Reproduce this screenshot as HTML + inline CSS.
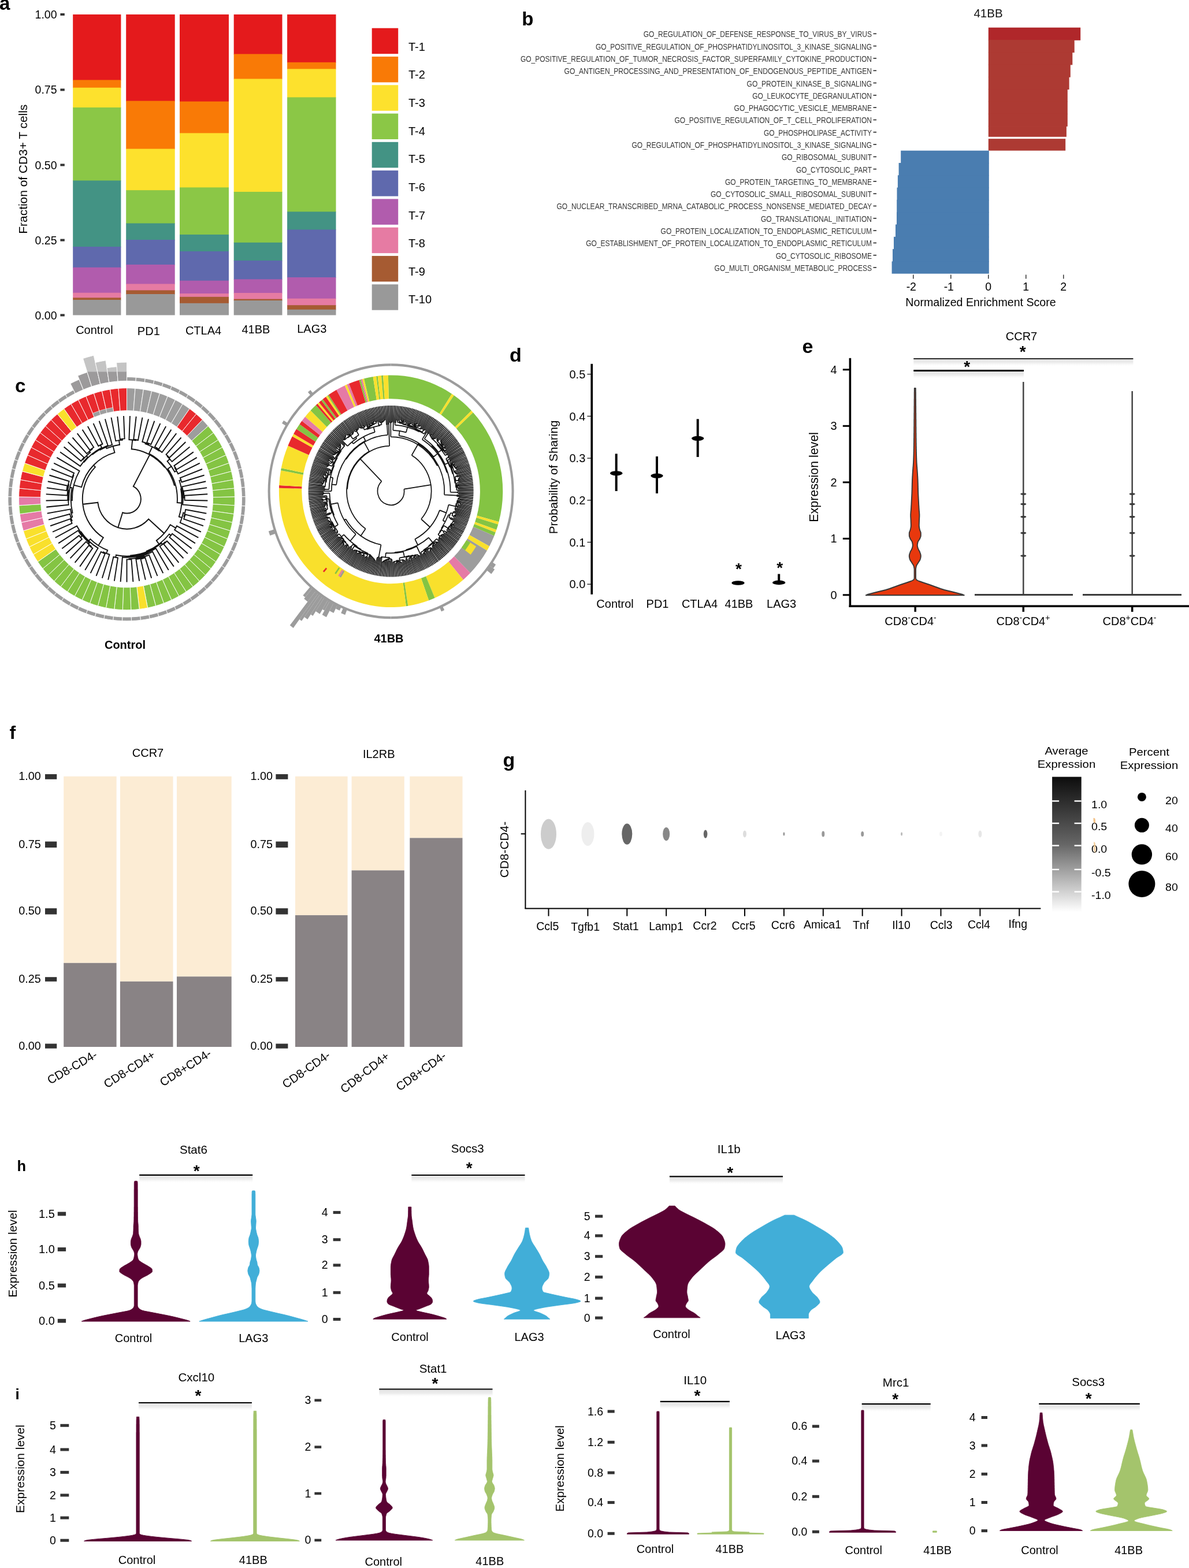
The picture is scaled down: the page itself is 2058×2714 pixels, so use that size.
<!DOCTYPE html>
<html><head><meta charset="utf-8"><style>html,body{margin:0;padding:0;background:#fff;}svg{display:block;}</style></head>
<body><svg width="2058" height="2714" viewBox="0 0 2058 2714" font-family="'Liberation Sans', Arial, Helvetica, sans-serif">
<defs><linearGradient id="shd" x1="0" y1="0" x2="0" y2="1"><stop offset="0" stop-color="#e2e2e2"/><stop offset="0.5" stop-color="#eeeeee"/><stop offset="1" stop-color="#ffffff" stop-opacity="0"/></linearGradient></defs>
<rect width="2058" height="2714" fill="#fff"/>
<text x="-1.0" y="17.0" font-size="33" font-weight="bold">a</text>
<rect x="126.20" y="25.00" width="83.20" height="114.20" fill="#E41A1C"/>
<rect x="126.20" y="138.40" width="83.20" height="14.10" fill="#F97A06"/>
<rect x="126.20" y="151.70" width="83.20" height="35.10" fill="#FDE12D"/>
<rect x="126.20" y="186.00" width="83.20" height="127.30" fill="#8BC746"/>
<rect x="126.20" y="312.50" width="83.20" height="115.30" fill="#439384"/>
<rect x="126.20" y="427.00" width="83.20" height="36.60" fill="#5F69AD"/>
<rect x="126.20" y="462.80" width="83.20" height="44.70" fill="#B15CAD"/>
<rect x="126.20" y="506.70" width="83.20" height="9.40" fill="#E67BA3"/>
<rect x="126.20" y="515.30" width="83.20" height="4.50" fill="#A65B32"/>
<rect x="126.20" y="519.00" width="83.20" height="26.50" fill="#999999"/>
<rect x="218.20" y="25.00" width="84.50" height="150.40" fill="#E41A1C"/>
<rect x="218.20" y="174.60" width="84.50" height="83.80" fill="#F97A06"/>
<rect x="218.20" y="257.60" width="84.50" height="72.40" fill="#FDE12D"/>
<rect x="218.20" y="329.20" width="84.50" height="58.10" fill="#8BC746"/>
<rect x="218.20" y="386.50" width="84.50" height="29.30" fill="#439384"/>
<rect x="218.20" y="415.00" width="84.50" height="43.80" fill="#5F69AD"/>
<rect x="218.20" y="458.00" width="84.50" height="34.20" fill="#B15CAD"/>
<rect x="218.20" y="491.40" width="84.50" height="11.80" fill="#E67BA3"/>
<rect x="218.20" y="502.40" width="84.50" height="7.40" fill="#A65B32"/>
<rect x="218.20" y="509.00" width="84.50" height="36.50" fill="#999999"/>
<rect x="311.00" y="25.00" width="85.00" height="151.40" fill="#E41A1C"/>
<rect x="311.00" y="175.60" width="85.00" height="55.60" fill="#F97A06"/>
<rect x="311.00" y="230.40" width="85.00" height="94.80" fill="#FDE12D"/>
<rect x="311.00" y="324.40" width="85.00" height="82.40" fill="#8BC746"/>
<rect x="311.00" y="406.00" width="85.00" height="29.80" fill="#439384"/>
<rect x="311.00" y="435.00" width="85.00" height="51.50" fill="#5F69AD"/>
<rect x="311.00" y="485.70" width="85.00" height="23.10" fill="#B15CAD"/>
<rect x="311.00" y="508.00" width="85.00" height="6.60" fill="#E67BA3"/>
<rect x="311.00" y="513.80" width="85.00" height="11.80" fill="#A65B32"/>
<rect x="311.00" y="524.80" width="85.00" height="20.70" fill="#999999"/>
<rect x="404.70" y="25.00" width="83.80" height="69.30" fill="#E41A1C"/>
<rect x="404.70" y="93.50" width="83.80" height="43.80" fill="#F97A06"/>
<rect x="404.70" y="136.50" width="83.80" height="196.30" fill="#FDE12D"/>
<rect x="404.70" y="332.00" width="83.80" height="88.60" fill="#8BC746"/>
<rect x="404.70" y="419.80" width="83.80" height="32.00" fill="#439384"/>
<rect x="404.70" y="451.00" width="83.80" height="33.10" fill="#5F69AD"/>
<rect x="404.70" y="483.30" width="83.80" height="24.50" fill="#B15CAD"/>
<rect x="404.70" y="507.00" width="83.80" height="11.40" fill="#E67BA3"/>
<rect x="404.70" y="517.60" width="83.80" height="3.20" fill="#A65B32"/>
<rect x="404.70" y="520.00" width="83.80" height="25.50" fill="#999999"/>
<rect x="497.10" y="25.00" width="84.40" height="83.60" fill="#E41A1C"/>
<rect x="497.10" y="107.80" width="84.40" height="12.30" fill="#F97A06"/>
<rect x="497.10" y="119.30" width="84.40" height="49.90" fill="#FDE12D"/>
<rect x="497.10" y="168.40" width="84.40" height="198.80" fill="#8BC746"/>
<rect x="497.10" y="366.40" width="84.40" height="31.80" fill="#439384"/>
<rect x="497.10" y="397.40" width="84.40" height="83.40" fill="#5F69AD"/>
<rect x="497.10" y="480.00" width="84.40" height="37.50" fill="#B15CAD"/>
<rect x="497.10" y="516.70" width="84.40" height="12.30" fill="#E67BA3"/>
<rect x="497.10" y="528.20" width="84.40" height="8.40" fill="#A65B32"/>
<rect x="497.10" y="535.80" width="84.40" height="9.70" fill="#999999"/>
<rect x="104.40" y="23.00" width="7.40" height="4.00" fill="#333"/>
<text x="98.5" y="32.0" font-size="19.5" text-anchor="end">1.00</text>
<rect x="104.40" y="153.40" width="7.40" height="4.00" fill="#333"/>
<text x="98.5" y="162.4" font-size="19.5" text-anchor="end">0.75</text>
<rect x="104.40" y="283.50" width="7.40" height="4.00" fill="#333"/>
<text x="98.5" y="292.5" font-size="19.5" text-anchor="end">0.50</text>
<rect x="104.40" y="413.60" width="7.40" height="4.00" fill="#333"/>
<text x="98.5" y="422.6" font-size="19.5" text-anchor="end">0.25</text>
<rect x="104.40" y="543.50" width="7.40" height="4.00" fill="#333"/>
<text x="98.5" y="552.5" font-size="19.5" text-anchor="end">0.00</text>
<text transform="translate(47,292.7) rotate(-90)" font-size="20.9" text-anchor="middle">Fraction of CD3+ T cells</text>
<text x="163.4" y="577.5" font-size="20" text-anchor="middle">Control</text>
<text x="257.3" y="579.6" font-size="20" text-anchor="middle">PD1</text>
<text x="352.0" y="578.7" font-size="20" text-anchor="middle">CTLA4</text>
<text x="442.9" y="577.2" font-size="20" text-anchor="middle">41BB</text>
<text x="539.8" y="576.0" font-size="20" text-anchor="middle">LAG3</text>
<rect x="643.70" y="48.70" width="45.50" height="44.50" fill="#E41A1C"/>
<text x="707.0" y="87.8" font-size="20">T-1</text>
<rect x="643.70" y="97.98" width="45.50" height="44.50" fill="#F97A06"/>
<text x="707.0" y="136.4" font-size="20">T-2</text>
<rect x="643.70" y="147.26" width="45.50" height="44.50" fill="#FDE12D"/>
<text x="707.0" y="185.0" font-size="20">T-3</text>
<rect x="643.70" y="196.54" width="45.50" height="44.50" fill="#8BC746"/>
<text x="707.0" y="233.7" font-size="20">T-4</text>
<rect x="643.70" y="245.82" width="45.50" height="44.50" fill="#439384"/>
<text x="707.0" y="282.3" font-size="20">T-5</text>
<rect x="643.70" y="295.10" width="45.50" height="44.50" fill="#5F69AD"/>
<text x="707.0" y="330.9" font-size="20">T-6</text>
<rect x="643.70" y="344.38" width="45.50" height="44.50" fill="#B15CAD"/>
<text x="707.0" y="379.5" font-size="20">T-7</text>
<rect x="643.70" y="393.66" width="45.50" height="44.50" fill="#E67BA3"/>
<text x="707.0" y="428.1" font-size="20">T-8</text>
<rect x="643.70" y="442.94" width="45.50" height="44.50" fill="#A65B32"/>
<text x="707.0" y="476.8" font-size="20">T-9</text>
<rect x="643.70" y="492.22" width="45.50" height="44.50" fill="#999999"/>
<text x="707.0" y="525.4" font-size="20">T-10</text>
<text x="903.2" y="44.2" font-size="33" font-weight="bold">b</text>
<text x="1710.5" y="29.8" font-size="20.5" text-anchor="middle" fill="#111">41BB</text>
<rect x="1710.80" y="47.70" width="159.40" height="22.10" fill="#B0272A"/>
<rect x="1710.80" y="69.00" width="148.90" height="22.10" fill="#AD3A33"/>
<rect x="1710.80" y="90.30" width="145.50" height="22.10" fill="#AD3A33"/>
<rect x="1710.80" y="111.60" width="142.00" height="22.10" fill="#AD3A33"/>
<rect x="1710.80" y="132.90" width="139.80" height="22.10" fill="#AD3A33"/>
<rect x="1710.80" y="154.20" width="137.00" height="22.10" fill="#AD3A33"/>
<rect x="1710.80" y="175.50" width="137.00" height="22.10" fill="#AD3A33"/>
<rect x="1710.80" y="196.80" width="137.00" height="22.10" fill="#AD3A33"/>
<rect x="1710.80" y="218.10" width="135.10" height="18.70" fill="#AD3A33"/>
<rect x="1710.80" y="240.20" width="133.40" height="20.50" fill="#AD3A33"/>
<rect x="1559.20" y="260.70" width="152.60" height="22.10" fill="#4A7DB0"/>
<rect x="1555.60" y="282.00" width="156.20" height="22.10" fill="#4A7DB0"/>
<rect x="1553.90" y="303.30" width="157.90" height="22.10" fill="#4A7DB0"/>
<rect x="1552.50" y="324.60" width="159.30" height="22.10" fill="#4A7DB0"/>
<rect x="1552.20" y="345.90" width="159.60" height="22.10" fill="#4A7DB0"/>
<rect x="1552.00" y="367.20" width="159.80" height="22.10" fill="#4A7DB0"/>
<rect x="1550.00" y="388.50" width="161.80" height="22.10" fill="#4A7DB0"/>
<rect x="1547.00" y="409.80" width="164.80" height="22.10" fill="#4A7DB0"/>
<rect x="1545.00" y="431.10" width="166.80" height="22.10" fill="#4A7DB0"/>
<rect x="1543.60" y="452.40" width="168.20" height="21.30" fill="#4A7DB0"/>
<text x="1113.7" y="64.2" font-size="15.5" fill="#383838" textLength="395.3" lengthAdjust="spacingAndGlyphs">GO_REGULATION_OF_DEFENSE_RESPONSE_TO_VIRUS_BY_VIRUS</text>
<line x1="1511.50" y1="58.35" x2="1517.00" y2="58.35" stroke="#333" stroke-width="1.7"/>
<text x="1030.9" y="85.6" font-size="15.5" fill="#383838" textLength="478.1" lengthAdjust="spacingAndGlyphs">GO_POSITIVE_REGULATION_OF_PHOSPHATIDYLINOSITOL_3_KINASE_SIGNALING</text>
<line x1="1511.50" y1="79.65" x2="1517.00" y2="79.65" stroke="#333" stroke-width="1.7"/>
<text x="900.9" y="106.9" font-size="15.5" fill="#383838" textLength="608.1" lengthAdjust="spacingAndGlyphs">GO_POSITIVE_REGULATION_OF_TUMOR_NECROSIS_FACTOR_SUPERFAMILY_CYTOKINE_PRODUCTION</text>
<line x1="1511.50" y1="100.95" x2="1517.00" y2="100.95" stroke="#333" stroke-width="1.7"/>
<text x="976.6" y="128.2" font-size="15.5" fill="#383838" textLength="532.4" lengthAdjust="spacingAndGlyphs">GO_ANTIGEN_PROCESSING_AND_PRESENTATION_OF_ENDOGENOUS_PEPTIDE_ANTIGEN</text>
<line x1="1511.50" y1="122.25" x2="1517.00" y2="122.25" stroke="#333" stroke-width="1.7"/>
<text x="1292.6" y="149.5" font-size="15.5" fill="#383838" textLength="216.4" lengthAdjust="spacingAndGlyphs">GO_PROTEIN_KINASE_B_SIGNALING</text>
<line x1="1511.50" y1="143.55" x2="1517.00" y2="143.55" stroke="#333" stroke-width="1.7"/>
<text x="1302.2" y="170.8" font-size="15.5" fill="#383838" textLength="206.8" lengthAdjust="spacingAndGlyphs">GO_LEUKOCYTE_DEGRANULATION</text>
<line x1="1511.50" y1="164.85" x2="1517.00" y2="164.85" stroke="#333" stroke-width="1.7"/>
<text x="1270.6" y="192.1" font-size="15.5" fill="#383838" textLength="238.4" lengthAdjust="spacingAndGlyphs">GO_PHAGOCYTIC_VESICLE_MEMBRANE</text>
<line x1="1511.50" y1="186.15" x2="1517.00" y2="186.15" stroke="#333" stroke-width="1.7"/>
<text x="1167.4" y="213.3" font-size="15.5" fill="#383838" textLength="341.6" lengthAdjust="spacingAndGlyphs">GO_POSITIVE_REGULATION_OF_T_CELL_PROLIFERATION</text>
<line x1="1511.50" y1="207.45" x2="1517.00" y2="207.45" stroke="#333" stroke-width="1.7"/>
<text x="1321.9" y="234.7" font-size="15.5" fill="#383838" textLength="187.1" lengthAdjust="spacingAndGlyphs">GO_PHOSPHOLIPASE_ACTIVITY</text>
<line x1="1511.50" y1="228.75" x2="1517.00" y2="228.75" stroke="#333" stroke-width="1.7"/>
<text x="1093.5" y="256.0" font-size="15.5" fill="#383838" textLength="415.5" lengthAdjust="spacingAndGlyphs">GO_REGULATION_OF_PHOSPHATIDYLINOSITOL_3_KINASE_SIGNALING</text>
<line x1="1511.50" y1="250.05" x2="1517.00" y2="250.05" stroke="#333" stroke-width="1.7"/>
<text x="1352.9" y="277.2" font-size="15.5" fill="#383838" textLength="156.1" lengthAdjust="spacingAndGlyphs">GO_RIBOSOMAL_SUBUNIT</text>
<line x1="1511.50" y1="271.35" x2="1517.00" y2="271.35" stroke="#333" stroke-width="1.7"/>
<text x="1377.9" y="298.6" font-size="15.5" fill="#383838" textLength="131.1" lengthAdjust="spacingAndGlyphs">GO_CYTOSOLIC_PART</text>
<line x1="1511.50" y1="292.65" x2="1517.00" y2="292.65" stroke="#333" stroke-width="1.7"/>
<text x="1255.0" y="319.8" font-size="15.5" fill="#383838" textLength="254.0" lengthAdjust="spacingAndGlyphs">GO_PROTEIN_TARGETING_TO_MEMBRANE</text>
<line x1="1511.50" y1="313.95" x2="1517.00" y2="313.95" stroke="#333" stroke-width="1.7"/>
<text x="1230.0" y="341.1" font-size="15.5" fill="#383838" textLength="279.0" lengthAdjust="spacingAndGlyphs">GO_CYTOSOLIC_SMALL_RIBOSOMAL_SUBUNIT</text>
<line x1="1511.50" y1="335.25" x2="1517.00" y2="335.25" stroke="#333" stroke-width="1.7"/>
<text x="963.5" y="362.4" font-size="15.5" fill="#383838" textLength="545.5" lengthAdjust="spacingAndGlyphs">GO_NUCLEAR_TRANSCRIBED_MRNA_CATABOLIC_PROCESS_NONSENSE_MEDIATED_DECAY</text>
<line x1="1511.50" y1="356.55" x2="1517.00" y2="356.55" stroke="#333" stroke-width="1.7"/>
<text x="1317.0" y="383.8" font-size="15.5" fill="#383838" textLength="192.0" lengthAdjust="spacingAndGlyphs">GO_TRANSLATIONAL_INITIATION</text>
<line x1="1511.50" y1="377.85" x2="1517.00" y2="377.85" stroke="#333" stroke-width="1.7"/>
<text x="1143.6" y="405.0" font-size="15.5" fill="#383838" textLength="365.4" lengthAdjust="spacingAndGlyphs">GO_PROTEIN_LOCALIZATION_TO_ENDOPLASMIC_RETICULUM</text>
<line x1="1511.50" y1="399.15" x2="1517.00" y2="399.15" stroke="#333" stroke-width="1.7"/>
<text x="1014.2" y="426.3" font-size="15.5" fill="#383838" textLength="494.8" lengthAdjust="spacingAndGlyphs">GO_ESTABLISHMENT_OF_PROTEIN_LOCALIZATION_TO_ENDOPLASMIC_RETICULUM</text>
<line x1="1511.50" y1="420.45" x2="1517.00" y2="420.45" stroke="#333" stroke-width="1.7"/>
<text x="1342.7" y="447.6" font-size="15.5" fill="#383838" textLength="166.3" lengthAdjust="spacingAndGlyphs">GO_CYTOSOLIC_RIBOSOME</text>
<line x1="1511.50" y1="441.75" x2="1517.00" y2="441.75" stroke="#333" stroke-width="1.7"/>
<text x="1236.6" y="468.9" font-size="15.5" fill="#383838" textLength="272.4" lengthAdjust="spacingAndGlyphs">GO_MULTI_ORGANISM_METABOLIC_PROCESS</text>
<line x1="1511.50" y1="463.05" x2="1517.00" y2="463.05" stroke="#333" stroke-width="1.7"/>
<line x1="1580.80" y1="475.40" x2="1580.80" y2="482.60" stroke="#333" stroke-width="1.5"/>
<text x="1577.3" y="502.6" font-size="19.5" text-anchor="middle">-2</text>
<line x1="1645.80" y1="475.40" x2="1645.80" y2="482.60" stroke="#333" stroke-width="1.5"/>
<text x="1642.3" y="502.6" font-size="19.5" text-anchor="middle">-1</text>
<line x1="1710.80" y1="475.40" x2="1710.80" y2="482.60" stroke="#333" stroke-width="1.5"/>
<text x="1710.8" y="502.6" font-size="19.5" text-anchor="middle">0</text>
<line x1="1775.80" y1="475.40" x2="1775.80" y2="482.60" stroke="#333" stroke-width="1.5"/>
<text x="1775.8" y="502.6" font-size="19.5" text-anchor="middle">1</text>
<line x1="1840.80" y1="475.40" x2="1840.80" y2="482.60" stroke="#333" stroke-width="1.5"/>
<text x="1840.8" y="502.6" font-size="19.5" text-anchor="middle">2</text>
<text x="1697.5" y="529.5" font-size="19.6" text-anchor="middle">Normalized Enrichment Score</text>
<text x="26.0" y="678.5" font-size="33" font-weight="bold">c</text>
<g transform="translate(219.5,863.7) scale(1,1.027)">
<defs><clipPath id="hclip"><rect x="-300" y="-214.5" width="600" height="600"/></clipPath></defs>
<path d="M0.00,-187.00 A187,187 0 0 1 14.49,-186.44 L11.55,-148.55 A149,149 0 0 0 0.00,-149.00Z" fill="#9D9D9D" stroke="#fff" stroke-width="0.9"/>
<path d="M0.00,-205.60 A205.6,205.6 0 0 1 15.93,-204.98 L15.42,-198.40 A199,199 0 0 0 0.00,-199.00Z" fill="#9C9C9C" stroke="#fff" stroke-width="0.9"/>
<path d="M14.49,-186.44 A187,187 0 0 1 28.90,-184.75 L23.02,-147.21 A149,149 0 0 0 11.55,-148.55Z" fill="#9D9D9D" stroke="#fff" stroke-width="0.9"/>
<path d="M15.93,-204.98 A205.6,205.6 0 0 1 31.77,-203.13 L30.75,-196.61 A199,199 0 0 0 15.42,-198.40Z" fill="#9C9C9C" stroke="#fff" stroke-width="0.9"/>
<path d="M28.90,-184.75 A187,187 0 0 1 43.13,-181.96 L34.36,-144.98 A149,149 0 0 0 23.02,-147.21Z" fill="#9D9D9D" stroke="#fff" stroke-width="0.9"/>
<path d="M31.77,-203.13 A205.6,205.6 0 0 1 47.41,-200.06 L45.89,-193.64 A199,199 0 0 0 30.75,-196.61Z" fill="#9C9C9C" stroke="#fff" stroke-width="0.9"/>
<path d="M43.13,-181.96 A187,187 0 0 1 57.10,-178.07 L45.49,-141.88 A149,149 0 0 0 34.36,-144.98Z" fill="#9D9D9D" stroke="#fff" stroke-width="0.9"/>
<path d="M47.41,-200.06 A205.6,205.6 0 0 1 62.78,-195.78 L60.76,-189.50 A199,199 0 0 0 45.89,-193.64Z" fill="#9C9C9C" stroke="#fff" stroke-width="0.9"/>
<path d="M57.10,-178.07 A187,187 0 0 1 70.72,-173.11 L56.35,-137.93 A149,149 0 0 0 45.49,-141.88Z" fill="#9D9D9D" stroke="#fff" stroke-width="0.9"/>
<path d="M62.78,-195.78 A205.6,205.6 0 0 1 77.76,-190.33 L75.26,-184.22 A199,199 0 0 0 60.76,-189.50Z" fill="#9C9C9C" stroke="#fff" stroke-width="0.9"/>
<path d="M70.72,-173.11 A187,187 0 0 1 83.93,-167.11 L66.87,-133.15 A149,149 0 0 0 56.35,-137.93Z" fill="#9D9D9D" stroke="#fff" stroke-width="0.9"/>
<path d="M77.76,-190.33 A205.6,205.6 0 0 1 92.27,-183.73 L89.31,-177.83 A199,199 0 0 0 75.26,-184.22Z" fill="#9C9C9C" stroke="#fff" stroke-width="0.9"/>
<path d="M83.93,-167.11 A187,187 0 0 1 96.62,-160.10 L76.99,-127.57 A149,149 0 0 0 66.87,-133.15Z" fill="#9D9D9D" stroke="#fff" stroke-width="0.9"/>
<path d="M92.27,-183.73 A205.6,205.6 0 0 1 106.23,-176.03 L102.82,-170.38 A199,199 0 0 0 89.31,-177.83Z" fill="#9C9C9C" stroke="#fff" stroke-width="0.9"/>
<path d="M96.62,-160.10 A187,187 0 0 1 108.74,-152.13 L86.64,-121.22 A149,149 0 0 0 76.99,-127.57Z" fill="#9D9D9D" stroke="#fff" stroke-width="0.9"/>
<path d="M106.23,-176.03 A205.6,205.6 0 0 1 119.55,-167.27 L115.72,-161.90 A199,199 0 0 0 102.82,-170.38Z" fill="#9C9C9C" stroke="#fff" stroke-width="0.9"/>
<path d="M108.74,-152.13 A187,187 0 0 1 120.20,-143.25 L95.78,-114.14 A149,149 0 0 0 86.64,-121.22Z" fill="#E8292D" stroke="#fff" stroke-width="0.9"/>
<path d="M119.55,-167.27 A205.6,205.6 0 0 1 132.16,-157.50 L127.91,-152.44 A199,199 0 0 0 115.72,-161.90Z" fill="#9C9C9C" stroke="#fff" stroke-width="0.9"/>
<path d="M120.20,-143.25 A187,187 0 0 1 130.94,-133.50 L104.33,-106.38 A149,149 0 0 0 95.78,-114.14Z" fill="#E8292D" stroke="#fff" stroke-width="0.9"/>
<path d="M132.16,-157.50 A205.6,205.6 0 0 1 143.96,-146.78 L139.34,-142.07 A199,199 0 0 0 127.91,-152.44Z" fill="#9C9C9C" stroke="#fff" stroke-width="0.9"/>
<path d="M130.94,-133.50 A187,187 0 0 1 140.89,-122.96 L112.26,-97.97 A149,149 0 0 0 104.33,-106.38Z" fill="#9D9D9D" stroke="#fff" stroke-width="0.9"/>
<path d="M143.96,-146.78 A205.6,205.6 0 0 1 154.91,-135.19 L149.93,-130.85 A199,199 0 0 0 139.34,-142.07Z" fill="#9C9C9C" stroke="#fff" stroke-width="0.9"/>
<path d="M140.89,-122.96 A187,187 0 0 1 150.00,-111.67 L119.52,-88.98 A149,149 0 0 0 112.26,-97.97Z" fill="#84C443" stroke="#fff" stroke-width="0.9"/>
<path d="M154.91,-135.19 A205.6,205.6 0 0 1 164.92,-122.78 L159.62,-118.83 A199,199 0 0 0 149.93,-130.85Z" fill="#9C9C9C" stroke="#fff" stroke-width="0.9"/>
<path d="M150.00,-111.67 A187,187 0 0 1 158.20,-99.71 L126.05,-79.45 A149,149 0 0 0 119.52,-88.98Z" fill="#84C443" stroke="#fff" stroke-width="0.9"/>
<path d="M164.92,-122.78 A205.6,205.6 0 0 1 173.93,-109.63 L168.35,-106.11 A199,199 0 0 0 159.62,-118.83Z" fill="#9C9C9C" stroke="#fff" stroke-width="0.9"/>
<path d="M158.20,-99.71 A187,187 0 0 1 165.45,-87.15 L131.83,-69.44 A149,149 0 0 0 126.05,-79.45Z" fill="#84C443" stroke="#fff" stroke-width="0.9"/>
<path d="M173.93,-109.63 A205.6,205.6 0 0 1 181.91,-95.82 L176.07,-92.74 A199,199 0 0 0 168.35,-106.11Z" fill="#9C9C9C" stroke="#fff" stroke-width="0.9"/>
<path d="M165.45,-87.15 A187,187 0 0 1 171.71,-74.07 L136.81,-59.02 A149,149 0 0 0 131.83,-69.44Z" fill="#84C443" stroke="#fff" stroke-width="0.9"/>
<path d="M181.91,-95.82 A205.6,205.6 0 0 1 188.79,-81.43 L182.73,-78.82 A199,199 0 0 0 176.07,-92.74Z" fill="#9C9C9C" stroke="#fff" stroke-width="0.9"/>
<path d="M171.71,-74.07 A187,187 0 0 1 176.93,-60.54 L140.98,-48.24 A149,149 0 0 0 136.81,-59.02Z" fill="#84C443" stroke="#fff" stroke-width="0.9"/>
<path d="M188.79,-81.43 A205.6,205.6 0 0 1 194.53,-66.56 L188.28,-64.42 A199,199 0 0 0 182.73,-78.82Z" fill="#9C9C9C" stroke="#fff" stroke-width="0.9"/>
<path d="M176.93,-60.54 A187,187 0 0 1 181.09,-46.65 L144.29,-37.17 A149,149 0 0 0 140.98,-48.24Z" fill="#84C443" stroke="#fff" stroke-width="0.9"/>
<path d="M194.53,-66.56 A205.6,205.6 0 0 1 199.10,-51.29 L192.71,-49.64 A199,199 0 0 0 188.28,-64.42Z" fill="#9C9C9C" stroke="#fff" stroke-width="0.9"/>
<path d="M181.09,-46.65 A187,187 0 0 1 184.16,-32.47 L146.74,-25.87 A149,149 0 0 0 144.29,-37.17Z" fill="#84C443" stroke="#fff" stroke-width="0.9"/>
<path d="M199.10,-51.29 A205.6,205.6 0 0 1 202.48,-35.70 L195.98,-34.56 A199,199 0 0 0 192.71,-49.64Z" fill="#9C9C9C" stroke="#fff" stroke-width="0.9"/>
<path d="M184.16,-32.47 A187,187 0 0 1 186.12,-18.10 L148.30,-14.42 A149,149 0 0 0 146.74,-25.87Z" fill="#84C443" stroke="#fff" stroke-width="0.9"/>
<path d="M202.48,-35.70 A205.6,205.6 0 0 1 204.63,-19.90 L198.07,-19.27 A199,199 0 0 0 195.98,-34.56Z" fill="#9C9C9C" stroke="#fff" stroke-width="0.9"/>
<path d="M186.12,-18.10 A187,187 0 0 1 186.96,-3.63 L148.97,-2.89 A149,149 0 0 0 148.30,-14.42Z" fill="#84C443" stroke="#fff" stroke-width="0.9"/>
<path d="M204.63,-19.90 A205.6,205.6 0 0 1 205.56,-3.99 L198.96,-3.86 A199,199 0 0 0 198.07,-19.27Z" fill="#9C9C9C" stroke="#fff" stroke-width="0.9"/>
<path d="M186.96,-3.63 A187,187 0 0 1 186.68,10.87 L148.75,8.66 A149,149 0 0 0 148.97,-2.89Z" fill="#84C443" stroke="#fff" stroke-width="0.9"/>
<path d="M205.56,-3.99 A205.6,205.6 0 0 1 205.25,11.95 L198.66,11.57 A199,199 0 0 0 198.96,-3.86Z" fill="#9C9C9C" stroke="#fff" stroke-width="0.9"/>
<path d="M186.68,10.87 A187,187 0 0 1 185.28,25.31 L147.63,20.16 A149,149 0 0 0 148.75,8.66Z" fill="#84C443" stroke="#fff" stroke-width="0.9"/>
<path d="M205.25,11.95 A205.6,205.6 0 0 1 203.71,27.82 L197.17,26.93 A199,199 0 0 0 198.66,11.57Z" fill="#9C9C9C" stroke="#fff" stroke-width="0.9"/>
<path d="M185.28,25.31 A187,187 0 0 1 182.76,39.59 L145.62,31.54 A149,149 0 0 0 147.63,20.16Z" fill="#84C443" stroke="#fff" stroke-width="0.9"/>
<path d="M203.71,27.82 A205.6,205.6 0 0 1 200.94,43.53 L194.49,42.13 A199,199 0 0 0 197.17,26.93Z" fill="#9C9C9C" stroke="#fff" stroke-width="0.9"/>
<path d="M182.76,39.59 A187,187 0 0 1 179.14,53.63 L142.74,42.73 A149,149 0 0 0 145.62,31.54Z" fill="#84C443" stroke="#fff" stroke-width="0.9"/>
<path d="M200.94,43.53 A205.6,205.6 0 0 1 196.96,58.97 L190.64,57.07 A199,199 0 0 0 194.49,42.13Z" fill="#9C9C9C" stroke="#fff" stroke-width="0.9"/>
<path d="M179.14,53.63 A187,187 0 0 1 174.45,67.35 L139.00,53.67 A149,149 0 0 0 142.74,42.73Z" fill="#84C443" stroke="#fff" stroke-width="0.9"/>
<path d="M196.96,58.97 A205.6,205.6 0 0 1 191.80,74.05 L185.64,71.68 A199,199 0 0 0 190.64,57.07Z" fill="#9C9C9C" stroke="#fff" stroke-width="0.9"/>
<path d="M174.45,67.35 A187,187 0 0 1 168.71,80.67 L134.42,64.28 A149,149 0 0 0 139.00,53.67Z" fill="#84C443" stroke="#fff" stroke-width="0.9"/>
<path d="M191.80,74.05 A205.6,205.6 0 0 1 185.49,88.69 L179.53,85.85 A199,199 0 0 0 185.64,71.68Z" fill="#9C9C9C" stroke="#fff" stroke-width="0.9"/>
<path d="M168.71,80.67 A187,187 0 0 1 161.95,93.50 L129.04,74.50 A149,149 0 0 0 134.42,64.28Z" fill="#84C443" stroke="#fff" stroke-width="0.9"/>
<path d="M185.49,88.69 A205.6,205.6 0 0 1 178.05,102.80 L172.34,99.50 A199,199 0 0 0 179.53,85.85Z" fill="#9C9C9C" stroke="#fff" stroke-width="0.9"/>
<path d="M161.95,93.50 A187,187 0 0 1 154.21,105.77 L122.88,84.28 A149,149 0 0 0 129.04,74.50Z" fill="#84C443" stroke="#fff" stroke-width="0.9"/>
<path d="M178.05,102.80 A205.6,205.6 0 0 1 169.55,116.29 L164.11,112.56 A199,199 0 0 0 172.34,99.50Z" fill="#9C9C9C" stroke="#fff" stroke-width="0.9"/>
<path d="M154.21,105.77 A187,187 0 0 1 145.55,117.40 L115.98,93.54 A149,149 0 0 0 122.88,84.28Z" fill="#84C443" stroke="#fff" stroke-width="0.9"/>
<path d="M169.55,116.29 A205.6,205.6 0 0 1 160.03,129.08 L154.89,124.93 A199,199 0 0 0 164.11,112.56Z" fill="#9C9C9C" stroke="#fff" stroke-width="0.9"/>
<path d="M145.55,117.40 A187,187 0 0 1 136.02,128.33 L108.38,102.25 A149,149 0 0 0 115.98,93.54Z" fill="#84C443" stroke="#fff" stroke-width="0.9"/>
<path d="M160.03,129.08 A205.6,205.6 0 0 1 149.55,141.09 L144.75,136.56 A199,199 0 0 0 154.89,124.93Z" fill="#9C9C9C" stroke="#fff" stroke-width="0.9"/>
<path d="M136.02,128.33 A187,187 0 0 1 125.67,138.48 L100.13,110.34 A149,149 0 0 0 108.38,102.25Z" fill="#84C443" stroke="#fff" stroke-width="0.9"/>
<path d="M149.55,141.09 A205.6,205.6 0 0 1 138.16,152.26 L133.73,147.37 A199,199 0 0 0 144.75,136.56Z" fill="#9C9C9C" stroke="#fff" stroke-width="0.9"/>
<path d="M125.67,138.48 A187,187 0 0 1 114.56,147.80 L91.28,117.77 A149,149 0 0 0 100.13,110.34Z" fill="#84C443" stroke="#fff" stroke-width="0.9"/>
<path d="M138.16,152.26 A205.6,205.6 0 0 1 125.95,162.50 L121.91,157.29 A199,199 0 0 0 133.73,147.37Z" fill="#9C9C9C" stroke="#fff" stroke-width="0.9"/>
<path d="M114.56,147.80 A187,187 0 0 1 102.76,156.24 L81.88,124.49 A149,149 0 0 0 91.28,117.77Z" fill="#84C443" stroke="#fff" stroke-width="0.9"/>
<path d="M125.95,162.50 A205.6,205.6 0 0 1 112.98,171.78 L109.35,166.26 A199,199 0 0 0 121.91,157.29Z" fill="#9C9C9C" stroke="#fff" stroke-width="0.9"/>
<path d="M102.76,156.24 A187,187 0 0 1 90.34,163.73 L71.98,130.46 A149,149 0 0 0 81.88,124.49Z" fill="#84C443" stroke="#fff" stroke-width="0.9"/>
<path d="M112.98,171.78 A205.6,205.6 0 0 1 99.33,180.01 L96.14,174.24 A199,199 0 0 0 109.35,166.26Z" fill="#9C9C9C" stroke="#fff" stroke-width="0.9"/>
<path d="M90.34,163.73 A187,187 0 0 1 77.38,170.24 L61.66,135.64 A149,149 0 0 0 71.98,130.46Z" fill="#84C443" stroke="#fff" stroke-width="0.9"/>
<path d="M99.33,180.01 A205.6,205.6 0 0 1 85.08,187.17 L82.35,181.16 A199,199 0 0 0 96.14,174.24Z" fill="#9C9C9C" stroke="#fff" stroke-width="0.9"/>
<path d="M77.38,170.24 A187,187 0 0 1 63.96,175.72 L50.96,140.01 A149,149 0 0 0 61.66,135.64Z" fill="#84C443" stroke="#fff" stroke-width="0.9"/>
<path d="M85.08,187.17 A205.6,205.6 0 0 1 70.32,193.20 L68.06,187.00 A199,199 0 0 0 82.35,181.16Z" fill="#9C9C9C" stroke="#fff" stroke-width="0.9"/>
<path d="M63.96,175.72 A187,187 0 0 1 50.15,180.15 L39.96,143.54 A149,149 0 0 0 50.96,140.01Z" fill="#84C443" stroke="#fff" stroke-width="0.9"/>
<path d="M70.32,193.20 A205.6,205.6 0 0 1 55.14,198.07 L53.37,191.71 A199,199 0 0 0 68.06,187.00Z" fill="#9C9C9C" stroke="#fff" stroke-width="0.9"/>
<path d="M50.15,180.15 A187,187 0 0 1 36.04,183.49 L28.71,146.21 A149,149 0 0 0 39.96,143.54Z" fill="#84C443" stroke="#fff" stroke-width="0.9"/>
<path d="M55.14,198.07 A205.6,205.6 0 0 1 39.62,201.75 L38.35,195.27 A199,199 0 0 0 53.37,191.71Z" fill="#9C9C9C" stroke="#fff" stroke-width="0.9"/>
<path d="M36.04,183.49 A187,187 0 0 1 21.71,185.74 L17.30,147.99 A149,149 0 0 0 28.71,146.21Z" fill="#F9E02C" stroke="#fff" stroke-width="0.9"/>
<path d="M39.62,201.75 A205.6,205.6 0 0 1 23.87,204.21 L23.10,197.65 A199,199 0 0 0 38.35,195.27Z" fill="#9C9C9C" stroke="#fff" stroke-width="0.9"/>
<path d="M21.71,185.74 A187,187 0 0 1 7.25,186.86 L5.78,148.89 A149,149 0 0 0 17.30,147.99Z" fill="#84C443" stroke="#fff" stroke-width="0.9"/>
<path d="M23.87,204.21 A205.6,205.6 0 0 1 7.97,205.45 L7.72,198.85 A199,199 0 0 0 23.10,197.65Z" fill="#9C9C9C" stroke="#fff" stroke-width="0.9"/>
<path d="M7.25,186.86 A187,187 0 0 1 -7.25,186.86 L-5.78,148.89 A149,149 0 0 0 5.78,148.89Z" fill="#84C443" stroke="#fff" stroke-width="0.9"/>
<path d="M7.97,205.45 A205.6,205.6 0 0 1 -7.97,205.45 L-7.72,198.85 A199,199 0 0 0 7.72,198.85Z" fill="#9C9C9C" stroke="#fff" stroke-width="0.9"/>
<path d="M-7.25,186.86 A187,187 0 0 1 -21.71,185.74 L-17.30,147.99 A149,149 0 0 0 -5.78,148.89Z" fill="#84C443" stroke="#fff" stroke-width="0.9"/>
<path d="M-7.97,205.45 A205.6,205.6 0 0 1 -23.87,204.21 L-23.10,197.65 A199,199 0 0 0 -7.72,198.85Z" fill="#9C9C9C" stroke="#fff" stroke-width="0.9"/>
<path d="M-21.71,185.74 A187,187 0 0 1 -36.04,183.49 L-28.71,146.21 A149,149 0 0 0 -17.30,147.99Z" fill="#84C443" stroke="#fff" stroke-width="0.9"/>
<path d="M-23.87,204.21 A205.6,205.6 0 0 1 -39.62,201.75 L-38.35,195.27 A199,199 0 0 0 -23.10,197.65Z" fill="#9C9C9C" stroke="#fff" stroke-width="0.9"/>
<path d="M-36.04,183.49 A187,187 0 0 1 -50.15,180.15 L-39.96,143.54 A149,149 0 0 0 -28.71,146.21Z" fill="#84C443" stroke="#fff" stroke-width="0.9"/>
<path d="M-39.62,201.75 A205.6,205.6 0 0 1 -55.14,198.07 L-53.37,191.71 A199,199 0 0 0 -38.35,195.27Z" fill="#9C9C9C" stroke="#fff" stroke-width="0.9"/>
<path d="M-50.15,180.15 A187,187 0 0 1 -63.96,175.72 L-50.96,140.01 A149,149 0 0 0 -39.96,143.54Z" fill="#84C443" stroke="#fff" stroke-width="0.9"/>
<path d="M-55.14,198.07 A205.6,205.6 0 0 1 -70.32,193.20 L-68.06,187.00 A199,199 0 0 0 -53.37,191.71Z" fill="#9C9C9C" stroke="#fff" stroke-width="0.9"/>
<path d="M-63.96,175.72 A187,187 0 0 1 -77.38,170.24 L-61.66,135.64 A149,149 0 0 0 -50.96,140.01Z" fill="#84C443" stroke="#fff" stroke-width="0.9"/>
<path d="M-70.32,193.20 A205.6,205.6 0 0 1 -85.08,187.17 L-82.35,181.16 A199,199 0 0 0 -68.06,187.00Z" fill="#9C9C9C" stroke="#fff" stroke-width="0.9"/>
<path d="M-77.38,170.24 A187,187 0 0 1 -90.34,163.73 L-71.98,130.46 A149,149 0 0 0 -61.66,135.64Z" fill="#84C443" stroke="#fff" stroke-width="0.9"/>
<path d="M-85.08,187.17 A205.6,205.6 0 0 1 -99.33,180.01 L-96.14,174.24 A199,199 0 0 0 -82.35,181.16Z" fill="#9C9C9C" stroke="#fff" stroke-width="0.9"/>
<path d="M-90.34,163.73 A187,187 0 0 1 -102.76,156.24 L-81.88,124.49 A149,149 0 0 0 -71.98,130.46Z" fill="#84C443" stroke="#fff" stroke-width="0.9"/>
<path d="M-99.33,180.01 A205.6,205.6 0 0 1 -112.98,171.78 L-109.35,166.26 A199,199 0 0 0 -96.14,174.24Z" fill="#9C9C9C" stroke="#fff" stroke-width="0.9"/>
<path d="M-102.76,156.24 A187,187 0 0 1 -114.56,147.80 L-91.28,117.77 A149,149 0 0 0 -81.88,124.49Z" fill="#84C443" stroke="#fff" stroke-width="0.9"/>
<path d="M-112.98,171.78 A205.6,205.6 0 0 1 -125.95,162.50 L-121.91,157.29 A199,199 0 0 0 -109.35,166.26Z" fill="#9C9C9C" stroke="#fff" stroke-width="0.9"/>
<path d="M-114.56,147.80 A187,187 0 0 1 -125.67,138.48 L-100.13,110.34 A149,149 0 0 0 -91.28,117.77Z" fill="#84C443" stroke="#fff" stroke-width="0.9"/>
<path d="M-125.95,162.50 A205.6,205.6 0 0 1 -138.16,152.26 L-133.73,147.37 A199,199 0 0 0 -121.91,157.29Z" fill="#9C9C9C" stroke="#fff" stroke-width="0.9"/>
<path d="M-125.67,138.48 A187,187 0 0 1 -136.02,128.33 L-108.38,102.25 A149,149 0 0 0 -100.13,110.34Z" fill="#84C443" stroke="#fff" stroke-width="0.9"/>
<path d="M-138.16,152.26 A205.6,205.6 0 0 1 -149.55,141.09 L-144.75,136.56 A199,199 0 0 0 -133.73,147.37Z" fill="#9C9C9C" stroke="#fff" stroke-width="0.9"/>
<path d="M-136.02,128.33 A187,187 0 0 1 -145.55,117.40 L-115.98,93.54 A149,149 0 0 0 -108.38,102.25Z" fill="#84C443" stroke="#fff" stroke-width="0.9"/>
<path d="M-149.55,141.09 A205.6,205.6 0 0 1 -160.03,129.08 L-154.89,124.93 A199,199 0 0 0 -144.75,136.56Z" fill="#9C9C9C" stroke="#fff" stroke-width="0.9"/>
<path d="M-145.55,117.40 A187,187 0 0 1 -154.21,105.77 L-122.88,84.28 A149,149 0 0 0 -115.98,93.54Z" fill="#84C443" stroke="#fff" stroke-width="0.9"/>
<path d="M-160.03,129.08 A205.6,205.6 0 0 1 -169.55,116.29 L-164.11,112.56 A199,199 0 0 0 -154.89,124.93Z" fill="#9C9C9C" stroke="#fff" stroke-width="0.9"/>
<path d="M-154.21,105.77 A187,187 0 0 1 -161.95,93.50 L-129.04,74.50 A149,149 0 0 0 -122.88,84.28Z" fill="#F9E02C" stroke="#fff" stroke-width="0.9"/>
<path d="M-169.55,116.29 A205.6,205.6 0 0 1 -178.05,102.80 L-172.34,99.50 A199,199 0 0 0 -164.11,112.56Z" fill="#9C9C9C" stroke="#fff" stroke-width="0.9"/>
<path d="M-161.95,93.50 A187,187 0 0 1 -168.71,80.67 L-134.42,64.28 A149,149 0 0 0 -129.04,74.50Z" fill="#F9E02C" stroke="#fff" stroke-width="0.9"/>
<path d="M-178.05,102.80 A205.6,205.6 0 0 1 -185.49,88.69 L-179.53,85.85 A199,199 0 0 0 -172.34,99.50Z" fill="#9C9C9C" stroke="#fff" stroke-width="0.9"/>
<path d="M-168.71,80.67 A187,187 0 0 1 -174.45,67.35 L-139.00,53.67 A149,149 0 0 0 -134.42,64.28Z" fill="#F9E02C" stroke="#fff" stroke-width="0.9"/>
<path d="M-185.49,88.69 A205.6,205.6 0 0 1 -191.80,74.05 L-185.64,71.68 A199,199 0 0 0 -179.53,85.85Z" fill="#9C9C9C" stroke="#fff" stroke-width="0.9"/>
<path d="M-174.45,67.35 A187,187 0 0 1 -179.14,53.63 L-142.74,42.73 A149,149 0 0 0 -139.00,53.67Z" fill="#F9E02C" stroke="#fff" stroke-width="0.9"/>
<path d="M-191.80,74.05 A205.6,205.6 0 0 1 -196.96,58.97 L-190.64,57.07 A199,199 0 0 0 -185.64,71.68Z" fill="#9C9C9C" stroke="#fff" stroke-width="0.9"/>
<path d="M-179.14,53.63 A187,187 0 0 1 -182.76,39.59 L-145.62,31.54 A149,149 0 0 0 -142.74,42.73Z" fill="#E57AA6" stroke="#fff" stroke-width="0.9"/>
<path d="M-196.96,58.97 A205.6,205.6 0 0 1 -200.94,43.53 L-194.49,42.13 A199,199 0 0 0 -190.64,57.07Z" fill="#9C9C9C" stroke="#fff" stroke-width="0.9"/>
<path d="M-182.76,39.59 A187,187 0 0 1 -185.28,25.31 L-147.63,20.16 A149,149 0 0 0 -145.62,31.54Z" fill="#E57AA6" stroke="#fff" stroke-width="0.9"/>
<path d="M-200.94,43.53 A205.6,205.6 0 0 1 -203.71,27.82 L-197.17,26.93 A199,199 0 0 0 -194.49,42.13Z" fill="#9C9C9C" stroke="#fff" stroke-width="0.9"/>
<path d="M-185.28,25.31 A187,187 0 0 1 -186.68,10.87 L-148.75,8.66 A149,149 0 0 0 -147.63,20.16Z" fill="#84C443" stroke="#fff" stroke-width="0.9"/>
<path d="M-203.71,27.82 A205.6,205.6 0 0 1 -205.25,11.95 L-198.66,11.57 A199,199 0 0 0 -197.17,26.93Z" fill="#9C9C9C" stroke="#fff" stroke-width="0.9"/>
<path d="M-186.68,10.87 A187,187 0 0 1 -186.96,-3.63 L-148.97,-2.89 A149,149 0 0 0 -148.75,8.66Z" fill="#E57AA6" stroke="#fff" stroke-width="0.9"/>
<path d="M-205.25,11.95 A205.6,205.6 0 0 1 -205.56,-3.99 L-198.96,-3.86 A199,199 0 0 0 -198.66,11.57Z" fill="#9C9C9C" stroke="#fff" stroke-width="0.9"/>
<path d="M-186.96,-3.63 A187,187 0 0 1 -186.12,-18.10 L-148.30,-14.42 A149,149 0 0 0 -148.97,-2.89Z" fill="#E8292D" stroke="#fff" stroke-width="0.9"/>
<path d="M-205.56,-3.99 A205.6,205.6 0 0 1 -204.63,-19.90 L-198.07,-19.27 A199,199 0 0 0 -198.96,-3.86Z" fill="#9C9C9C" stroke="#fff" stroke-width="0.9"/>
<path d="M-186.12,-18.10 A187,187 0 0 1 -184.16,-32.47 L-146.74,-25.87 A149,149 0 0 0 -148.30,-14.42Z" fill="#E8292D" stroke="#fff" stroke-width="0.9"/>
<path d="M-204.63,-19.90 A205.6,205.6 0 0 1 -202.48,-35.70 L-195.98,-34.56 A199,199 0 0 0 -198.07,-19.27Z" fill="#9C9C9C" stroke="#fff" stroke-width="0.9"/>
<path d="M-184.16,-32.47 A187,187 0 0 1 -181.09,-46.65 L-144.29,-37.17 A149,149 0 0 0 -146.74,-25.87Z" fill="#E8292D" stroke="#fff" stroke-width="0.9"/>
<path d="M-202.48,-35.70 A205.6,205.6 0 0 1 -199.10,-51.29 L-192.71,-49.64 A199,199 0 0 0 -195.98,-34.56Z" fill="#9C9C9C" stroke="#fff" stroke-width="0.9"/>
<path d="M-181.09,-46.65 A187,187 0 0 1 -176.93,-60.54 L-140.98,-48.24 A149,149 0 0 0 -144.29,-37.17Z" fill="#F9E02C" stroke="#fff" stroke-width="0.9"/>
<path d="M-199.10,-51.29 A205.6,205.6 0 0 1 -194.53,-66.56 L-188.28,-64.42 A199,199 0 0 0 -192.71,-49.64Z" fill="#9C9C9C" stroke="#fff" stroke-width="0.9"/>
<path d="M-176.93,-60.54 A187,187 0 0 1 -171.71,-74.07 L-136.81,-59.02 A149,149 0 0 0 -140.98,-48.24Z" fill="#E8292D" stroke="#fff" stroke-width="0.9"/>
<path d="M-194.53,-66.56 A205.6,205.6 0 0 1 -188.79,-81.43 L-182.73,-78.82 A199,199 0 0 0 -188.28,-64.42Z" fill="#9C9C9C" stroke="#fff" stroke-width="0.9"/>
<path d="M-171.71,-74.07 A187,187 0 0 1 -165.45,-87.15 L-131.83,-69.44 A149,149 0 0 0 -136.81,-59.02Z" fill="#E8292D" stroke="#fff" stroke-width="0.9"/>
<path d="M-188.79,-81.43 A205.6,205.6 0 0 1 -181.91,-95.82 L-176.07,-92.74 A199,199 0 0 0 -182.73,-78.82Z" fill="#9C9C9C" stroke="#fff" stroke-width="0.9"/>
<path d="M-165.45,-87.15 A187,187 0 0 1 -158.20,-99.71 L-126.05,-79.45 A149,149 0 0 0 -131.83,-69.44Z" fill="#E8292D" stroke="#fff" stroke-width="0.9"/>
<path d="M-181.91,-95.82 A205.6,205.6 0 0 1 -173.93,-109.63 L-168.35,-106.11 A199,199 0 0 0 -176.07,-92.74Z" fill="#9C9C9C" stroke="#fff" stroke-width="0.9"/>
<path d="M-158.20,-99.71 A187,187 0 0 1 -150.00,-111.67 L-119.52,-88.98 A149,149 0 0 0 -126.05,-79.45Z" fill="#E8292D" stroke="#fff" stroke-width="0.9"/>
<path d="M-173.93,-109.63 A205.6,205.6 0 0 1 -164.92,-122.78 L-159.62,-118.83 A199,199 0 0 0 -168.35,-106.11Z" fill="#9C9C9C" stroke="#fff" stroke-width="0.9"/>
<path d="M-150.00,-111.67 A187,187 0 0 1 -140.89,-122.96 L-112.26,-97.97 A149,149 0 0 0 -119.52,-88.98Z" fill="#E8292D" stroke="#fff" stroke-width="0.9"/>
<path d="M-164.92,-122.78 A205.6,205.6 0 0 1 -154.91,-135.19 L-149.93,-130.85 A199,199 0 0 0 -159.62,-118.83Z" fill="#9C9C9C" stroke="#fff" stroke-width="0.9"/>
<path d="M-140.89,-122.96 A187,187 0 0 1 -130.94,-133.50 L-104.33,-106.38 A149,149 0 0 0 -112.26,-97.97Z" fill="#E8292D" stroke="#fff" stroke-width="0.9"/>
<path d="M-154.91,-135.19 A205.6,205.6 0 0 1 -143.96,-146.78 L-139.34,-142.07 A199,199 0 0 0 -149.93,-130.85Z" fill="#9C9C9C" stroke="#fff" stroke-width="0.9"/>
<path d="M-130.94,-133.50 A187,187 0 0 1 -120.20,-143.25 L-95.78,-114.14 A149,149 0 0 0 -104.33,-106.38Z" fill="#E8292D" stroke="#fff" stroke-width="0.9"/>
<path d="M-143.96,-146.78 A205.6,205.6 0 0 1 -132.16,-157.50 L-127.91,-152.44 A199,199 0 0 0 -139.34,-142.07Z" fill="#9C9C9C" stroke="#fff" stroke-width="0.9"/>
<path d="M-120.20,-143.25 A187,187 0 0 1 -108.74,-152.13 L-86.64,-121.22 A149,149 0 0 0 -95.78,-114.14Z" fill="#F9E02C" stroke="#fff" stroke-width="0.9"/>
<path d="M-132.16,-157.50 A205.6,205.6 0 0 1 -119.55,-167.27 L-115.72,-161.90 A199,199 0 0 0 -127.91,-152.44Z" fill="#9C9C9C" stroke="#fff" stroke-width="0.9"/>
<path d="M-108.74,-152.13 A187,187 0 0 1 -96.62,-160.10 L-76.99,-127.57 A149,149 0 0 0 -86.64,-121.22Z" fill="#E8292D" stroke="#fff" stroke-width="0.9"/>
<path d="M-119.55,-167.27 A205.6,205.6 0 0 1 -106.23,-176.03 L-102.82,-170.38 A199,199 0 0 0 -115.72,-161.90Z" fill="#9C9C9C" stroke="#fff" stroke-width="0.9"/>
<path d="M-96.62,-160.10 A187,187 0 0 1 -83.93,-167.11 L-66.87,-133.15 A149,149 0 0 0 -76.99,-127.57Z" fill="#E8292D" stroke="#fff" stroke-width="0.9"/>
<path d="M-106.23,-176.03 A205.6,205.6 0 0 1 -92.27,-183.73 L-89.31,-177.83 A199,199 0 0 0 -102.82,-170.38Z" fill="#9C9C9C" stroke="#fff" stroke-width="0.9"/>
<path d="M-83.93,-167.11 A187,187 0 0 1 -70.72,-173.11 L-56.35,-137.93 A149,149 0 0 0 -66.87,-133.15Z" fill="#E8292D" stroke="#fff" stroke-width="0.9"/>
<path d="M-97.70,-194.54 A217.7,217.7 0 0 1 -82.33,-201.53 L-75.26,-184.22 A199,199 0 0 0 -89.31,-177.83Z" fill="#C4C4C4" stroke="#fff" stroke-width="0.9"/>
<path d="M-97.70,-194.54 A217.7,217.7 0 0 1 -82.33,-201.53 L-75.26,-184.22 A199,199 0 0 0 -89.31,-177.83Z" fill="#9C9A9B" stroke="#fff" stroke-width="0.9" clip-path="url(#hclip)"/>
<path d="M-70.72,-173.11 A187,187 0 0 1 -57.10,-178.07 L-45.49,-141.88 A149,149 0 0 0 -56.35,-137.93Z" fill="#E8292D" stroke="#fff" stroke-width="0.9"/>
<path d="M-84.87,-207.73 A224.4,224.4 0 0 1 -68.52,-213.68 L-60.76,-189.50 A199,199 0 0 0 -75.26,-184.22Z" fill="#C4C4C4" stroke="#fff" stroke-width="0.9"/>
<path d="M-84.87,-207.73 A224.4,224.4 0 0 1 -68.52,-213.68 L-60.76,-189.50 A199,199 0 0 0 -75.26,-184.22Z" fill="#9C9A9B" stroke="#fff" stroke-width="0.9" clip-path="url(#hclip)"/>
<path d="M-57.10,-178.07 A187,187 0 0 1 -43.13,-181.96 L-34.36,-144.98 A149,149 0 0 0 -45.49,-141.88Z" fill="#E8292D" stroke="#fff" stroke-width="0.9"/>
<path d="M-75.93,-236.82 A248.7,248.7 0 0 1 -57.35,-242.00 L-45.89,-193.64 A199,199 0 0 0 -60.76,-189.50Z" fill="#C4C4C4" stroke="#fff" stroke-width="0.9"/>
<path d="M-75.93,-236.82 A248.7,248.7 0 0 1 -57.35,-242.00 L-45.89,-193.64 A199,199 0 0 0 -60.76,-189.50Z" fill="#9C9A9B" stroke="#fff" stroke-width="0.9" clip-path="url(#hclip)"/>
<path d="M-43.13,-181.96 A187,187 0 0 1 -28.90,-184.75 L-23.02,-147.21 A149,149 0 0 0 -34.36,-144.98Z" fill="#E8292D" stroke="#fff" stroke-width="0.9"/>
<path d="M-54.52,-230.03 A236.4,236.4 0 0 1 -36.53,-233.56 L-30.75,-196.61 A199,199 0 0 0 -45.89,-193.64Z" fill="#C4C4C4" stroke="#fff" stroke-width="0.9"/>
<path d="M-54.52,-230.03 A236.4,236.4 0 0 1 -36.53,-233.56 L-30.75,-196.61 A199,199 0 0 0 -45.89,-193.64Z" fill="#9C9A9B" stroke="#fff" stroke-width="0.9" clip-path="url(#hclip)"/>
<path d="M-28.90,-184.75 A187,187 0 0 1 -14.49,-186.44 L-11.55,-148.55 A149,149 0 0 0 -23.02,-147.21Z" fill="#E8292D" stroke="#fff" stroke-width="0.9"/>
<path d="M-34.57,-221.01 A223.7,223.7 0 0 1 -17.34,-223.03 L-15.42,-198.40 A199,199 0 0 0 -30.75,-196.61Z" fill="#C4C4C4" stroke="#fff" stroke-width="0.9"/>
<path d="M-34.57,-221.01 A223.7,223.7 0 0 1 -17.34,-223.03 L-15.42,-198.40 A199,199 0 0 0 -30.75,-196.61Z" fill="#9C9A9B" stroke="#fff" stroke-width="0.9" clip-path="url(#hclip)"/>
<path d="M-14.49,-186.44 A187,187 0 0 1 -0.00,-187.00 L-0.00,-149.00 A149,149 0 0 0 -11.55,-148.55Z" fill="#E8292D" stroke="#fff" stroke-width="0.9"/>
<path d="M-17.86,-229.81 A230.5,230.5 0 0 1 -0.00,-230.50 L-0.00,-199.00 A199,199 0 0 0 -15.42,-198.40Z" fill="#C4C4C4" stroke="#fff" stroke-width="0.9"/>
<path d="M-17.86,-229.81 A230.5,230.5 0 0 1 -0.00,-230.50 L-0.00,-199.00 A199,199 0 0 0 -15.42,-198.40Z" fill="#9C9A9B" stroke="#fff" stroke-width="0.9" clip-path="url(#hclip)"/>
<path d="M-59.00,-144.41 A156,156 0 0 1 -47.63,-148.55 L-45.49,-141.88 A149,149 0 0 0 -56.35,-137.93Z" fill="#9E9E9E" stroke="#fff" stroke-width="0.6"/>
<path d="M-47.63,-148.55 A156,156 0 0 1 -35.98,-151.79 L-34.36,-144.98 A149,149 0 0 0 -45.49,-141.88Z" fill="#9E9E9E" stroke="#fff" stroke-width="0.6"/>
<path d="M-35.98,-151.79 A156,156 0 0 1 -24.10,-154.13 L-23.02,-147.21 A149,149 0 0 0 -34.36,-144.98Z" fill="#9E9E9E" stroke="#fff" stroke-width="0.6"/>
<path d="M16.1,-138.1L11.7,-100.4M26.8,-136.4L19.5,-99.1M11.7,-100.4A101.0,101.0 0 0 1 19.5,-99.1M5.4,-138.9L3.9,-100.0M15.6,-99.8L15.5,-98.8M3.9,-100.0A100.0,100.0 0 0 1 15.5,-98.8M47.5,-130.6L34.6,-94.9M57.5,-126.5L41.8,-92.0M34.6,-94.9A101.0,101.0 0 0 1 41.8,-92.0M37.3,-133.9L26.8,-96.4M38.2,-93.5L37.8,-92.6M26.8,-96.4A100.0,100.0 0 0 1 37.8,-92.6M67.2,-121.7L48.5,-88.0M76.4,-116.1L55.2,-83.9M48.5,-88.0A100.5,100.5 0 0 1 55.2,-83.9M51.9,-86.0L51.4,-85.2M85.2,-109.9L60.9,-78.6M51.4,-85.2A99.5,99.5 0 0 1 60.9,-78.6M32.4,-94.6L31.9,-93.2M56.3,-82.0L55.7,-81.2M31.9,-93.2A98.5,98.5 0 0 1 55.7,-81.2M93.4,-102.9L68.1,-75.0M101.1,-95.4L73.7,-69.5M68.1,-75.0A101.3,101.3 0 0 1 73.7,-69.5M70.9,-72.3L70.2,-71.6M108.2,-87.3L78.1,-63.0M70.2,-71.6A100.3,100.3 0 0 1 78.1,-63.0M114.6,-78.6L81.9,-56.1M120.4,-69.5L86.0,-49.6M81.9,-56.1A99.3,99.3 0 0 1 86.0,-49.6M84.0,-52.9L83.1,-52.4M125.4,-60.0L88.7,-42.4M83.1,-52.4A98.3,98.3 0 0 1 88.7,-42.4M74.3,-67.4L70.1,-63.6M86.0,-47.5L82.9,-45.8M70.1,-63.6A94.7,94.7 0 0 1 82.9,-45.8M129.7,-50.1L92.4,-35.7M133.2,-39.9L94.9,-28.4M92.4,-35.7A99.1,99.1 0 0 1 94.9,-28.4M138.8,-8.1L99.9,-5.8M139.0,2.7L100.1,1.9M99.9,-5.8A100.1,100.1 0 0 1 100.1,1.9M137.7,-18.8L98.2,-13.4M100.1,-1.9L99.1,-1.9M98.2,-13.4A99.1,99.1 0 0 1 99.1,-1.9M135.8,-29.4L95.9,-20.8M98.8,-7.7L97.8,-7.6M95.9,-20.8A98.1,98.1 0 0 1 97.8,-7.6M97.1,-14.2L96.1,-14.1M138.3,13.5L96.7,9.4M96.1,-14.1A97.1,97.1 0 0 1 96.7,9.4M93.8,-32.1L90.9,-31.1M97.1,-2.4L96.1,-2.3M90.9,-31.1A96.1,96.1 0 0 1 96.1,-2.3M134.6,34.7L101.0,26.0M131.5,45.0L98.7,33.8M101.0,26.0A104.3,104.3 0 0 1 98.7,33.8M136.9,24.1L101.7,17.9M99.9,29.9L99.0,29.6M101.7,17.9A103.3,103.3 0 0 1 99.0,29.6M100.5,23.8L97.8,23.2M127.6,55.1L92.3,39.8M97.8,23.2A100.5,100.5 0 0 1 92.3,39.8M94.6,-16.9L93.6,-16.7M95.4,31.6L90.3,29.9M93.6,-16.7A95.1,95.1 0 0 1 90.3,29.9M77.1,-55.1L71.1,-50.8M94.9,6.8L87.2,6.2M71.1,-50.8A87.4,87.4 0 0 1 87.2,6.2M44.2,-88.0L38.4,-76.4M84.2,-23.7L82.3,-23.2M38.4,-76.4A85.5,85.5 0 0 1 82.3,-23.2M9.7,-99.6L8.2,-84.1M65.9,-54.4L65.1,-53.8M8.2,-84.1A84.5,84.5 0 0 1 65.1,-53.8M123.0,64.8L86.5,45.5M117.6,74.1L82.7,52.1M86.5,45.5A97.7,97.7 0 0 1 82.7,52.1M111.5,83.0L78.6,58.5M104.7,91.4L73.8,64.4M78.6,58.5A98.0,98.0 0 0 1 73.8,64.4M97.3,99.2L69.5,70.9M89.3,106.5L63.8,76.0M69.5,70.9A99.2,99.2 0 0 1 63.8,76.0M66.7,73.5L66.0,72.8M80.8,113.1L57.1,79.9M66.0,72.8A98.2,98.2 0 0 1 57.1,79.9M42.4,132.4L31.7,98.9M32.1,135.3L24.0,101.1M31.7,98.9A103.9,103.9 0 0 1 24.0,101.1M27.9,100.1L27.6,99.1M21.5,137.3L15.9,101.7M27.6,99.1A102.9,102.9 0 0 1 15.9,101.7M52.6,128.7L38.5,94.3M21.8,100.6L21.6,99.6M38.5,94.3A101.9,101.9 0 0 1 21.6,99.6M10.8,138.6L7.9,101.6M0.0,139.0L0.0,101.9M7.9,101.6A101.9,101.9 0 0 1 0.0,101.9M30.2,97.3L29.9,96.4M4.0,101.8L3.9,100.8M29.9,96.4A100.9,100.9 0 0 1 3.9,100.8M62.4,124.2L44.6,88.8M17.0,99.5L16.8,97.9M44.6,88.8A99.3,99.3 0 0 1 16.8,97.9M31.0,94.4L30.7,93.4M-10.8,138.6L-7.6,98.1M30.7,93.4A98.3,98.3 0 0 1 -7.6,98.1M71.8,119.0L50.3,83.3M11.8,97.6L11.7,96.6M50.3,83.3A97.3,97.3 0 0 1 11.7,96.6M-21.5,137.3L-15.5,99.1M-32.1,135.3L-23.1,97.6M-15.5,99.1A100.3,100.3 0 0 1 -23.1,97.6M31.7,92.0L31.4,91.1M-19.3,98.4L-18.6,94.5M31.4,91.1A96.3,96.3 0 0 1 -18.6,94.5M61.7,76.5L59.9,74.2M6.6,96.1L6.6,95.1M59.9,74.2A95.3,95.3 0 0 1 6.6,95.1M76.3,61.5L73.4,59.2M34.8,88.8L34.4,87.8M73.4,59.2A94.3,94.3 0 0 1 34.4,87.8M84.6,48.9L75.2,43.4M55.8,76.1L51.3,70.0M75.2,43.4A86.8,86.8 0 0 1 51.3,70.0M-52.6,128.7L-37.7,92.2M-62.4,124.2L-44.7,89.0M-37.7,92.2A99.6,99.6 0 0 1 -44.7,89.0M-42.4,132.4L-30.0,93.5M-41.2,90.7L-40.6,89.4M-30.0,93.5A98.2,98.2 0 0 1 -40.6,89.4M-80.8,113.1L-59.2,82.9M-89.3,106.5L-65.5,78.1M-59.2,82.9A101.9,101.9 0 0 1 -65.5,78.1M-62.4,80.5L-61.8,79.7M-97.3,99.2L-70.6,72.0M-61.8,79.7A100.9,100.9 0 0 1 -70.6,72.0M-104.7,91.4L-77.6,67.7M-111.5,83.0L-82.6,61.5M-77.6,67.7A103.0,103.0 0 0 1 -82.6,61.5M-80.2,64.7L-77.6,62.6M-117.6,74.1L-84.3,53.1M-77.6,62.6A99.6,99.6 0 0 1 -84.3,53.1M-66.3,76.0L-64.9,74.3M-81.1,57.9L-80.2,57.4M-64.9,74.3A98.6,98.6 0 0 1 -80.2,57.4M-73.0,66.3L-72.3,65.6M-123.0,64.8L-86.4,45.5M-72.3,65.6A97.6,97.6 0 0 1 -86.4,45.5M-71.8,119.0L-49.9,82.7M-80.0,56.0L-79.2,55.4M-49.9,82.7A96.6,96.6 0 0 1 -79.2,55.4M-35.4,91.6L-33.3,86.4M-66.0,70.6L-63.2,67.6M-33.3,86.4A92.6,92.6 0 0 1 -63.2,67.6M-127.6,55.1L-94.9,41.0M-131.5,45.0L-97.8,33.5M-94.9,41.0A103.4,103.4 0 0 1 -97.8,33.5M-96.5,37.2L-94.9,36.6M-134.6,34.7L-98.5,25.4M-94.9,36.6A101.7,101.7 0 0 1 -98.5,25.4M-96.8,31.0L-94.3,30.3M-136.9,24.1L-97.6,17.2M-94.3,30.3A99.1,99.1 0 0 1 -97.6,17.2M-137.7,-18.8L-104.3,-14.2M-135.8,-29.4L-102.9,-22.3M-104.3,-14.2A105.3,105.3 0 0 1 -102.9,-22.3M-103.7,-18.3L-102.7,-18.1M-133.2,-39.9L-99.9,-29.9M-102.7,-18.1A104.3,104.3 0 0 1 -99.9,-29.9M-138.8,-8.1L-103.1,-6.0M-101.5,-24.1L-100.5,-23.8M-103.1,-6.0A103.3,103.3 0 0 1 -100.5,-23.8M-139.0,2.7L-102.3,2.0M-102.2,-15.0L-101.2,-14.8M-102.3,2.0A102.3,102.3 0 0 1 -101.2,-14.8M-138.3,13.5L-100.8,9.8M-102.1,-6.4L-101.1,-6.4M-100.8,9.8A101.3,101.3 0 0 1 -101.1,-6.4M-129.7,-50.1L-94.5,-36.5M-125.4,-60.0L-91.4,-43.7M-94.5,-36.5A101.3,101.3 0 0 1 -91.4,-43.7M-101.3,1.7L-100.3,1.7M-93.0,-40.1L-92.1,-39.7M-100.3,1.7A100.3,100.3 0 0 1 -92.1,-39.7M-96.2,23.8L-94.0,23.2M-98.4,-19.4L-94.9,-18.8M-94.0,23.2A96.8,96.8 0 0 1 -94.9,-18.8M-96.8,2.3L-94.6,2.2M-120.4,-69.5L-82.0,-47.3M-94.6,2.2A94.6,94.6 0 0 1 -82.0,-47.3M-108.2,-87.3L-79.3,-63.9M-101.1,-95.4L-74.1,-69.9M-79.3,-63.9A101.8,101.8 0 0 1 -74.1,-69.9M-85.2,-109.9L-63.9,-82.4M-76.4,-116.1L-57.3,-87.1M-63.9,-82.4A104.3,104.3 0 0 1 -57.3,-87.1M-93.4,-102.9L-69.4,-76.5M-60.6,-84.8L-60.0,-84.0M-69.4,-76.5A103.3,103.3 0 0 1 -60.0,-84.0M-76.7,-67.0L-76.0,-66.3M-64.8,-80.4L-63.3,-78.5M-76.0,-66.3A100.8,100.8 0 0 1 -63.3,-78.5M-114.6,-78.6L-80.6,-55.3M-69.9,-72.7L-67.8,-70.4M-80.6,-55.3A97.7,97.7 0 0 1 -67.8,-70.4M-67.2,-121.7L-49.2,-89.2M-57.5,-126.5L-42.1,-92.7M-49.2,-89.2A101.9,101.9 0 0 1 -42.1,-92.7M-74.6,-63.2L-73.8,-62.5M-45.7,-91.0L-43.4,-86.4M-73.8,-62.5A96.7,96.7 0 0 1 -43.4,-86.4M-59.8,-76.0L-59.2,-75.2M-47.5,-130.6L-32.7,-90.0M-59.2,-75.2A95.7,95.7 0 0 1 -32.7,-90.0M-46.6,-83.6L-46.1,-82.8M-37.3,-133.9L-25.4,-91.3M-46.1,-82.8A94.7,94.7 0 0 1 -25.4,-91.3M-16.1,-138.1L-11.8,-101.0M-5.4,-138.9L-3.9,-101.6M-11.8,-101.0A101.7,101.7 0 0 1 -3.9,-101.6M-26.8,-136.4L-19.2,-97.9M-7.9,-101.4L-7.7,-99.4M-19.2,-97.9A99.7,99.7 0 0 1 -7.7,-99.4M-36.0,-87.6L-35.0,-85.3M-13.5,-98.8L-12.5,-91.4M-35.0,-85.3A92.2,92.2 0 0 1 -12.5,-91.4M-91.7,-23.4L-78.5,-20.0M-23.9,-89.0L-21.0,-78.2M-78.5,-20.0A81.0,81.0 0 0 1 -21.0,-78.2M-49.2,78.4L-40.7,65.0M-57.7,-56.9L-54.6,-53.9M-40.7,65.0A76.7,76.7 0 0 1 -54.6,-53.9M64.6,57.9L37.7,33.8M-76.2,8.9L-50.2,5.8M37.7,33.8A50.6,50.6 0 0 1 -50.2,5.8M39.7,-74.6L11.3,-21.2M-15.3,48.2L-7.3,22.9M11.3,-21.2A24.0,24.0 0 0 1 -7.3,22.9" fill="none" stroke="#111" stroke-width="1.9" stroke-linecap="square"/>
</g>
<g transform="translate(676.6,850.25) scale(1,1.037)">
<path d="M-4.73,-193.64 A193.7,193.7 0 0 1 105.50,-162.45 L84.04,-129.41 A154.3,154.3 0 0 0 -3.77,-154.25Z" fill="#84C443"/>
<path d="M105.50,-162.45 A193.7,193.7 0 0 1 109.15,-160.02 L86.95,-127.47 A154.3,154.3 0 0 0 84.04,-129.41Z" fill="#F9E02C"/>
<path d="M109.15,-160.02 A193.7,193.7 0 0 1 139.34,-134.56 L110.99,-107.19 A154.3,154.3 0 0 0 86.95,-127.47Z" fill="#84C443"/>
<path d="M139.34,-134.56 A193.7,193.7 0 0 1 142.35,-131.36 L113.40,-104.64 A154.3,154.3 0 0 0 110.99,-107.19Z" fill="#F9E02C"/>
<path d="M142.35,-131.36 A193.7,193.7 0 0 1 186.83,51.11 L148.83,40.72 A154.3,154.3 0 0 0 113.40,-104.64Z" fill="#84C443"/>
<path d="M186.83,51.11 A193.7,193.7 0 0 1 185.63,55.34 L147.87,44.08 A154.3,154.3 0 0 0 148.83,40.72Z" fill="#F9E02C"/>
<path d="M185.63,55.34 A193.7,193.7 0 0 1 182.70,64.34 L145.54,51.25 A154.3,154.3 0 0 0 147.87,44.08Z" fill="#84C443"/>
<path d="M182.70,64.34 A193.7,193.7 0 0 1 181.08,68.78 L144.24,54.79 A154.3,154.3 0 0 0 145.54,51.25Z" fill="#F9E02C"/>
<path d="M181.08,68.78 A193.7,193.7 0 0 1 178.83,74.44 L142.45,59.30 A154.3,154.3 0 0 0 144.24,54.79Z" fill="#84C443"/>
<path d="M178.83,74.44 A193.7,193.7 0 0 1 170.55,91.83 L135.86,73.15 A154.3,154.3 0 0 0 142.45,59.30Z" fill="#9D9D9D"/>
<path d="M170.55,91.83 A193.7,193.7 0 0 1 166.38,99.18 L132.54,79.01 A154.3,154.3 0 0 0 135.86,73.15Z" fill="#F9E02C"/>
<path d="M166.38,99.18 A193.7,193.7 0 0 1 137.44,136.49 L109.49,108.73 A154.3,154.3 0 0 0 132.54,79.01Z" fill="#9D9D9D"/>
<path d="M137.44,136.49 A193.7,193.7 0 0 1 125.28,147.73 L99.80,117.68 A154.3,154.3 0 0 0 109.49,108.73Z" fill="#E57AA6"/>
<path d="M125.28,147.73 A193.7,193.7 0 0 1 76.00,178.17 L60.54,141.93 A154.3,154.3 0 0 0 99.80,117.68Z" fill="#F9E02C"/>
<path d="M76.00,178.17 A193.7,193.7 0 0 1 65.61,182.25 L52.27,145.18 A154.3,154.3 0 0 0 60.54,141.93Z" fill="#84C443"/>
<path d="M65.61,182.25 A193.7,193.7 0 0 1 29.63,191.42 L23.61,152.48 A154.3,154.3 0 0 0 52.27,145.18Z" fill="#F9E02C"/>
<path d="M29.63,191.42 A193.7,193.7 0 0 1 26.29,191.91 L20.94,152.87 A154.3,154.3 0 0 0 23.61,152.48Z" fill="#84C443"/>
<path d="M26.29,191.91 A193.7,193.7 0 0 1 -193.62,-5.41 L-154.24,-4.31 A154.3,154.3 0 0 0 20.94,152.87Z" fill="#F9E02C"/>
<path d="M-193.62,-5.41 A193.7,193.7 0 0 1 -193.45,-9.80 L-154.10,-7.81 A154.3,154.3 0 0 0 -154.24,-4.31Z" fill="#E8292D"/>
<path d="M-193.45,-9.80 A193.7,193.7 0 0 1 -190.58,-34.63 L-151.81,-27.59 A154.3,154.3 0 0 0 -154.10,-7.81Z" fill="#F9E02C"/>
<path d="M-190.58,-34.63 A193.7,193.7 0 0 1 -189.81,-38.62 L-151.20,-30.76 A154.3,154.3 0 0 0 -151.81,-27.59Z" fill="#84C443"/>
<path d="M-189.81,-38.62 A193.7,193.7 0 0 1 -178.17,-76.00 L-141.93,-60.54 A154.3,154.3 0 0 0 -151.20,-30.76Z" fill="#F9E02C"/>
<path d="M-178.17,-76.00 A193.7,193.7 0 0 1 -170.71,-91.53 L-135.99,-72.91 A154.3,154.3 0 0 0 -141.93,-60.54Z" fill="#E8292D"/>
<path d="M-170.71,-91.53 A193.7,193.7 0 0 1 -168.42,-95.68 L-134.16,-76.22 A154.3,154.3 0 0 0 -135.99,-72.91Z" fill="#F9E02C"/>
<path d="M-168.42,-95.68 A193.7,193.7 0 0 1 -163.55,-103.79 L-130.28,-82.68 A154.3,154.3 0 0 0 -134.16,-76.22Z" fill="#E8292D"/>
<path d="M-163.55,-103.79 A193.7,193.7 0 0 1 -158.09,-111.93 L-125.93,-89.16 A154.3,154.3 0 0 0 -130.28,-82.68Z" fill="#84C443"/>
<path d="M-158.09,-111.93 A193.7,193.7 0 0 1 -154.08,-117.38 L-122.74,-93.50 A154.3,154.3 0 0 0 -125.93,-89.16Z" fill="#E8292D"/>
<path d="M-154.08,-117.38 A193.7,193.7 0 0 1 -148.38,-124.51 L-118.20,-99.18 A154.3,154.3 0 0 0 -122.74,-93.50Z" fill="#E57AA6"/>
<path d="M-148.38,-124.51 A193.7,193.7 0 0 1 -139.10,-134.80 L-110.81,-107.38 A154.3,154.3 0 0 0 -118.20,-99.18Z" fill="#F9E02C"/>
<path d="M-139.10,-134.80 A193.7,193.7 0 0 1 -129.86,-143.72 L-103.45,-114.49 A154.3,154.3 0 0 0 -110.81,-107.38Z" fill="#84C443"/>
<path d="M-129.86,-143.72 A193.7,193.7 0 0 1 -127.08,-146.19 L-101.23,-116.45 A154.3,154.3 0 0 0 -103.45,-114.49Z" fill="#E8292D"/>
<path d="M-127.08,-146.19 A193.7,193.7 0 0 1 -124.51,-148.38 L-99.18,-118.20 A154.3,154.3 0 0 0 -101.23,-116.45Z" fill="#F9E02C"/>
<path d="M-124.51,-148.38 A193.7,193.7 0 0 1 -120.58,-151.59 L-96.05,-120.76 A154.3,154.3 0 0 0 -99.18,-118.20Z" fill="#E8292D"/>
<path d="M-120.58,-151.59 A193.7,193.7 0 0 1 -117.92,-153.67 L-93.93,-122.41 A154.3,154.3 0 0 0 -96.05,-120.76Z" fill="#84C443"/>
<path d="M-117.92,-153.67 A193.7,193.7 0 0 1 -112.48,-157.69 L-89.60,-125.62 A154.3,154.3 0 0 0 -93.93,-122.41Z" fill="#E8292D"/>
<path d="M-112.48,-157.69 A193.7,193.7 0 0 1 -109.71,-159.63 L-87.40,-127.16 A154.3,154.3 0 0 0 -89.60,-125.62Z" fill="#F9E02C"/>
<path d="M-109.71,-159.63 A193.7,193.7 0 0 1 -107.75,-160.96 L-85.84,-128.22 A154.3,154.3 0 0 0 -87.40,-127.16Z" fill="#84C443"/>
<path d="M-107.75,-160.96 A193.7,193.7 0 0 1 -94.20,-169.25 L-75.04,-134.82 A154.3,154.3 0 0 0 -85.84,-128.22Z" fill="#E8292D"/>
<path d="M-94.20,-169.25 A193.7,193.7 0 0 1 -79.71,-176.54 L-63.50,-140.63 A154.3,154.3 0 0 0 -75.04,-134.82Z" fill="#E57AA6"/>
<path d="M-79.71,-176.54 A193.7,193.7 0 0 1 -76.31,-178.04 L-60.79,-141.82 A154.3,154.3 0 0 0 -63.50,-140.63Z" fill="#F9E02C"/>
<path d="M-76.31,-178.04 A193.7,193.7 0 0 1 -72.56,-179.60 L-57.80,-143.06 A154.3,154.3 0 0 0 -60.79,-141.82Z" fill="#E57AA6"/>
<path d="M-72.56,-179.60 A193.7,193.7 0 0 1 -55.01,-185.72 L-43.82,-147.95 A154.3,154.3 0 0 0 -57.80,-143.06Z" fill="#E8292D"/>
<path d="M-55.01,-185.72 A193.7,193.7 0 0 1 -52.09,-186.56 L-41.49,-148.62 A154.3,154.3 0 0 0 -43.82,-147.95Z" fill="#84C443"/>
<path d="M-52.09,-186.56 A193.7,193.7 0 0 1 -49.48,-187.27 L-39.42,-149.18 A154.3,154.3 0 0 0 -41.49,-148.62Z" fill="#E57AA6"/>
<path d="M-49.48,-187.27 A193.7,193.7 0 0 1 -46.53,-188.03 L-37.07,-149.78 A154.3,154.3 0 0 0 -39.42,-149.18Z" fill="#F9E02C"/>
<path d="M-46.53,-188.03 A193.7,193.7 0 0 1 -30.97,-191.21 L-24.67,-152.32 A154.3,154.3 0 0 0 -37.07,-149.78Z" fill="#84C443"/>
<path d="M-30.97,-191.21 A193.7,193.7 0 0 1 -25.28,-192.04 L-20.14,-152.98 A154.3,154.3 0 0 0 -24.67,-152.32Z" fill="#F9E02C"/>
<path d="M-25.28,-192.04 A193.7,193.7 0 0 1 -22.93,-192.34 L-18.27,-153.21 A154.3,154.3 0 0 0 -20.14,-152.98Z" fill="#84C443"/>
<path d="M-22.93,-192.34 A193.7,193.7 0 0 1 -16.55,-192.99 L-13.18,-153.74 A154.3,154.3 0 0 0 -18.27,-153.21Z" fill="#F9E02C"/>
<path d="M-16.55,-192.99 A193.7,193.7 0 0 1 -13.51,-193.23 L-10.76,-153.92 A154.3,154.3 0 0 0 -13.18,-153.74Z" fill="#84C443"/>
<path d="M-13.51,-193.23 A193.7,193.7 0 0 1 -4.73,-193.64 L-3.77,-154.25 A154.3,154.3 0 0 0 -10.76,-153.92Z" fill="#F9E02C"/>
<path d="M147.56,92.21 A174,174 0 0 1 138.04,105.92 L122.41,93.93 A154.3,154.3 0 0 0 130.85,81.77Z" fill="#F9E02C"/>
<path d="M137.38,85.85 A162,162 0 0 1 128.52,98.62 L122.41,93.93 A154.3,154.3 0 0 0 130.85,81.77Z" fill="#84C443"/>
<path d="M-95.16,138.45 A168,168 0 0 1 -97.32,136.94 L-90.37,127.16 A156,156 0 0 0 -88.36,128.56Z" fill="#84C443"/>
<path d="M-89.03,142.47 A168,168 0 0 1 -91.25,141.06 L-84.74,130.98 A156,156 0 0 0 -82.67,132.30Z" fill="#E57AA6"/>
<path d="M-86.53,144.00 A168,168 0 0 1 -88.78,142.63 L-82.44,132.44 A156,156 0 0 0 -80.35,133.72Z" fill="#999"/>
<path d="M-115.60,135.35 A178,178 0 0 1 -117.71,133.52 L-112.42,127.52 A170,170 0 0 0 -110.41,129.27Z" fill="#E8292D"/>
<path d="M0.00,-213.00 A213,213 0 0 1 0.00,213.00 L0.00,209.00 A209,209 0 0 0 0.00,-209.00Z" fill="#9C9C9C"/>
<path d="M0.00,213.00 A213,213 0 0 1 -0.00,-213.00 L-0.00,-209.00 A209,209 0 0 0 0.00,209.00Z" fill="#9C9C9C"/>
<path d="M-79.20,206.32 A221,221 0 0 1 -86.35,203.43 L-82.05,193.31 A210,210 0 0 0 -75.26,196.05Z" fill="#9C9C9C"/>
<path d="M-88.67,199.15 A218,218 0 0 1 -95.56,195.94 L-92.06,188.75 A210,210 0 0 0 -85.41,191.84Z" fill="#9C9C9C"/>
<path d="M-99.07,203.13 A226,226 0 0 1 -106.10,199.55 L-98.59,185.42 A210,210 0 0 0 -92.06,188.75Z" fill="#9C9C9C"/>
<path d="M-111.73,210.14 A238,238 0 0 1 -119.00,206.11 L-105.00,181.87 A210,210 0 0 0 -98.59,185.42Z" fill="#9C9C9C"/>
<path d="M-115.00,199.19 A230,230 0 0 1 -118.46,197.15 L-108.16,180.01 A210,210 0 0 0 -105.00,181.87Z" fill="#9C9C9C"/>
<path d="M-123.09,204.86 A239,239 0 0 1 -130.17,200.44 L-114.37,176.12 A210,210 0 0 0 -108.16,180.01Z" fill="#9C9C9C"/>
<path d="M-135.07,207.99 A248,248 0 0 1 -138.68,205.60 L-117.43,174.10 A210,210 0 0 0 -114.37,176.12Z" fill="#9C9C9C"/>
<path d="M-144.27,213.89 A258,258 0 0 1 -149.82,210.04 L-121.95,170.96 A210,210 0 0 0 -117.43,174.10Z" fill="#9C9C9C"/>
<path d="M-154.47,216.55 A266,266 0 0 1 -158.22,213.83 L-124.91,168.81 A210,210 0 0 0 -121.95,170.96Z" fill="#9C9C9C"/>
<path d="M-168.93,228.30 A284,284 0 0 1 -174.85,223.80 L-129.29,165.48 A210,210 0 0 0 -124.91,168.81Z" fill="#9C9C9C"/>
<path d="M-144.06,184.39 A234,234 0 0 1 -150.41,179.25 L-134.99,160.87 A210,210 0 0 0 -129.29,165.48Z" fill="#9C9C9C"/>
<path d="M-148.48,176.96 A231,231 0 0 1 -152.16,173.81 L-138.32,158.01 A210,210 0 0 0 -134.99,160.87Z" fill="#9C9C9C"/>
<path d="M181.56,122.46 A219,219 0 0 1 177.17,128.72 L169.89,123.43 A210,210 0 0 0 174.10,117.43Z" fill="#9C9C9C"/>
<path d="M179.60,130.49 A222,222 0 0 1 173.74,138.20 L164.35,130.73 A210,210 0 0 0 169.89,123.43Z" fill="#9C9C9C"/>
<path d="M92.55,198.48 A219,219 0 0 1 87.33,200.84 L83.74,192.58 A210,210 0 0 0 88.75,190.32Z" fill="#9C9C9C"/>
<path d="M-143.68,-165.28 A219,219 0 0 1 -139.30,-168.99 L-133.58,-162.04 A210,210 0 0 0 -137.77,-158.49Z" fill="#9C9C9C"/>
<path d="M-188.58,-113.31 A220,220 0 0 1 -185.55,-118.21 L-177.11,-112.83 A210,210 0 0 0 -180.01,-108.16Z" fill="#9C9C9C"/>
<path d="M-209.27,74.11 A222,222 0 0 1 -211.73,66.76 L-200.28,63.15 A210,210 0 0 0 -197.95,70.10Z" fill="#9C9C9C"/>
<path d="M0.2,-143.0L0.2,-115.6M2.7,-143.0L2.2,-115.6M0.2,-115.6A115.6,115.6 0 0 1 2.2,-115.6M-2.2,-143.0L-1.8,-114.6M1.2,-115.6L1.2,-114.6M-1.8,-114.6A114.6,114.6 0 0 1 1.2,-114.6M7.7,-142.8L6.2,-114.5M10.2,-142.6L8.2,-114.4M6.2,-114.5A114.7,114.7 0 0 1 8.2,-114.4M12.7,-142.4L10.5,-117.9M15.2,-142.2L12.6,-117.7M10.5,-117.9A118.3,118.3 0 0 1 12.6,-117.7M20.1,-141.6L16.9,-118.6M22.6,-141.2L18.9,-118.3M16.9,-118.6A119.8,119.8 0 0 1 18.9,-118.3M25.1,-140.8L21.0,-117.9M27.5,-140.3L23.1,-117.5M21.0,-117.9A119.8,119.8 0 0 1 23.1,-117.5M17.9,-118.4L17.8,-117.5M22.0,-117.7L21.9,-116.8M17.8,-117.5A118.8,118.8 0 0 1 21.9,-116.8M19.8,-117.1L19.6,-116.1M30.0,-139.8L24.7,-115.2M19.6,-116.1A117.8,117.8 0 0 1 24.7,-115.2M17.7,-141.9L14.4,-115.8M22.2,-115.7L22.0,-114.6M14.4,-115.8A116.7,116.7 0 0 1 22.0,-114.6M11.5,-117.8L11.3,-115.1M18.2,-115.3L18.0,-114.3M11.3,-115.1A115.7,115.7 0 0 1 18.0,-114.3M14.7,-114.8L14.5,-113.8M32.4,-139.3L26.0,-111.7M14.5,-113.8A114.7,114.7 0 0 1 26.0,-111.7M39.7,-137.4L32.6,-113.1M42.0,-136.7L34.6,-112.5M32.6,-113.1A117.7,117.7 0 0 1 34.6,-112.5M37.3,-138.1L30.4,-112.7M33.6,-112.8L33.3,-111.8M30.4,-112.7A116.7,116.7 0 0 1 33.3,-111.8M34.8,-138.7L28.2,-112.2M31.9,-112.3L31.6,-111.3M28.2,-112.2A115.7,115.7 0 0 1 31.6,-111.3M51.5,-133.4L43.6,-112.9M53.8,-132.5L45.5,-112.1M43.6,-112.9A121.0,121.0 0 0 1 45.5,-112.1M49.1,-134.3L41.2,-112.7M44.5,-112.5L44.2,-111.5M41.2,-112.7A120.0,120.0 0 0 1 44.2,-111.5M46.8,-135.1L38.9,-112.4M42.7,-112.1L42.3,-111.2M38.9,-112.4A119.0,119.0 0 0 1 42.3,-111.2M58.4,-130.5L49.0,-109.5M60.7,-129.5L50.9,-108.6M49.0,-109.5A120.0,120.0 0 0 1 50.9,-108.6M56.1,-131.5L46.7,-109.4M49.9,-109.1L49.5,-108.2M46.7,-109.4A119.0,119.0 0 0 1 49.5,-108.2M40.6,-111.8L40.3,-110.9M48.1,-108.8L47.7,-107.9M40.3,-110.9A118.0,118.0 0 0 1 47.7,-107.9M44.4,-135.9L36.3,-111.2M44.0,-109.5L43.7,-108.5M36.3,-111.2A117.0,117.0 0 0 1 43.7,-108.5M62.9,-128.4L51.3,-104.8M65.1,-127.3L53.2,-103.9M51.3,-104.8A116.7,116.7 0 0 1 53.2,-103.9M40.0,-109.9L39.6,-108.7M52.3,-104.3L51.8,-103.5M39.6,-108.7A115.7,115.7 0 0 1 51.8,-103.5M29.9,-111.8L29.6,-110.8M45.8,-106.3L45.4,-105.3M29.6,-110.8A114.7,114.7 0 0 1 45.4,-105.3M20.3,-112.9L20.1,-111.9M37.6,-108.4L37.3,-107.4M20.1,-111.9A113.7,113.7 0 0 1 37.3,-107.4M69.5,-124.9L57.3,-102.9M71.7,-123.7L59.1,-101.9M57.3,-102.9A117.8,117.8 0 0 1 59.1,-101.9M67.4,-126.1L55.0,-103.0M58.2,-102.4L57.7,-101.6M55.0,-103.0A116.8,116.8 0 0 1 57.7,-101.6M28.8,-110.0L28.5,-109.0M56.4,-102.3L54.4,-98.7M28.5,-109.0A112.7,112.7 0 0 1 54.4,-98.7M41.8,-104.7L41.4,-103.7M73.9,-122.4L57.7,-95.6M41.4,-103.7A111.7,111.7 0 0 1 57.7,-95.6M7.2,-114.4L7.0,-110.5M49.7,-100.0L49.3,-99.1M7.0,-110.5A110.7,110.7 0 0 1 49.3,-99.1M5.2,-142.9L3.7,-101.7M28.7,-106.9L26.4,-98.3M3.7,-101.7A101.8,101.8 0 0 1 26.4,-98.3M78.1,-119.8L63.2,-97.0M80.2,-118.4L64.9,-95.9M63.2,-97.0A115.8,115.8 0 0 1 64.9,-95.9M84.3,-115.5L68.9,-94.5M86.3,-114.1L70.6,-93.3M68.9,-94.5A117.0,117.0 0 0 1 70.6,-93.3M82.2,-117.0L66.7,-94.9M69.7,-93.9L69.1,-93.1M66.7,-94.9A116.0,116.0 0 0 1 69.1,-93.1M67.9,-94.0L67.3,-93.2M88.2,-112.5L70.9,-90.5M67.3,-93.2A115.0,115.0 0 0 1 70.9,-90.5M92.1,-109.4L74.7,-88.7M94.0,-107.8L76.2,-87.4M74.7,-88.7A116.0,116.0 0 0 1 76.2,-87.4M90.2,-111.0L72.5,-89.2M75.5,-88.1L74.8,-87.3M72.5,-89.2A115.0,115.0 0 0 1 74.8,-87.3M69.2,-91.8L68.5,-91.0M73.7,-88.3L73.0,-87.5M68.5,-91.0A114.0,114.0 0 0 1 73.0,-87.5M95.9,-106.1L79.1,-87.5M97.7,-104.4L80.6,-86.1M79.1,-87.5A118.0,118.0 0 0 1 80.6,-86.1M79.9,-86.8L79.2,-86.1M99.5,-102.7L81.4,-84.0M79.2,-86.1A117.0,117.0 0 0 1 81.4,-84.0M101.3,-100.9L85.7,-85.4M103.0,-99.2L87.2,-83.9M85.7,-85.4A121.0,121.0 0 0 1 87.2,-83.9M86.4,-84.6L85.7,-83.9M104.8,-97.3L87.9,-81.7M85.7,-83.9A120.0,120.0 0 0 1 87.9,-81.7M86.8,-82.8L86.1,-82.1M106.4,-95.5L88.6,-79.5M86.1,-82.1A119.0,119.0 0 0 1 88.6,-79.5M108.1,-93.6L89.9,-77.9M109.7,-91.7L91.3,-76.3M89.9,-77.9A119.0,119.0 0 0 1 91.3,-76.3M87.3,-80.8L86.6,-80.1M90.6,-77.1L89.8,-76.5M86.6,-80.1A118.0,118.0 0 0 1 89.8,-76.5M111.3,-89.8L92.6,-74.7M112.8,-87.8L93.9,-73.1M92.6,-74.7A119.0,119.0 0 0 1 93.9,-73.1M93.2,-73.9L92.5,-73.3M114.4,-85.9L94.3,-70.8M92.5,-73.3A118.0,118.0 0 0 1 94.3,-70.8M88.2,-78.3L87.5,-77.6M93.4,-72.1L92.6,-71.4M87.5,-77.6A117.0,117.0 0 0 1 92.6,-71.4M80.3,-85.1L79.6,-84.3M90.1,-74.6L89.3,-74.0M79.6,-84.3A116.0,116.0 0 0 1 89.3,-74.0M115.8,-83.9L93.9,-68.0M117.3,-81.8L95.1,-66.4M93.9,-68.0A116.0,116.0 0 0 1 95.1,-66.4M84.6,-79.3L83.9,-78.6M94.5,-67.2L93.7,-66.6M83.9,-78.6A115.0,115.0 0 0 1 93.7,-66.6M89.0,-72.8L88.2,-72.1M118.7,-79.8L94.6,-63.6M88.2,-72.1A114.0,114.0 0 0 1 94.6,-63.6M70.8,-89.3L70.2,-88.5M91.5,-67.9L90.7,-67.3M70.2,-88.5A113.0,113.0 0 0 1 90.7,-67.3M120.1,-77.7L96.2,-62.2M121.4,-75.6L97.3,-60.5M96.2,-62.2A114.6,114.6 0 0 1 97.3,-60.5M81.1,-78.6L80.0,-77.5M96.7,-61.4L94.1,-59.7M80.0,-77.5A111.4,111.4 0 0 1 94.1,-59.7M64.1,-96.4L58.1,-87.4M87.5,-69.0L82.4,-65.0M58.1,-87.4A105.0,105.0 0 0 1 82.4,-65.0M122.7,-73.4L99.1,-59.3M124.0,-71.3L100.1,-57.6M99.1,-59.3A115.5,115.5 0 0 1 100.1,-57.6M99.6,-58.4L98.8,-57.9M125.2,-69.1L100.2,-55.3M98.8,-57.9A114.5,114.5 0 0 1 100.2,-55.3M127.5,-64.7L101.9,-51.7M128.6,-62.5L102.8,-49.9M101.9,-51.7A114.2,114.2 0 0 1 102.8,-49.9M131.7,-55.6L108.9,-46.0M132.7,-53.3L109.7,-44.1M108.9,-46.0A118.2,118.2 0 0 1 109.7,-44.1M134.5,-48.7L113.1,-40.9M135.3,-46.3L113.8,-38.9M113.1,-40.9A120.2,120.2 0 0 1 113.8,-38.9M113.4,-39.9L112.5,-39.6M136.1,-44.0L113.5,-36.6M112.5,-39.6A119.2,119.2 0 0 1 113.5,-36.6M133.6,-51.0L110.5,-42.2M113.0,-38.1L112.0,-37.8M110.5,-42.2A118.2,118.2 0 0 1 112.0,-37.8M109.3,-45.1L108.4,-44.7M111.3,-40.0L110.3,-39.7M108.4,-44.7A117.2,117.2 0 0 1 110.3,-39.7M130.7,-57.9L106.3,-47.1M109.4,-42.2L108.5,-41.8M106.3,-47.1A116.2,116.2 0 0 1 108.5,-41.8M129.7,-60.2L104.5,-48.5M107.4,-44.5L106.5,-44.1M104.5,-48.5A115.2,115.2 0 0 1 106.5,-44.1M138.2,-36.8L113.3,-30.1M138.8,-34.4L113.8,-28.2M113.3,-30.1A117.2,117.2 0 0 1 113.8,-28.2M137.5,-39.2L111.8,-31.8M113.6,-29.2L112.6,-28.9M111.8,-31.8A116.2,116.2 0 0 1 112.6,-28.9M136.8,-41.6L110.3,-33.5M112.2,-30.4L111.2,-30.1M110.3,-33.5A115.2,115.2 0 0 1 111.2,-30.1M105.5,-46.3L104.6,-45.9M110.8,-31.8L109.8,-31.5M104.6,-45.9A114.2,114.2 0 0 1 109.8,-31.5M102.3,-50.8L101.4,-50.4M107.4,-38.8L106.5,-38.5M101.4,-50.4A113.2,113.2 0 0 1 106.5,-38.5M139.4,-31.9L113.6,-26.0M139.9,-29.5L114.0,-24.0M113.6,-26.0A116.5,116.5 0 0 1 114.0,-24.0M140.4,-27.0L117.9,-22.7M140.9,-24.6L118.3,-20.6M117.9,-22.7A120.1,120.1 0 0 1 118.3,-20.6M118.1,-21.7L117.1,-21.5M141.3,-22.1L117.6,-18.4M117.1,-21.5A119.1,119.1 0 0 1 117.6,-18.4M117.4,-20.0L116.4,-19.8M141.6,-19.7L117.0,-16.2M116.4,-19.8A118.1,118.1 0 0 1 117.0,-16.2M113.8,-25.0L111.1,-24.4M116.7,-18.0L112.4,-17.4M111.1,-24.4A113.8,113.8 0 0 1 112.4,-17.4M142.5,-12.2L117.3,-10.1M142.7,-9.7L117.5,-8.0M117.3,-10.1A117.8,117.8 0 0 1 117.5,-8.0M142.2,-14.7L116.2,-12.0M117.4,-9.0L116.4,-9.0M116.2,-12.0A116.8,116.8 0 0 1 116.4,-9.0M142.8,-7.2L116.6,-5.9M142.9,-4.7L116.7,-3.9M116.6,-5.9A116.8,116.8 0 0 1 116.7,-3.9M116.3,-10.5L115.3,-10.4M116.7,-4.9L115.7,-4.8M115.3,-10.4A115.8,115.8 0 0 1 115.7,-4.8M142.0,-17.2L113.9,-13.8M115.5,-7.6L114.5,-7.6M113.9,-13.8A114.8,114.8 0 0 1 114.5,-7.6M114.3,-10.7L113.3,-10.6M143.0,-2.2L113.8,-1.8M113.3,-10.6A113.8,113.8 0 0 1 113.8,-1.8M111.8,-20.9L110.9,-20.7M113.6,-6.2L112.6,-6.1M110.9,-20.7A112.8,112.8 0 0 1 112.6,-6.1M104.1,-44.5L102.8,-43.9M112.0,-13.5L111.0,-13.3M102.8,-43.9A111.8,111.8 0 0 1 111.0,-13.3M126.4,-66.9L97.9,-51.8M108.0,-28.9L107.0,-28.7M97.9,-51.8A110.8,110.8 0 0 1 107.0,-28.7M99.5,-56.6L95.4,-54.3M103.1,-40.5L102.2,-40.1M95.4,-54.3A109.8,109.8 0 0 1 102.2,-40.1M71.2,-77.2L70.5,-76.4M99.0,-47.3L93.8,-44.8M70.5,-76.4A104.0,104.0 0 0 1 93.8,-44.8M143.0,2.7L117.6,2.3M142.9,5.2L117.5,4.3M117.6,2.3A117.6,117.6 0 0 1 117.5,4.3M143.0,0.2L115.7,0.2M117.6,3.3L115.7,3.2M115.7,0.2A115.7,115.7 0 0 1 115.7,3.2M83.6,-61.7L82.8,-61.2M115.7,1.7L103.0,1.5M82.8,-61.2A103.0,103.0 0 0 1 103.0,1.5M76.0,-121.1L54.2,-86.4M98.0,-31.5L97.1,-31.2M54.2,-86.4A102.0,102.0 0 0 1 97.1,-31.2M15.1,-100.7L13.9,-92.6M80.5,-62.6L73.9,-57.4M13.9,-92.6A93.6,93.6 0 0 1 73.9,-57.4M142.8,7.7L114.1,6.2M142.6,10.2L114.0,8.2M114.1,6.2A114.2,114.2 0 0 1 114.0,8.2M47.3,-80.8L46.8,-79.9M114.0,7.2L92.4,5.8M46.8,-79.9A92.6,92.6 0 0 1 92.4,5.8M-0.3,-114.6L-0.2,-90.8M81.8,-43.5L80.1,-42.7M-0.2,-90.8A90.8,90.8 0 0 1 80.1,-42.7M142.4,12.7L117.8,10.5M142.2,15.2L117.6,12.6M117.8,10.5A118.3,118.3 0 0 1 117.6,12.6M141.2,22.6L119.7,19.2M140.8,25.1L119.4,21.3M119.7,19.2A121.3,121.3 0 0 1 119.4,21.3M141.6,20.1L119.1,16.9M119.6,20.2L118.6,20.1M119.1,16.9A120.3,120.3 0 0 1 118.6,20.1M141.9,17.7L118.3,14.7M118.8,18.5L117.8,18.3M118.3,14.7A119.3,119.3 0 0 1 117.8,18.3M118.1,16.5L117.1,16.4M140.3,27.5L116.0,22.8M117.1,16.4A118.3,118.3 0 0 1 116.0,22.8M117.7,11.5L116.7,11.4M116.6,19.6L115.6,19.4M116.7,11.4A117.3,117.3 0 0 1 115.6,19.4M139.8,30.0L114.3,24.5M139.3,32.4L113.8,26.5M114.3,24.5A116.9,116.9 0 0 1 113.8,26.5M116.2,15.4L114.9,15.3M114.1,25.5L113.1,25.3M114.9,15.3A115.9,115.9 0 0 1 113.1,25.3M138.7,34.8L113.4,28.5M138.1,37.3L112.8,30.4M113.4,28.5A116.9,116.9 0 0 1 112.8,30.4M113.1,29.5L112.1,29.2M137.4,39.7L111.3,32.1M112.1,29.2A115.9,115.9 0 0 1 111.3,32.1M114.1,20.3L113.1,20.1M111.7,30.7L110.8,30.4M113.1,20.1A114.9,114.9 0 0 1 110.8,30.4M136.7,42.0L109.3,33.6M135.9,44.4L108.7,35.5M109.3,33.6A114.3,114.3 0 0 1 108.7,35.5M134.3,49.1L112.0,41.0M133.4,51.5L111.2,42.9M112.0,41.0A119.2,119.2 0 0 1 111.2,42.9M135.1,46.8L111.7,38.7M111.6,42.0L110.7,41.6M111.7,38.7A118.2,118.2 0 0 1 110.7,41.6M111.2,40.2L110.3,39.8M132.5,53.8L108.6,44.1M110.3,39.8A117.2,117.2 0 0 1 108.6,44.1M109.0,34.6L108.0,34.3M109.5,42.0L105.8,40.6M108.0,34.3A113.3,113.3 0 0 1 105.8,40.6M131.5,56.1L103.5,44.1M130.5,58.4L102.7,45.9M103.5,44.1A112.5,112.5 0 0 1 102.7,45.9M107.0,37.4L103.3,36.1M103.1,45.0L100.3,43.8M103.3,36.1A109.4,109.4 0 0 1 100.3,43.8M127.3,65.1L109.2,55.9M126.1,67.4L108.2,57.8M109.2,55.9A122.6,122.6 0 0 1 108.2,57.8M128.4,62.9L109.2,53.5M108.7,56.8L107.8,56.3M109.2,53.5A121.6,121.6 0 0 1 107.8,56.3M108.5,54.9L107.6,54.5M124.9,69.5L105.4,58.7M107.6,54.5A120.6,120.6 0 0 1 105.4,58.7M123.7,71.7L104.3,60.5M122.4,73.9L103.3,62.3M104.3,60.5A120.6,120.6 0 0 1 103.3,62.3M106.5,56.6L105.6,56.1M103.8,61.4L103.0,60.9M105.6,56.1A119.6,119.6 0 0 1 103.0,60.9M129.5,60.7L107.4,50.3M104.3,58.5L103.5,58.0M107.4,50.3A118.6,118.6 0 0 1 103.5,58.0M121.1,76.0L100.5,63.0M119.8,78.1L99.4,64.8M100.5,63.0A118.6,118.6 0 0 1 99.4,64.8M105.5,54.2L104.6,53.7M99.9,63.9L99.1,63.4M104.6,53.7A117.6,117.6 0 0 1 99.1,63.4M102.0,58.6L101.1,58.1M118.4,80.2L96.6,65.4M101.1,58.1A116.6,116.6 0 0 1 96.6,65.4M117.0,82.2L96.2,67.6M115.5,84.3L95.0,69.3M96.2,67.6A117.5,117.5 0 0 1 95.0,69.3M95.6,68.4L92.4,66.1M114.1,86.3L90.6,68.5M92.4,66.1A113.6,113.6 0 0 1 90.6,68.5M112.5,88.2L91.1,71.5M111.0,90.2L89.9,73.0M91.1,71.5A115.8,115.8 0 0 1 89.9,73.0M109.4,92.1L88.6,74.6M107.8,94.0L87.3,76.1M88.6,74.6A115.8,115.8 0 0 1 87.3,76.1M90.5,72.3L89.7,71.6M87.9,75.4L87.2,74.7M89.7,71.6A114.8,114.8 0 0 1 87.2,74.7M106.1,95.9L85.9,77.6M104.4,97.7L84.6,79.1M85.9,77.6A115.8,115.8 0 0 1 84.6,79.1M85.2,78.4L84.5,77.7M102.7,99.5L82.4,79.9M84.5,77.7A114.8,114.8 0 0 1 82.4,79.9M88.5,73.2L87.7,72.5M83.5,78.8L82.8,78.1M87.7,72.5A113.8,113.8 0 0 1 82.8,78.1M91.5,67.3L87.9,64.7M85.3,75.4L81.7,72.2M87.9,64.7A109.1,109.1 0 0 1 81.7,72.2M98.9,61.8L91.7,57.3M84.9,68.5L84.1,67.9M91.7,57.3A108.1,108.1 0 0 1 84.1,67.9M101.9,40.0L99.7,39.1M88.0,62.7L87.2,62.1M99.7,39.1A107.1,107.1 0 0 1 87.2,62.1M112.1,25.3L99.9,22.5M94.2,51.0L90.0,48.8M99.9,22.5A102.4,102.4 0 0 1 90.0,48.8M99.2,103.0L81.4,84.6M97.3,104.8L79.9,86.0M81.4,84.6A117.4,117.4 0 0 1 79.9,86.0M80.7,85.3L80.0,84.6M95.5,106.4L77.7,86.6M80.0,84.6A116.4,116.4 0 0 1 77.7,86.6M91.7,109.7L75.2,89.9M89.8,111.3L73.6,91.2M75.2,89.9A117.2,117.2 0 0 1 73.6,91.2M74.4,90.6L73.8,89.8M87.8,112.8L71.4,91.7M73.8,89.8A116.2,116.2 0 0 1 71.4,91.7M93.6,108.1L75.4,87.1M72.6,90.8L72.0,90.0M75.4,87.1A115.2,115.2 0 0 1 72.0,90.0M78.9,85.6L77.4,84.0M73.7,88.6L73.1,87.8M77.4,84.0A114.2,114.2 0 0 1 73.1,87.8M81.8,117.3L68.7,98.5M79.8,118.7L67.0,99.7M68.7,98.5A120.1,120.1 0 0 1 67.0,99.7M83.9,115.8L69.9,96.5M67.9,99.1L67.3,98.3M69.9,96.5A119.1,119.1 0 0 1 67.3,98.3M85.9,114.4L70.9,94.5M68.6,97.4L68.0,96.6M70.9,94.5A118.1,118.1 0 0 1 68.0,96.6M69.5,95.5L68.4,94.0M77.7,120.1L63.1,97.6M68.4,94.0A116.2,116.2 0 0 1 63.1,97.6M71.3,124.0L59.4,103.4M69.1,125.2L57.6,104.4M59.4,103.4A119.2,119.2 0 0 1 57.6,104.4M58.5,103.9L58.0,103.0M66.9,126.4L55.3,104.5M58.0,103.0A118.2,118.2 0 0 1 55.3,104.5M73.4,122.7L60.2,100.6M56.7,103.7L56.2,102.9M60.2,100.6A117.2,117.2 0 0 1 56.2,102.9M75.6,121.4L61.4,98.7M58.2,101.7L57.7,100.9M61.4,98.7A116.2,116.2 0 0 1 57.7,100.9M65.8,95.8L65.2,95.0M59.6,99.8L59.1,98.9M65.2,95.0A115.2,115.2 0 0 1 59.1,98.9M62.2,97.0L61.6,96.2M64.7,127.5L51.7,101.9M61.6,96.2A114.2,114.2 0 0 1 51.7,101.9M75.3,85.9L74.6,85.2M56.7,99.1L56.2,98.3M74.6,85.2A113.2,113.2 0 0 1 56.2,98.3M100.9,101.3L79.2,79.5M65.7,92.2L65.2,91.4M79.2,79.5A112.2,112.2 0 0 1 65.2,91.4M60.2,129.7L49.9,107.4M57.9,130.7L48.0,108.3M49.9,107.4A118.5,118.5 0 0 1 48.0,108.3M48.9,107.9L48.5,107.0M55.6,131.7L45.7,108.2M48.5,107.0A117.5,117.5 0 0 1 45.7,108.2M51.0,133.6L42.3,110.8M48.7,134.5L40.4,111.6M42.3,110.8A118.7,118.7 0 0 1 40.4,111.6M41.4,111.2L40.9,109.9M46.3,135.3L38.0,110.9M40.9,109.9A117.3,117.3 0 0 1 38.0,110.9M53.3,132.7L43.4,107.9M39.4,110.4L39.1,109.5M43.4,107.9A116.3,116.3 0 0 1 39.1,109.5M47.1,107.6L46.2,105.6M41.2,108.7L40.9,107.8M46.2,105.6A115.3,115.3 0 0 1 40.9,107.8M39.2,137.5L32.5,114.2M36.8,138.2L30.5,114.8M32.5,114.2A118.7,118.7 0 0 1 30.5,114.8M41.6,136.8L33.8,111.2M31.5,114.5L30.9,112.1M33.8,111.2A116.3,116.3 0 0 1 30.9,112.1M44.0,136.1L35.4,109.7M32.3,111.7L32.1,110.7M35.4,109.7A115.3,115.3 0 0 1 32.1,110.7M43.6,106.7L43.2,105.8M33.7,110.2L33.5,109.3M43.2,105.8A114.3,114.3 0 0 1 33.5,109.3M34.4,138.8L27.8,112.4M31.9,139.4L25.8,112.8M27.8,112.4A115.8,115.8 0 0 1 25.8,112.8M38.4,107.6L38.0,106.7M26.8,112.6L26.2,110.2M38.0,106.7A113.3,113.3 0 0 1 26.2,110.2M29.5,139.9L24.4,115.7M27.0,140.4L22.4,116.1M24.4,115.7A118.3,118.3 0 0 1 22.4,116.1M23.4,115.9L23.2,115.0M24.6,140.9L20.2,115.5M23.2,115.0A117.3,117.3 0 0 1 20.2,115.5M22.1,141.3L18.6,118.8M19.7,141.6L16.5,119.1M18.6,118.8A120.3,120.3 0 0 1 16.5,119.1M17.6,119.0L17.4,118.0M17.2,142.0L14.3,118.4M17.4,118.0A119.3,119.3 0 0 1 14.3,118.4M12.2,142.5L10.3,119.8M9.7,142.7L8.2,120.0M10.3,119.8A120.3,120.3 0 0 1 8.2,120.0M14.7,142.2L12.3,118.6M9.2,119.9L9.1,118.9M12.3,118.6A119.3,119.3 0 0 1 9.1,118.9M15.9,118.2L15.7,117.2M10.7,118.8L10.6,117.8M15.7,117.2A118.3,118.3 0 0 1 10.6,117.8M7.2,142.8L6.0,118.1M4.7,142.9L3.9,118.2M6.0,118.1A118.3,118.3 0 0 1 3.9,118.2M13.2,117.5L13.1,116.5M5.0,118.2L4.9,117.2M13.1,116.5A117.3,117.3 0 0 1 4.9,117.2M21.7,115.2L21.5,114.3M9.0,116.9L8.9,115.9M21.5,114.3A116.3,116.3 0 0 1 8.9,115.9M32.2,108.6L31.9,107.6M15.2,115.3L14.7,111.3M31.9,107.6A112.3,112.3 0 0 1 14.7,111.3M2.2,143.0L1.8,113.9M-0.2,143.0L-0.2,114.0M1.8,113.9A114.0,114.0 0 0 1 -0.2,114.0M-2.7,143.0L-2.2,116.4M-5.2,142.9L-4.3,116.4M-2.2,116.4A116.5,116.5 0 0 1 -4.3,116.4M-15.2,142.2L-12.6,117.9M-17.7,141.9L-14.7,117.6M-12.6,117.9A118.5,118.5 0 0 1 -14.7,117.6M-12.7,142.4L-10.4,117.1M-13.6,117.8L-13.5,116.8M-10.4,117.1A117.5,117.5 0 0 1 -13.5,116.8M-10.2,142.6L-8.3,115.8M-12.0,116.9L-11.8,115.5M-8.3,115.8A116.1,116.1 0 0 1 -11.8,115.5M-7.7,142.8L-6.2,114.9M-10.1,115.7L-10.0,114.7M-6.2,114.9A115.1,115.1 0 0 1 -10.0,114.7M-3.3,116.4L-3.2,114.1M-8.1,114.8L-8.0,113.8M-3.2,114.1A114.1,114.1 0 0 1 -8.0,113.8M0.8,113.9L0.8,112.9M-5.6,114.0L-5.6,112.8M0.8,112.9A113.0,113.0 0 0 1 -5.6,112.8M-20.1,141.6L-15.7,110.6M-22.6,141.2L-17.7,110.4M-15.7,110.6A111.8,111.8 0 0 1 -17.7,110.4M-2.4,112.9L-2.3,110.7M-16.7,110.5L-16.6,109.5M-2.3,110.7A110.8,110.8 0 0 1 -16.6,109.5M23.4,109.8L21.5,101.1M-9.5,110.4L-8.8,103.0M21.5,101.1A103.3,103.3 0 0 1 -8.8,103.0M62.5,128.6L44.7,92.1M6.4,103.1L6.3,102.1M44.7,92.1A102.3,102.3 0 0 1 6.3,102.1M72.4,85.7L65.4,77.4M26.0,99.0L25.8,98.0M65.4,77.4A101.3,101.3 0 0 1 25.8,98.0M95.8,36.0L84.4,31.7M46.7,89.9L41.6,80.0M84.4,31.7A90.2,90.2 0 0 1 41.6,80.0M46.6,-77.9L36.0,-60.1M67.5,59.8L52.4,46.5M36.0,-60.1A70.1,70.1 0 0 1 52.4,46.5M-27.5,140.3L-21.8,111.0M-30.0,139.8L-23.7,110.6M-21.8,111.0A113.1,113.1 0 0 1 -23.7,110.6M-25.1,140.8L-19.7,110.4M-22.7,110.8L-22.5,109.8M-19.7,110.4A112.1,112.1 0 0 1 -22.5,109.8M-32.4,139.3L-26.9,115.5M-34.8,138.7L-28.9,115.0M-26.9,115.5A118.6,118.6 0 0 1 -28.9,115.0M-27.9,115.3L-27.7,114.3M-37.3,138.1L-30.6,113.6M-27.7,114.3A117.6,117.6 0 0 1 -30.6,113.6M-29.2,114.0L-28.8,112.6M-39.7,137.4L-32.2,111.7M-28.8,112.6A116.3,116.3 0 0 1 -32.2,111.7M-30.5,112.2L-30.3,111.2M-42.0,136.7L-33.9,110.2M-30.3,111.2A115.3,115.3 0 0 1 -33.9,110.2M-32.1,110.7L-31.8,109.7M-44.4,135.9L-35.5,108.6M-31.8,109.7A114.3,114.3 0 0 1 -35.5,108.6M-33.7,109.2L-33.3,108.1M-46.8,135.1L-37.0,106.9M-33.3,108.1A113.1,113.1 0 0 1 -37.0,106.9M-51.5,133.4L-42.5,110.3M-53.8,132.5L-44.5,109.5M-42.5,110.3A118.2,118.2 0 0 1 -44.5,109.5M-49.1,134.3L-40.3,110.1M-43.5,109.9L-43.1,109.0M-40.3,110.1A117.2,117.2 0 0 1 -43.1,109.0M-58.4,130.5L-48.0,107.3M-60.7,129.5L-49.9,106.5M-48.0,107.3A117.6,117.6 0 0 1 -49.9,106.5M-56.1,131.5L-45.7,107.2M-49.0,106.9L-48.5,106.0M-45.7,107.2A116.6,116.6 0 0 1 -48.5,106.0M-67.4,126.1L-55.7,104.2M-69.5,124.9L-57.5,103.2M-55.7,104.2A118.2,118.2 0 0 1 -57.5,103.2M-65.1,127.3L-53.4,104.3M-56.6,103.7L-56.1,102.9M-53.4,104.3A117.2,117.2 0 0 1 -56.1,102.9M-62.9,128.4L-51.1,104.3M-54.7,103.6L-54.3,102.7M-51.1,104.3A116.2,116.2 0 0 1 -54.3,102.7M-71.7,123.7L-58.8,101.4M-73.9,122.4L-60.5,100.3M-58.8,101.4A117.2,117.2 0 0 1 -60.5,100.3M-76.0,121.1L-62.3,99.2M-78.1,119.8L-64.0,98.1M-62.3,99.2A117.2,117.2 0 0 1 -64.0,98.1M-59.6,100.8L-59.1,100.0M-63.1,98.7L-62.6,97.9M-59.1,100.0A116.2,116.2 0 0 1 -62.6,97.9M-52.7,103.5L-52.2,102.6M-60.9,98.9L-60.3,98.1M-52.2,102.6A115.2,115.2 0 0 1 -60.3,98.1M-47.1,106.6L-46.2,104.4M-56.3,100.4L-55.8,99.6M-46.2,104.4A114.2,114.2 0 0 1 -55.8,99.6M-41.7,109.5L-40.3,105.7M-51.1,102.1L-50.6,101.1M-40.3,105.7A113.1,113.1 0 0 1 -50.6,101.1M-35.2,107.5L-34.9,106.5M-45.5,103.5L-45.1,102.6M-34.9,106.5A112.1,112.1 0 0 1 -45.1,102.6M-80.2,118.4L-65.9,97.3M-82.2,117.0L-67.6,96.2M-65.9,97.3A117.6,117.6 0 0 1 -67.6,96.2M-40.0,104.7L-39.7,103.8M-66.8,96.8L-63.1,91.4M-39.7,103.8A111.1,111.1 0 0 1 -63.1,91.4M-84.3,115.5L-67.9,93.2M-86.3,114.1L-69.6,92.0M-67.9,93.2A115.3,115.3 0 0 1 -69.6,92.0M-51.7,98.3L-51.3,97.4M-68.8,92.6L-65.6,88.4M-51.3,97.4A110.1,110.1 0 0 1 -65.6,88.4M-90.2,111.0L-75.4,92.7M-92.1,109.4L-77.0,91.4M-75.4,92.7A119.5,119.5 0 0 1 -77.0,91.4M-76.2,92.1L-75.5,91.3M-94.0,107.8L-77.9,89.3M-75.5,91.3A118.5,118.5 0 0 1 -77.9,89.3M-88.2,112.5L-72.5,92.5M-76.7,90.3L-76.1,89.6M-72.5,92.5A117.5,117.5 0 0 1 -76.1,89.6M-95.9,106.1L-80.8,89.4M-97.7,104.4L-82.3,88.0M-80.8,89.4A120.5,120.5 0 0 1 -82.3,88.0M-81.6,88.7L-80.9,88.0M-99.5,102.7L-83.2,85.8M-80.9,88.0A119.5,119.5 0 0 1 -83.2,85.8M-82.0,86.9L-81.4,86.2M-101.3,100.9L-83.9,83.7M-81.4,86.2A118.5,118.5 0 0 1 -83.9,83.7M-82.7,84.9L-82.0,84.2M-103.0,99.2L-84.7,81.5M-82.0,84.2A117.5,117.5 0 0 1 -84.7,81.5M-74.3,91.0L-73.7,90.3M-83.3,82.9L-82.6,82.2M-73.7,90.3A116.5,116.5 0 0 1 -82.6,82.2M-108.1,93.6L-89.6,77.6M-109.7,91.7L-90.9,76.0M-89.6,77.6A118.5,118.5 0 0 1 -90.9,76.0M-106.4,95.5L-87.5,78.5M-90.3,76.8L-89.5,76.2M-87.5,78.5A117.5,117.5 0 0 1 -89.5,76.2M-104.8,97.3L-85.4,79.3M-88.5,77.3L-87.7,76.7M-85.4,79.3A116.5,116.5 0 0 1 -87.7,76.7M-78.3,86.3L-77.6,85.6M-86.6,78.0L-85.8,77.3M-77.6,85.6A115.5,115.5 0 0 1 -85.8,77.3M-111.3,89.8L-91.6,73.9M-112.8,87.8L-92.9,72.3M-91.6,73.9A117.7,117.7 0 0 1 -92.9,72.3M-81.8,81.6L-81.1,80.9M-92.3,73.1L-89.7,71.1M-81.1,80.9A114.5,114.5 0 0 1 -89.7,71.1M-58.6,93.2L-58.1,92.3M-85.6,76.1L-81.5,72.5M-58.1,92.3A109.1,109.1 0 0 1 -81.5,72.5M-114.4,85.9L-92.0,69.1M-115.8,83.9L-93.2,67.4M-92.0,69.1A115.0,115.0 0 0 1 -93.2,67.4M-118.7,79.8L-98.0,65.8M-120.1,77.7L-99.1,64.1M-98.0,65.8A118.0,118.0 0 0 1 -99.1,64.1M-117.3,81.8L-96.0,67.0M-98.5,65.0L-97.7,64.4M-96.0,67.0A117.0,117.0 0 0 1 -97.7,64.4M-122.7,73.4L-103.8,62.1M-124.0,71.3L-104.9,60.3M-103.8,62.1A121.0,121.0 0 0 1 -104.9,60.3M-104.4,61.2L-103.5,60.7M-125.2,69.1L-105.1,58.0M-103.5,60.7A120.0,120.0 0 0 1 -105.1,58.0M-121.4,75.6L-101.0,62.9M-104.3,59.4L-103.4,58.9M-101.0,62.9A119.0,119.0 0 0 1 -103.4,58.9M-126.4,66.9L-105.2,55.7M-127.5,64.7L-106.1,53.8M-105.2,55.7A119.0,119.0 0 0 1 -106.1,53.8M-102.3,60.9L-101.4,60.4M-105.7,54.8L-104.8,54.3M-101.4,60.4A118.0,118.0 0 0 1 -104.8,54.3M-129.7,60.2L-108.0,50.1M-130.7,57.9L-108.8,48.2M-108.0,50.1A119.0,119.0 0 0 1 -108.8,48.2M-128.6,62.5L-106.2,51.6M-108.4,49.2L-107.5,48.8M-106.2,51.6A118.0,118.0 0 0 1 -107.5,48.8M-103.1,57.4L-102.3,56.9M-106.8,50.2L-105.9,49.7M-102.3,56.9A117.0,117.0 0 0 1 -105.9,49.7M-96.8,65.7L-96.0,65.1M-104.2,53.3L-103.3,52.9M-96.0,65.1A116.0,116.0 0 0 1 -103.3,52.9M-132.7,53.3L-110.1,44.2M-133.6,51.0L-110.8,42.3M-110.1,44.2A118.6,118.6 0 0 1 -110.8,42.3M-131.7,55.6L-108.3,45.8M-110.4,43.3L-109.5,42.9M-108.3,45.8A117.6,117.6 0 0 1 -109.5,42.9M-99.8,59.1L-99.0,58.6M-108.9,44.3L-106.5,43.4M-99.0,58.6A115.0,115.0 0 0 1 -106.5,43.4M-92.6,68.3L-91.8,67.7M-103.0,51.1L-102.1,50.7M-91.8,67.7A114.0,114.0 0 0 1 -102.1,50.7M-134.5,48.7L-104.5,37.8M-135.3,46.3L-105.1,36.0M-104.5,37.8A111.1,111.1 0 0 1 -105.1,36.0M-136.8,41.6L-114.4,34.7M-137.5,39.2L-114.9,32.7M-114.4,34.7A119.5,119.5 0 0 1 -114.9,32.7M-114.7,33.7L-113.7,33.5M-138.2,36.8L-114.5,30.5M-113.7,33.5A118.5,118.5 0 0 1 -114.5,30.5M-136.1,44.0L-111.8,36.1M-114.1,32.0L-113.2,31.7M-111.8,36.1A117.5,117.5 0 0 1 -113.2,31.7M-112.5,33.9L-111.6,33.6M-138.8,34.4L-113.1,28.0M-111.6,33.6A116.5,116.5 0 0 1 -113.1,28.0M-139.4,31.9L-114.4,26.2M-139.9,29.5L-114.9,24.2M-114.4,26.2A117.4,117.4 0 0 1 -114.9,24.2M-114.7,25.2L-113.7,25.0M-140.4,27.0L-114.3,22.0M-113.7,25.0A116.4,116.4 0 0 1 -114.3,22.0M-114.0,23.5L-113.0,23.3M-140.9,24.6L-113.7,19.8M-113.0,23.3A115.4,115.4 0 0 1 -113.7,19.8M-113.4,21.6L-112.4,21.4M-141.3,22.1L-113.0,17.7M-112.4,21.4A114.4,114.4 0 0 1 -113.0,17.7M-112.4,30.8L-109.4,30.0M-112.7,19.5L-111.7,19.4M-109.4,30.0A113.4,113.4 0 0 1 -111.7,19.4M-142.0,17.2L-118.6,14.3M-142.2,14.7L-118.8,12.3M-118.6,14.3A119.4,119.4 0 0 1 -118.8,12.3M-141.6,19.7L-117.3,16.3M-118.7,13.3L-117.7,13.2M-117.3,16.3A118.4,118.4 0 0 1 -117.7,13.2M-117.5,14.7L-112.5,14.1M-142.5,12.2L-113.0,9.7M-112.5,14.1A113.4,113.4 0 0 1 -113.0,9.7M-110.7,24.7L-109.7,24.5M-112.8,11.9L-111.8,11.8M-109.7,24.5A112.4,112.4 0 0 1 -111.8,11.8M-110.9,18.2L-109.9,18.0M-142.7,9.7L-111.1,7.6M-109.9,18.0A111.4,111.4 0 0 1 -111.1,7.6M-104.8,36.9L-102.1,35.9M-110.7,12.8L-107.5,12.4M-102.1,35.9A108.2,108.2 0 0 1 -107.5,12.4M-97.3,59.4L-91.5,55.9M-105.4,24.3L-104.5,24.1M-91.5,55.9A107.2,107.2 0 0 1 -104.5,24.1M-142.8,7.2L-117.6,6.0M-142.9,4.7L-117.6,3.9M-117.6,6.0A117.7,117.7 0 0 1 -117.6,3.9M-117.6,4.9L-116.6,4.9M-143.0,2.2L-116.7,1.8M-116.6,4.9A116.7,116.7 0 0 1 -116.7,1.8M-99.3,40.5L-98.3,40.1M-116.7,3.4L-106.2,3.1M-98.3,40.1A106.2,106.2 0 0 1 -106.2,3.1M-70.5,83.2L-60.7,71.7M-103.9,21.9L-91.9,19.4M-60.7,71.7A93.9,93.9 0 0 1 -91.9,19.4M-21.1,110.1L-17.1,89.4M-80.7,48.1L-78.1,46.6M-17.1,89.4A91.0,91.0 0 0 1 -78.1,46.6M-143.0,-2.7L-114.2,-2.2M-142.9,-5.2L-114.1,-4.2M-114.2,-2.2A114.2,114.2 0 0 1 -114.1,-4.2M-142.8,-7.7L-115.0,-6.2M-142.6,-10.2L-114.8,-8.2M-115.0,-6.2A115.1,115.1 0 0 1 -114.8,-8.2M-142.2,-15.2L-119.4,-12.8M-141.9,-17.7L-119.2,-14.8M-119.4,-12.8A120.1,120.1 0 0 1 -119.2,-14.8M-142.4,-12.7L-118.7,-10.6M-119.3,-13.8L-118.3,-13.7M-118.7,-10.6A119.1,119.1 0 0 1 -118.3,-13.7M-118.5,-12.1L-117.5,-12.0M-141.6,-20.1L-116.9,-16.6M-117.5,-12.0A118.1,118.1 0 0 1 -116.9,-16.6M-117.2,-14.3L-116.3,-14.2M-141.2,-22.6L-115.6,-18.5M-116.3,-14.2A117.1,117.1 0 0 1 -115.6,-18.5M-140.3,-27.5L-116.7,-22.9M-139.8,-30.0L-116.3,-24.9M-116.7,-22.9A118.9,118.9 0 0 1 -116.3,-24.9M-140.8,-25.1L-116.1,-20.7M-116.5,-23.9L-115.5,-23.7M-116.1,-20.7A117.9,117.9 0 0 1 -115.5,-23.7M-116.0,-16.4L-115.0,-16.2M-115.8,-22.2L-114.0,-21.9M-115.0,-16.2A116.1,116.1 0 0 1 -114.0,-21.9M-139.3,-32.4L-113.1,-26.3M-138.7,-34.8L-112.6,-28.3M-113.1,-26.3A116.1,116.1 0 0 1 -112.6,-28.3M-114.5,-19.1L-113.6,-18.9M-112.9,-27.3L-111.9,-27.1M-113.6,-18.9A115.1,115.1 0 0 1 -111.9,-27.1M-114.9,-7.2L-113.9,-7.2M-112.8,-23.0L-111.8,-22.8M-113.9,-7.2A114.1,114.1 0 0 1 -111.8,-22.8M-138.1,-37.3L-111.1,-30.0M-137.4,-39.7L-110.5,-31.9M-111.1,-30.0A115.1,115.1 0 0 1 -110.5,-31.9M-113.1,-15.0L-112.1,-14.9M-110.8,-30.9L-109.0,-30.4M-112.1,-14.9A113.1,113.1 0 0 1 -109.0,-30.4M-110.8,-22.7L-109.8,-22.5M-136.7,-42.0L-107.2,-33.0M-109.8,-22.5A112.1,112.1 0 0 1 -107.2,-33.0M-135.9,-44.4L-105.2,-34.4M-135.1,-46.8L-104.6,-36.2M-105.2,-34.4A110.7,110.7 0 0 1 -104.6,-36.2M-108.6,-27.8L-105.9,-27.1M-104.9,-35.3L-103.6,-34.9M-105.9,-27.1A109.3,109.3 0 0 1 -103.6,-34.9M-134.3,-49.1L-110.8,-40.5M-133.4,-51.5L-110.0,-42.5M-110.8,-40.5A118.0,118.0 0 0 1 -110.0,-42.5M-110.4,-41.5L-109.5,-41.1M-132.5,-53.8L-108.4,-44.0M-109.5,-41.1A117.0,117.0 0 0 1 -108.4,-44.0M-108.9,-42.6L-108.0,-42.2M-131.5,-56.1L-106.7,-45.5M-108.0,-42.2A116.0,116.0 0 0 1 -106.7,-45.5M-129.5,-60.7L-107.4,-50.3M-128.4,-62.9L-106.5,-52.2M-107.4,-50.3A118.6,118.6 0 0 1 -106.5,-52.2M-130.5,-58.4L-103.5,-46.3M-107.0,-51.2L-102.2,-49.0M-103.5,-46.3A113.4,113.4 0 0 1 -102.2,-49.0M-102.9,-47.6L-102.0,-47.2M-127.3,-65.1L-100.0,-51.2M-102.0,-47.2A112.4,112.4 0 0 1 -100.0,-51.2M-107.3,-43.9L-102.1,-41.7M-101.0,-49.2L-99.1,-48.3M-102.1,-41.7A110.3,110.3 0 0 1 -99.1,-48.3M-124.9,-69.5L-99.7,-55.5M-123.7,-71.7L-98.7,-57.2M-99.7,-55.5A114.1,114.1 0 0 1 -98.7,-57.2M-126.1,-67.4L-99.0,-52.9M-99.2,-56.4L-97.6,-55.5M-99.0,-52.9A112.3,112.3 0 0 1 -97.6,-55.5M-122.4,-73.9L-99.7,-60.2M-121.1,-76.0L-98.7,-61.9M-99.7,-60.2A116.5,116.5 0 0 1 -98.7,-61.9M-99.2,-61.0L-98.4,-60.5M-119.8,-78.1L-96.7,-63.1M-98.4,-60.5A115.5,115.5 0 0 1 -96.7,-63.1M-118.4,-80.2L-95.6,-64.7M-117.0,-82.2L-94.5,-66.4M-95.6,-64.7A115.5,115.5 0 0 1 -94.5,-66.4M-97.6,-61.8L-96.7,-61.3M-95.1,-65.6L-94.2,-65.0M-96.7,-61.3A114.5,114.5 0 0 1 -94.2,-65.0M-95.5,-63.1L-94.7,-62.6M-115.5,-84.3L-91.7,-66.9M-94.7,-62.6A113.5,113.5 0 0 1 -91.7,-66.9M-114.1,-86.3L-93.9,-71.1M-112.5,-88.2L-92.7,-72.7M-93.9,-71.1A117.8,117.8 0 0 1 -92.7,-72.7M-107.8,-94.0L-88.1,-76.9M-106.1,-95.9L-86.8,-78.4M-88.1,-76.9A117.0,117.0 0 0 1 -86.8,-78.4M-109.4,-92.1L-88.7,-74.7M-87.5,-77.6L-86.7,-77.0M-88.7,-74.7A116.0,116.0 0 0 1 -86.7,-77.0M-111.0,-90.2L-88.7,-72.1M-87.7,-75.8L-86.4,-74.7M-88.7,-72.1A114.3,114.3 0 0 1 -86.4,-74.7M-93.3,-71.9L-89.7,-69.1M-87.6,-73.4L-86.8,-72.8M-89.7,-69.1A113.3,113.3 0 0 1 -86.8,-72.8M-93.2,-64.7L-92.2,-64.1M-88.3,-71.0L-87.5,-70.3M-92.2,-64.1A112.3,112.3 0 0 1 -87.5,-70.3M-98.3,-54.2L-97.5,-53.7M-89.9,-67.2L-89.1,-66.6M-97.5,-53.7A111.3,111.3 0 0 1 -89.1,-66.6M-104.4,-97.7L-81.2,-76.0M-102.7,-99.5L-79.9,-77.4M-81.2,-76.0A111.3,111.3 0 0 1 -79.9,-77.4M-93.5,-60.3L-92.7,-59.8M-80.6,-76.7L-79.9,-76.0M-92.7,-59.8A110.3,110.3 0 0 1 -79.9,-76.0M-100.7,-45.0L-99.7,-44.6M-86.6,-68.2L-85.9,-67.6M-99.7,-44.6A109.3,109.3 0 0 1 -85.9,-67.6M-104.8,-31.0L-103.8,-30.7M-93.5,-56.5L-92.7,-56.0M-103.8,-30.7A108.3,108.3 0 0 1 -92.7,-56.0M-114.1,-3.2L-107.2,-3.0M-99.1,-43.7L-98.1,-43.3M-107.2,-3.0A107.3,107.3 0 0 1 -98.1,-43.3M-143.0,-0.2L-102.9,-0.2M-104.6,-23.6L-100.4,-22.6M-102.9,-0.2A102.9,102.9 0 0 1 -100.4,-22.6M-93.6,-108.1L-79.4,-91.6M-91.7,-109.7L-77.7,-93.0M-79.4,-91.6A121.2,121.2 0 0 1 -77.7,-93.0M-95.5,-106.4L-80.3,-89.5M-78.6,-92.3L-77.9,-91.5M-80.3,-89.5A120.2,120.2 0 0 1 -77.9,-91.5M-97.3,-104.8L-81.1,-87.3M-79.1,-90.5L-78.4,-89.8M-81.1,-87.3A119.2,119.2 0 0 1 -78.4,-89.8M-99.2,-103.0L-82.0,-85.2M-79.8,-88.5L-79.1,-87.8M-82.0,-85.2A118.2,118.2 0 0 1 -79.1,-87.8M-89.8,-111.3L-75.5,-93.5M-87.8,-112.8L-73.8,-94.8M-75.5,-93.5A120.2,120.2 0 0 1 -73.8,-94.8M-74.7,-94.2L-74.0,-93.4M-85.9,-114.4L-71.6,-95.3M-74.0,-93.4A119.2,119.2 0 0 1 -71.6,-95.3M-72.8,-94.4L-72.2,-93.6M-83.9,-115.8L-69.3,-95.7M-72.2,-93.6A118.2,118.2 0 0 1 -69.3,-95.7M-80.6,-86.5L-79.9,-85.8M-70.8,-94.7L-70.2,-93.9M-79.9,-85.8A117.2,117.2 0 0 1 -70.2,-93.9M-79.8,-118.7L-65.9,-98.1M-77.7,-120.1L-64.2,-99.2M-65.9,-98.1A118.2,118.2 0 0 1 -64.2,-99.2M-81.8,-117.3L-67.1,-96.1M-65.1,-98.7L-64.5,-97.8M-67.1,-96.1A117.2,117.2 0 0 1 -64.5,-97.8M-75.1,-90.0L-74.5,-89.2M-65.8,-97.0L-65.2,-96.2M-74.5,-89.2A116.2,116.2 0 0 1 -65.2,-96.2M-73.4,-122.7L-61.1,-102.1M-71.3,-124.0L-59.3,-103.2M-61.1,-102.1A119.0,119.0 0 0 1 -59.3,-103.2M-69.1,-125.2L-57.5,-104.2M-66.9,-126.4L-55.7,-105.2M-57.5,-104.2A119.0,119.0 0 0 1 -55.7,-105.2M-60.2,-102.7L-59.7,-101.8M-56.6,-104.7L-56.1,-103.8M-59.7,-101.8A118.0,118.0 0 0 1 -56.1,-103.8M-75.6,-121.4L-61.8,-99.4M-57.9,-102.8L-57.5,-102.0M-61.8,-99.4A117.0,117.0 0 0 1 -57.5,-102.0M-69.9,-92.8L-65.6,-87.0M-59.7,-100.7L-55.6,-93.8M-65.6,-87.0A109.0,109.0 0 0 1 -55.6,-93.8M-100.9,-101.3L-75.1,-75.3M-60.7,-90.5L-59.2,-88.3M-75.1,-75.3A106.3,106.3 0 0 1 -59.2,-88.3M-64.7,-127.5L-53.6,-105.6M-62.5,-128.6L-51.7,-106.6M-53.6,-105.6A118.5,118.5 0 0 1 -51.7,-106.6M-52.7,-106.1L-52.2,-105.2M-60.2,-129.7L-49.5,-106.5M-52.2,-105.2A117.5,117.5 0 0 1 -49.5,-106.5M-57.9,-130.7L-48.0,-108.3M-55.6,-131.7L-46.1,-109.1M-48.0,-108.3A118.5,118.5 0 0 1 -46.1,-109.1M-47.0,-108.7L-46.7,-107.8M-53.3,-132.7L-43.8,-109.0M-46.7,-107.8A117.5,117.5 0 0 1 -43.8,-109.0M-50.8,-105.9L-50.4,-105.0M-45.2,-108.4L-44.9,-107.5M-50.4,-105.0A116.5,116.5 0 0 1 -44.9,-107.5M-46.3,-135.3L-37.7,-110.2M-44.0,-136.1L-35.8,-110.8M-37.7,-110.2A116.4,116.4 0 0 1 -35.8,-110.8M-36.8,-138.2L-30.7,-115.4M-34.4,-138.8L-28.7,-115.9M-30.7,-115.4A119.4,119.4 0 0 1 -28.7,-115.9M-39.2,-137.5L-32.4,-113.9M-29.7,-115.7L-29.5,-114.7M-32.4,-113.9A118.4,118.4 0 0 1 -29.5,-114.7M-41.6,-136.8L-34.1,-112.4M-31.0,-114.3L-30.7,-113.4M-34.1,-112.4A117.4,117.4 0 0 1 -30.7,-113.4M-31.9,-139.4L-26.5,-115.5M-29.5,-139.9L-24.4,-116.0M-26.5,-115.5A118.5,118.5 0 0 1 -24.4,-116.0M-32.4,-112.9L-32.1,-111.9M-25.5,-115.8L-25.0,-113.7M-32.1,-111.9A116.4,116.4 0 0 1 -25.0,-113.7M-36.8,-110.5L-36.4,-109.5M-28.6,-112.9L-28.3,-111.9M-36.4,-109.5A115.4,115.4 0 0 1 -28.3,-111.9M-48.7,-134.5L-39.0,-107.6M-32.4,-110.8L-32.1,-109.8M-39.0,-107.6A114.4,114.4 0 0 1 -32.1,-109.8M-51.0,-133.6L-40.4,-105.9M-35.6,-108.8L-35.2,-107.7M-40.4,-105.9A113.3,113.3 0 0 1 -35.2,-107.7M-47.6,-106.3L-46.0,-102.5M-37.8,-106.8L-37.5,-105.9M-46.0,-102.5A112.3,112.3 0 0 1 -37.5,-105.9M-24.6,-140.9L-20.1,-115.4M-22.1,-141.3L-18.1,-115.7M-20.1,-115.4A117.1,117.1 0 0 1 -18.1,-115.7M-14.7,-142.2L-12.2,-118.5M-12.2,-142.5L-10.2,-118.7M-12.2,-118.5A119.1,119.1 0 0 1 -10.2,-118.7M-17.2,-142.0L-14.2,-117.3M-11.2,-118.6L-11.1,-117.6M-14.2,-117.3A118.1,118.1 0 0 1 -11.1,-117.6M-19.7,-141.6L-16.1,-116.0M-12.7,-117.4L-12.5,-116.4M-16.1,-116.0A117.1,117.1 0 0 1 -12.5,-116.4M-19.1,-115.5L-19.0,-114.6M-14.3,-116.2L-14.2,-115.2M-19.0,-114.6A116.1,116.1 0 0 1 -14.2,-115.2M-27.0,-140.4L-21.2,-110.3M-16.6,-114.9L-16.0,-111.2M-21.2,-110.3A112.3,112.3 0 0 1 -16.0,-111.2M-41.8,-104.3L-41.4,-103.3M-18.6,-110.8L-18.5,-109.8M-41.4,-103.3A111.3,111.3 0 0 1 -18.5,-109.8M-67.5,-82.2L-65.0,-79.2M-30.1,-107.2L-27.7,-98.7M-65.0,-79.2A102.5,102.5 0 0 1 -27.7,-98.7M-102.3,-11.5L-94.5,-10.6M-47.4,-90.9L-44.0,-84.3M-94.5,-10.6A95.1,95.1 0 0 1 -44.0,-84.3M-9.7,-142.7L-7.6,-111.2M-7.2,-142.8L-5.6,-111.3M-7.6,-111.2A111.5,111.5 0 0 1 -5.6,-111.3M-78.4,-53.8L-77.6,-53.2M-6.6,-111.3L-5.6,-93.9M-77.6,-53.2A94.1,94.1 0 0 1 -5.6,-93.9M-52.2,74.5L-43.9,62.7M-46.3,-81.9L-37.7,-66.6M-43.9,62.7A76.5,76.5 0 0 1 -37.7,-66.6M-76.4,-3.7L-75.4,-3.6M-4.7,-142.9L-2.5,-75.5M-75.4,-3.6A75.5,75.5 0 0 1 -2.5,-75.5M69.3,-10.7L22.7,-3.5M-53.0,-53.8L-16.1,-16.4M22.7,-3.5A23.0,23.0 0 1 1 -16.1,-16.4" fill="none" stroke="#111" stroke-width="1.7"/>
</g>
<text x="216.5" y="1122.5" font-size="20" text-anchor="middle" font-weight="bold">Control</text>
<text x="673.0" y="1111.8" font-size="20" text-anchor="middle" font-weight="bold">41BB</text>
<text x="882.0" y="626.0" font-size="34" font-weight="bold">d</text>
<rect x="1022.40" y="629.80" width="3.70" height="399.00" fill="#000"/>
<line x1="1016.40" y1="1011.20" x2="1024.00" y2="1011.20" stroke="#000" stroke-width="1.2"/>
<text x="1013.3" y="1018.4" font-size="20" text-anchor="end">0.0</text>
<line x1="1016.40" y1="938.50" x2="1024.00" y2="938.50" stroke="#000" stroke-width="1.2"/>
<text x="1013.3" y="945.7" font-size="20" text-anchor="end">0.1</text>
<line x1="1016.40" y1="865.80" x2="1024.00" y2="865.80" stroke="#000" stroke-width="1.2"/>
<text x="1013.3" y="873.0" font-size="20" text-anchor="end">0.2</text>
<line x1="1016.40" y1="793.10" x2="1024.00" y2="793.10" stroke="#000" stroke-width="1.2"/>
<text x="1013.3" y="800.3" font-size="20" text-anchor="end">0.3</text>
<line x1="1016.40" y1="720.40" x2="1024.00" y2="720.40" stroke="#000" stroke-width="1.2"/>
<text x="1013.3" y="727.6" font-size="20" text-anchor="end">0.4</text>
<line x1="1016.40" y1="647.70" x2="1024.00" y2="647.70" stroke="#000" stroke-width="1.2"/>
<text x="1013.3" y="654.9" font-size="20" text-anchor="end">0.5</text>
<text transform="translate(965,825.9) rotate(-90)" font-size="20.7" text-anchor="middle">Probability of Sharing</text>
<rect x="1064.70" y="785.40" width="4.00" height="64.60" fill="#000"/>
<ellipse cx="1066.7" cy="819.2" rx="10.7" ry="4" fill="#000"/>
<rect x="1135.00" y="790.00" width="4.00" height="64.00" fill="#000"/>
<ellipse cx="1137" cy="823.6" rx="10.7" ry="4" fill="#000"/>
<rect x="1205.70" y="725.30" width="4.00" height="65.70" fill="#000"/>
<ellipse cx="1207.7" cy="758.8" rx="10.7" ry="4" fill="#000"/>
<ellipse cx="1277.5" cy="1009" rx="11.2" ry="3.8" fill="#000"/>
<ellipse cx="1348.2" cy="1008.4" rx="11.2" ry="3.8" fill="#000"/>
<rect x="1346.20" y="993.50" width="4.00" height="14.00" fill="#000"/>
<text x="1278.5" y="993.9" font-size="28" text-anchor="middle" font-weight="bold">*</text>
<text x="1349.7" y="992.4" font-size="28" text-anchor="middle" font-weight="bold">*</text>
<text x="1064.6" y="1051.5" font-size="20" text-anchor="middle">Control</text>
<text x="1138.0" y="1051.5" font-size="20" text-anchor="middle">PD1</text>
<text x="1211.0" y="1051.5" font-size="20" text-anchor="middle">CTLA4</text>
<text x="1279.0" y="1051.5" font-size="20" text-anchor="middle">41BB</text>
<text x="1352.6" y="1051.5" font-size="20" text-anchor="middle">LAG3</text>
<text x="1388.5" y="610.5" font-size="34" font-weight="bold">e</text>
<text x="1768.0" y="588.5" font-size="20" text-anchor="middle">CCR7</text>
<text x="1770.2" y="617.7" font-size="28" text-anchor="middle" font-weight="bold">*</text>
<rect x="1581.3" y="621.5" width="380.1" height="13" fill="url(#shd)"/>
<line x1="1581.30" y1="620.80" x2="1961.40" y2="620.80" stroke="#111" stroke-width="1.8"/>
<text x="1673.8" y="644.4" font-size="28" text-anchor="middle" font-weight="bold">*</text>
<rect x="1581.3" y="643.0" width="190.7" height="13" fill="url(#shd)"/>
<line x1="1581.30" y1="641.50" x2="1772.00" y2="641.50" stroke="#000" stroke-width="3"/>
<rect x="1469.60" y="619.80" width="3.60" height="431.20" fill="#000"/>
<rect x="1469.60" y="1047.40" width="588.40" height="3.60" fill="#000"/>
<line x1="1458.80" y1="1029.80" x2="1471.40" y2="1029.80" stroke="#000" stroke-width="3"/>
<text x="1448.7" y="1036.8" font-size="20" text-anchor="end">0</text>
<line x1="1458.80" y1="932.30" x2="1471.40" y2="932.30" stroke="#000" stroke-width="3"/>
<text x="1448.7" y="939.3" font-size="20" text-anchor="end">1</text>
<line x1="1458.80" y1="834.80" x2="1471.40" y2="834.80" stroke="#000" stroke-width="3"/>
<text x="1448.7" y="841.8" font-size="20" text-anchor="end">2</text>
<line x1="1458.80" y1="737.30" x2="1471.40" y2="737.30" stroke="#000" stroke-width="3"/>
<text x="1448.7" y="744.3" font-size="20" text-anchor="end">3</text>
<line x1="1458.80" y1="639.80" x2="1471.40" y2="639.80" stroke="#000" stroke-width="3"/>
<text x="1448.7" y="646.8" font-size="20" text-anchor="end">4</text>
<text transform="translate(1415.5,825.8) rotate(-90)" font-size="21.4" text-anchor="middle">Expression level</text>
<line x1="1584.20" y1="1049.00" x2="1584.20" y2="1059.00" stroke="#000" stroke-width="3.5"/>
<line x1="1771.30" y1="1049.00" x2="1771.30" y2="1059.00" stroke="#000" stroke-width="3.5"/>
<line x1="1959.70" y1="1049.00" x2="1959.70" y2="1059.00" stroke="#000" stroke-width="3.5"/>
<text x="1576" y="1082" font-size="20" text-anchor="middle">CD8<tspan dy="-8" font-size="14">-</tspan><tspan dy="8">CD4</tspan><tspan dy="-8" font-size="14">-</tspan></text>
<text x="1771" y="1082" font-size="20" text-anchor="middle">CD8<tspan dy="-8" font-size="14">-</tspan><tspan dy="8">CD4</tspan><tspan dy="-8" font-size="14">+</tspan></text>
<text x="1955" y="1082" font-size="20" text-anchor="middle">CD8<tspan dy="-8" font-size="14">+</tspan><tspan dy="8">CD4</tspan><tspan dy="-8" font-size="14">-</tspan></text>
<path d="M1584.8,672.0 1584.8,673.0 1584.8,674.0 1584.8,675.0 1584.8,676.0 1584.8,677.0 1584.8,678.0 1584.9,679.0 1584.9,680.0 1584.9,681.0 1584.9,682.0 1584.9,683.0 1584.9,684.0 1584.9,685.0 1584.9,686.0 1584.9,687.0 1584.9,688.0 1584.9,689.0 1584.9,690.0 1585.0,691.0 1585.0,692.0 1585.0,693.0 1585.0,694.0 1585.0,695.0 1585.0,696.0 1585.0,697.0 1585.0,698.0 1585.0,699.0 1585.0,700.0 1585.0,701.0 1585.0,702.0 1585.1,703.0 1585.1,704.0 1585.1,705.0 1585.1,706.0 1585.1,707.0 1585.1,708.0 1585.1,709.0 1585.1,710.0 1585.1,711.0 1585.1,712.0 1585.1,713.0 1585.1,714.0 1585.2,715.0 1585.2,716.0 1585.2,717.0 1585.2,718.0 1585.2,719.0 1585.2,720.0 1585.2,721.0 1585.2,722.0 1585.2,723.0 1585.2,724.0 1585.2,725.0 1585.3,726.0 1585.3,727.0 1585.3,728.0 1585.3,729.0 1585.3,730.0 1585.3,731.0 1585.3,732.0 1585.3,733.0 1585.3,734.0 1585.3,735.0 1585.3,736.0 1585.3,737.0 1585.3,738.0 1585.4,739.0 1585.4,740.0 1585.4,741.0 1585.4,742.0 1585.4,743.0 1585.4,744.0 1585.4,745.0 1585.4,746.0 1585.4,747.0 1585.4,748.0 1585.4,749.0 1585.5,750.0 1585.5,751.0 1585.5,752.0 1585.5,753.0 1585.5,754.0 1585.5,755.0 1585.5,756.0 1585.5,757.0 1585.5,758.0 1585.6,759.0 1585.6,760.0 1585.6,761.0 1585.6,762.0 1585.6,763.0 1585.6,764.0 1585.6,765.0 1585.6,766.0 1585.7,767.0 1585.7,768.0 1585.7,769.0 1585.7,770.0 1585.7,771.0 1585.7,772.0 1585.8,773.0 1585.8,774.0 1585.8,775.0 1585.8,776.0 1585.8,777.0 1585.9,778.0 1585.9,779.0 1585.9,780.0 1585.9,781.0 1585.9,782.0 1586.0,783.0 1586.0,784.0 1586.0,785.0 1586.0,786.0 1586.1,787.0 1586.1,788.0 1586.1,789.0 1586.2,790.0 1586.2,791.0 1586.2,792.0 1586.3,793.0 1586.3,794.0 1586.3,795.0 1586.4,796.0 1586.4,797.0 1586.5,798.0 1586.5,799.0 1586.5,800.0 1586.6,801.0 1586.7,802.0 1586.7,803.0 1586.8,804.0 1586.9,805.0 1586.9,806.0 1587.0,807.0 1587.1,808.0 1587.2,809.0 1587.3,810.0 1587.3,811.0 1587.4,812.0 1587.5,813.0 1587.6,814.0 1587.6,815.0 1587.7,816.0 1587.8,817.0 1587.8,818.0 1587.9,819.0 1588.0,820.0 1588.0,821.0 1588.1,822.0 1588.1,823.0 1588.2,824.0 1588.3,825.0 1588.3,826.0 1588.4,827.0 1588.4,828.0 1588.5,829.0 1588.5,830.0 1588.6,831.0 1588.6,832.0 1588.6,833.0 1588.7,834.0 1588.7,835.0 1588.7,836.0 1588.8,837.0 1588.8,838.0 1588.8,839.0 1588.8,840.0 1588.9,841.0 1588.9,842.0 1588.9,843.0 1588.9,844.0 1589.0,845.0 1589.0,846.0 1589.0,847.0 1589.0,848.0 1589.1,849.0 1589.1,850.0 1589.1,851.0 1589.2,852.0 1589.2,853.0 1589.2,854.0 1589.3,855.0 1589.3,856.0 1589.4,857.0 1589.4,858.0 1589.5,859.0 1589.5,860.0 1589.6,861.0 1589.6,862.0 1589.7,863.0 1589.7,864.0 1589.8,865.0 1589.8,866.0 1589.9,867.0 1589.9,868.0 1590.0,869.0 1590.0,870.0 1590.1,871.0 1590.1,872.0 1590.2,873.0 1590.2,874.0 1590.3,875.0 1590.4,876.0 1590.4,877.0 1590.5,878.0 1590.5,879.0 1590.6,880.0 1590.7,881.0 1590.7,882.0 1590.8,883.0 1590.9,884.0 1591.0,885.0 1591.1,886.0 1591.2,887.0 1591.2,888.0 1591.3,889.0 1591.4,890.0 1591.4,891.0 1591.4,892.0 1591.4,893.0 1591.4,894.0 1591.3,895.0 1591.3,896.0 1591.2,897.0 1591.2,898.0 1591.1,899.0 1591.1,900.0 1591.0,901.0 1591.0,902.0 1591.0,903.0 1590.9,904.0 1590.9,905.0 1590.9,906.0 1590.8,907.0 1590.8,908.0 1590.8,909.0 1590.8,910.0 1590.8,911.0 1590.9,912.0 1591.1,913.0 1591.3,914.0 1591.5,915.0 1591.8,916.0 1592.0,917.0 1592.3,918.0 1592.7,919.0 1593.1,920.0 1593.5,921.0 1593.7,922.0 1593.8,923.0 1593.8,924.0 1593.8,925.0 1593.8,926.0 1593.8,927.0 1593.7,928.0 1593.5,929.0 1593.1,930.0 1592.7,931.0 1592.3,932.0 1591.8,933.0 1591.2,934.0 1590.5,935.0 1589.8,936.0 1589.2,937.0 1588.8,938.0 1588.5,939.0 1588.3,940.0 1588.1,941.0 1587.9,942.0 1587.8,943.0 1587.8,944.0 1587.9,945.0 1588.0,946.0 1588.3,947.0 1588.6,948.0 1589.0,949.0 1589.3,950.0 1589.7,951.0 1590.2,952.0 1590.8,953.0 1591.4,954.0 1591.9,955.0 1592.3,956.0 1592.6,957.0 1593.0,958.0 1593.3,959.0 1593.5,960.0 1593.7,961.0 1593.8,962.0 1593.8,963.0 1593.7,964.0 1593.5,965.0 1593.3,966.0 1593.1,967.0 1592.8,968.0 1592.4,969.0 1591.9,970.0 1591.3,971.0 1590.6,972.0 1589.9,973.0 1589.3,974.0 1588.7,975.0 1588.1,976.0 1587.4,977.0 1586.8,978.0 1586.3,979.0 1586.0,980.0 1585.7,981.0 1585.5,982.0 1585.3,983.0 1585.1,984.0 1585.0,985.0 1585.0,986.0 1585.0,987.0 1585.0,988.0 1585.0,989.0 1585.0,990.0 1585.0,991.0 1585.0,992.0 1585.0,993.0 1585.0,994.0 1585.0,995.0 1585.0,996.0 1585.0,997.0 1585.0,998.0 1585.0,999.0 1585.0,1000.0 1585.1,1001.0 1585.4,1002.0 1585.8,1003.0 1586.9,1004.0 1588.8,1005.0 1591.1,1006.0 1593.9,1007.0 1596.8,1008.0 1599.7,1009.0 1602.8,1010.0 1605.8,1011.0 1608.8,1012.0 1611.6,1013.0 1614.3,1014.0 1617.0,1015.0 1619.8,1016.0 1622.6,1017.0 1625.3,1018.0 1628.1,1019.0 1631.2,1020.0 1634.5,1021.0 1638.4,1022.0 1642.6,1023.0 1646.8,1024.0 1650.8,1025.0 1654.7,1026.0 1658.5,1027.0 1662.4,1028.0 1666.2,1029.0 1668.5,1030.0 1668.8,1030.2 1498.8,1030.2 1499.1,1030.0 1501.4,1029.0 1505.2,1028.0 1509.1,1027.0 1512.9,1026.0 1516.8,1025.0 1520.8,1024.0 1525.0,1023.0 1529.2,1022.0 1533.1,1021.0 1536.4,1020.0 1539.5,1019.0 1542.3,1018.0 1545.0,1017.0 1547.8,1016.0 1550.6,1015.0 1553.3,1014.0 1556.0,1013.0 1558.8,1012.0 1561.8,1011.0 1564.8,1010.0 1567.9,1009.0 1570.8,1008.0 1573.7,1007.0 1576.5,1006.0 1578.8,1005.0 1580.7,1004.0 1581.8,1003.0 1582.2,1002.0 1582.5,1001.0 1582.6,1000.0 1582.6,999.0 1582.6,998.0 1582.6,997.0 1582.6,996.0 1582.6,995.0 1582.6,994.0 1582.6,993.0 1582.6,992.0 1582.6,991.0 1582.6,990.0 1582.6,989.0 1582.6,988.0 1582.6,987.0 1582.6,986.0 1582.6,985.0 1582.5,984.0 1582.3,983.0 1582.1,982.0 1581.9,981.0 1581.6,980.0 1581.3,979.0 1580.8,978.0 1580.2,977.0 1579.5,976.0 1578.9,975.0 1578.3,974.0 1577.7,973.0 1577.0,972.0 1576.3,971.0 1575.7,970.0 1575.2,969.0 1574.8,968.0 1574.5,967.0 1574.3,966.0 1574.1,965.0 1573.9,964.0 1573.8,963.0 1573.8,962.0 1573.9,961.0 1574.1,960.0 1574.3,959.0 1574.6,958.0 1575.0,957.0 1575.3,956.0 1575.7,955.0 1576.2,954.0 1576.8,953.0 1577.4,952.0 1577.9,951.0 1578.3,950.0 1578.6,949.0 1579.0,948.0 1579.3,947.0 1579.6,946.0 1579.7,945.0 1579.8,944.0 1579.8,943.0 1579.7,942.0 1579.5,941.0 1579.3,940.0 1579.1,939.0 1578.8,938.0 1578.4,937.0 1577.8,936.0 1577.1,935.0 1576.4,934.0 1575.8,933.0 1575.3,932.0 1574.9,931.0 1574.5,930.0 1574.1,929.0 1573.9,928.0 1573.8,927.0 1573.8,926.0 1573.8,925.0 1573.8,924.0 1573.8,923.0 1573.9,922.0 1574.1,921.0 1574.5,920.0 1574.9,919.0 1575.3,918.0 1575.6,917.0 1575.8,916.0 1576.1,915.0 1576.3,914.0 1576.5,913.0 1576.7,912.0 1576.8,911.0 1576.8,910.0 1576.8,909.0 1576.8,908.0 1576.8,907.0 1576.7,906.0 1576.7,905.0 1576.7,904.0 1576.6,903.0 1576.6,902.0 1576.6,901.0 1576.5,900.0 1576.5,899.0 1576.4,898.0 1576.4,897.0 1576.3,896.0 1576.3,895.0 1576.2,894.0 1576.2,893.0 1576.2,892.0 1576.2,891.0 1576.2,890.0 1576.3,889.0 1576.4,888.0 1576.4,887.0 1576.5,886.0 1576.6,885.0 1576.7,884.0 1576.8,883.0 1576.9,882.0 1576.9,881.0 1577.0,880.0 1577.1,879.0 1577.1,878.0 1577.2,877.0 1577.2,876.0 1577.3,875.0 1577.4,874.0 1577.4,873.0 1577.5,872.0 1577.5,871.0 1577.6,870.0 1577.6,869.0 1577.7,868.0 1577.7,867.0 1577.8,866.0 1577.8,865.0 1577.9,864.0 1577.9,863.0 1578.0,862.0 1578.0,861.0 1578.1,860.0 1578.1,859.0 1578.2,858.0 1578.2,857.0 1578.3,856.0 1578.3,855.0 1578.4,854.0 1578.4,853.0 1578.4,852.0 1578.5,851.0 1578.5,850.0 1578.5,849.0 1578.6,848.0 1578.6,847.0 1578.6,846.0 1578.6,845.0 1578.7,844.0 1578.7,843.0 1578.7,842.0 1578.7,841.0 1578.8,840.0 1578.8,839.0 1578.8,838.0 1578.8,837.0 1578.9,836.0 1578.9,835.0 1578.9,834.0 1579.0,833.0 1579.0,832.0 1579.0,831.0 1579.1,830.0 1579.1,829.0 1579.2,828.0 1579.2,827.0 1579.3,826.0 1579.3,825.0 1579.4,824.0 1579.5,823.0 1579.5,822.0 1579.6,821.0 1579.6,820.0 1579.7,819.0 1579.8,818.0 1579.8,817.0 1579.9,816.0 1580.0,815.0 1580.0,814.0 1580.1,813.0 1580.2,812.0 1580.3,811.0 1580.3,810.0 1580.4,809.0 1580.5,808.0 1580.6,807.0 1580.7,806.0 1580.7,805.0 1580.8,804.0 1580.9,803.0 1580.9,802.0 1581.0,801.0 1581.1,800.0 1581.1,799.0 1581.1,798.0 1581.2,797.0 1581.2,796.0 1581.3,795.0 1581.3,794.0 1581.3,793.0 1581.4,792.0 1581.4,791.0 1581.4,790.0 1581.5,789.0 1581.5,788.0 1581.5,787.0 1581.6,786.0 1581.6,785.0 1581.6,784.0 1581.6,783.0 1581.7,782.0 1581.7,781.0 1581.7,780.0 1581.7,779.0 1581.7,778.0 1581.8,777.0 1581.8,776.0 1581.8,775.0 1581.8,774.0 1581.8,773.0 1581.9,772.0 1581.9,771.0 1581.9,770.0 1581.9,769.0 1581.9,768.0 1581.9,767.0 1582.0,766.0 1582.0,765.0 1582.0,764.0 1582.0,763.0 1582.0,762.0 1582.0,761.0 1582.0,760.0 1582.0,759.0 1582.1,758.0 1582.1,757.0 1582.1,756.0 1582.1,755.0 1582.1,754.0 1582.1,753.0 1582.1,752.0 1582.1,751.0 1582.1,750.0 1582.2,749.0 1582.2,748.0 1582.2,747.0 1582.2,746.0 1582.2,745.0 1582.2,744.0 1582.2,743.0 1582.2,742.0 1582.2,741.0 1582.2,740.0 1582.2,739.0 1582.3,738.0 1582.3,737.0 1582.3,736.0 1582.3,735.0 1582.3,734.0 1582.3,733.0 1582.3,732.0 1582.3,731.0 1582.3,730.0 1582.3,729.0 1582.3,728.0 1582.3,727.0 1582.3,726.0 1582.4,725.0 1582.4,724.0 1582.4,723.0 1582.4,722.0 1582.4,721.0 1582.4,720.0 1582.4,719.0 1582.4,718.0 1582.4,717.0 1582.4,716.0 1582.4,715.0 1582.5,714.0 1582.5,713.0 1582.5,712.0 1582.5,711.0 1582.5,710.0 1582.5,709.0 1582.5,708.0 1582.5,707.0 1582.5,706.0 1582.5,705.0 1582.5,704.0 1582.5,703.0 1582.6,702.0 1582.6,701.0 1582.6,700.0 1582.6,699.0 1582.6,698.0 1582.6,697.0 1582.6,696.0 1582.6,695.0 1582.6,694.0 1582.6,693.0 1582.6,692.0 1582.6,691.0 1582.7,690.0 1582.7,689.0 1582.7,688.0 1582.7,687.0 1582.7,686.0 1582.7,685.0 1582.7,684.0 1582.7,683.0 1582.7,682.0 1582.7,681.0 1582.7,680.0 1582.7,679.0 1582.8,678.0 1582.8,677.0 1582.8,676.0 1582.8,675.0 1582.8,674.0 1582.8,673.0 1582.8,672.0Z" fill="#E8380D" stroke="#383838" stroke-width="1.9" stroke-linejoin="round"/>
<line x1="1771.30" y1="661.00" x2="1771.30" y2="1029.60" stroke="#4a4a4a" stroke-width="2.6"/>
<line x1="1687.00" y1="1029.60" x2="1857.00" y2="1029.60" stroke="#3c3c3c" stroke-width="3"/>
<ellipse cx="1771.3" cy="962" rx="5" ry="1.8" fill="#3a3a3a"/>
<ellipse cx="1771.3" cy="922.6" rx="5" ry="1.8" fill="#3a3a3a"/>
<ellipse cx="1771.3" cy="894.6" rx="5" ry="1.8" fill="#3a3a3a"/>
<ellipse cx="1771.3" cy="872.5" rx="5" ry="1.8" fill="#3a3a3a"/>
<ellipse cx="1771.3" cy="855" rx="5" ry="1.8" fill="#3a3a3a"/>
<line x1="1959.70" y1="677.00" x2="1959.70" y2="1029.60" stroke="#4a4a4a" stroke-width="2.6"/>
<line x1="1874.00" y1="1029.60" x2="2045.00" y2="1029.60" stroke="#3c3c3c" stroke-width="3"/>
<ellipse cx="1959.7" cy="962" rx="5" ry="1.8" fill="#3a3a3a"/>
<ellipse cx="1959.7" cy="922.6" rx="5" ry="1.8" fill="#3a3a3a"/>
<ellipse cx="1959.7" cy="894.6" rx="5" ry="1.8" fill="#3a3a3a"/>
<ellipse cx="1959.7" cy="872.5" rx="5" ry="1.8" fill="#3a3a3a"/>
<ellipse cx="1959.7" cy="855" rx="5" ry="1.8" fill="#3a3a3a"/>
<text x="16.5" y="1279.0" font-size="32" font-weight="bold">f</text>
<text x="256.0" y="1310.0" font-size="20" text-anchor="middle">CCR7</text>
<text x="655.7" y="1312.0" font-size="20" text-anchor="middle">IL2RB</text>
<rect x="110.20" y="1343.80" width="91.40" height="323.00" fill="#FCECD4"/>
<rect x="110.20" y="1666.80" width="91.40" height="145.20" fill="#898385"/>
<rect x="207.90" y="1343.80" width="91.60" height="355.00" fill="#FCECD4"/>
<rect x="207.90" y="1698.80" width="91.60" height="113.20" fill="#898385"/>
<rect x="306.00" y="1343.80" width="94.70" height="346.50" fill="#FCECD4"/>
<rect x="306.00" y="1690.30" width="94.70" height="121.70" fill="#898385"/>
<rect x="511.00" y="1343.80" width="90.60" height="240.30" fill="#FCECD4"/>
<rect x="511.00" y="1584.10" width="90.60" height="227.90" fill="#898385"/>
<rect x="608.60" y="1343.80" width="91.20" height="162.70" fill="#FCECD4"/>
<rect x="608.60" y="1506.50" width="91.20" height="305.50" fill="#898385"/>
<rect x="709.30" y="1343.80" width="91.20" height="106.60" fill="#FCECD4"/>
<rect x="709.30" y="1450.40" width="91.20" height="361.60" fill="#898385"/>
<rect x="78.00" y="1340.00" width="20.30" height="8.80" fill="#333"/>
<text x="70.8" y="1350.4" font-size="19.8" text-anchor="end">1.00</text>
<rect x="477.40" y="1340.00" width="21.00" height="8.80" fill="#333"/>
<text x="472.0" y="1350.4" font-size="19.8" text-anchor="end">1.00</text>
<rect x="78.00" y="1456.55" width="20.30" height="10.50" fill="#333"/>
<text x="70.8" y="1467.8" font-size="19.8" text-anchor="end">0.75</text>
<rect x="477.40" y="1456.55" width="21.00" height="10.50" fill="#333"/>
<text x="472.0" y="1467.8" font-size="19.8" text-anchor="end">0.75</text>
<rect x="78.00" y="1572.15" width="20.30" height="10.50" fill="#333"/>
<text x="70.8" y="1583.4" font-size="19.8" text-anchor="end">0.50</text>
<rect x="477.40" y="1572.15" width="21.00" height="10.50" fill="#333"/>
<text x="472.0" y="1583.4" font-size="19.8" text-anchor="end">0.50</text>
<rect x="78.00" y="1691.20" width="20.30" height="7.60" fill="#333"/>
<text x="70.8" y="1701.0" font-size="19.8" text-anchor="end">0.25</text>
<rect x="477.40" y="1691.20" width="21.00" height="7.60" fill="#333"/>
<text x="472.0" y="1701.0" font-size="19.8" text-anchor="end">0.25</text>
<rect x="78.00" y="1806.50" width="20.30" height="8.20" fill="#333"/>
<text x="70.8" y="1816.6" font-size="19.8" text-anchor="end">0.00</text>
<rect x="477.40" y="1806.50" width="21.00" height="8.20" fill="#333"/>
<text x="472.0" y="1816.6" font-size="19.8" text-anchor="end">0.00</text>
<text transform="translate(87.0,1877.3) rotate(-30)" font-size="20.5">CD8-CD4-</text>
<text transform="translate(185.3,1884.1) rotate(-32.7)" font-size="20.5">CD8-CD4+</text>
<text transform="translate(282.3,1880.9) rotate(-32.5)" font-size="20.5">CD8+CD4-</text>
<text transform="translate(494.8,1884.5) rotate(-35)" font-size="20.5">CD8-CD4-</text>
<text transform="translate(596.1,1892.9) rotate(-38)" font-size="20.5">CD8-CD4+</text>
<text transform="translate(691.8,1889.1) rotate(-35.5)" font-size="20.5">CD8+CD4-</text>
<text x="870.5" y="1327.0" font-size="34" font-weight="bold">g</text>
<rect x="908.40" y="1368.00" width="2.00" height="205.00" fill="#000"/>
<rect x="908.40" y="1571.50" width="893.00" height="2.00" fill="#000"/>
<line x1="901.70" y1="1443.30" x2="909.40" y2="1443.30" stroke="#000" stroke-width="2"/>
<text transform="translate(880,1470.6) rotate(-90)" font-size="20.9" text-anchor="middle">CD8-CD4-</text>
<line x1="949.50" y1="1573.00" x2="949.50" y2="1585.70" stroke="#000" stroke-width="2"/>
<text x="947.8" y="1610.0" font-size="19.5" text-anchor="middle">Ccl5</text>
<ellipse cx="949.5" cy="1443.6" rx="13.5" ry="26.2" fill="#CCCCCC"/>
<line x1="1017.40" y1="1573.00" x2="1017.40" y2="1585.70" stroke="#000" stroke-width="2"/>
<text x="1013.1" y="1610.5" font-size="19.5" text-anchor="middle">Tgfb1</text>
<ellipse cx="1017.4" cy="1443.6" rx="11" ry="20.5" fill="#EEEEEE"/>
<line x1="1085.30" y1="1573.00" x2="1085.30" y2="1585.70" stroke="#000" stroke-width="2"/>
<text x="1082.9" y="1609.5" font-size="19.5" text-anchor="middle">Stat1</text>
<ellipse cx="1085.3" cy="1443.6" rx="9" ry="18.2" fill="#666666"/>
<line x1="1153.20" y1="1573.00" x2="1153.20" y2="1585.70" stroke="#000" stroke-width="2"/>
<text x="1153.0" y="1609.5" font-size="19.5" text-anchor="middle">Lamp1</text>
<ellipse cx="1153.2" cy="1443.6" rx="6" ry="11.7" fill="#888888"/>
<line x1="1221.10" y1="1573.00" x2="1221.10" y2="1585.70" stroke="#000" stroke-width="2"/>
<text x="1219.9" y="1609.0" font-size="19.5" text-anchor="middle">Ccr2</text>
<ellipse cx="1221.1" cy="1443.6" rx="3.3" ry="7.2" fill="#666666"/>
<line x1="1289.00" y1="1573.00" x2="1289.00" y2="1585.70" stroke="#000" stroke-width="2"/>
<text x="1287.0" y="1609.3" font-size="19.5" text-anchor="middle">Ccr5</text>
<ellipse cx="1289.0" cy="1443.6" rx="3" ry="6" fill="#DDDDDD"/>
<line x1="1356.90" y1="1573.00" x2="1356.90" y2="1585.70" stroke="#000" stroke-width="2"/>
<text x="1355.4" y="1608.3" font-size="19.5" text-anchor="middle">Ccr6</text>
<ellipse cx="1356.9" cy="1443.6" rx="1.5" ry="3" fill="#999999"/>
<line x1="1424.80" y1="1573.00" x2="1424.80" y2="1585.70" stroke="#000" stroke-width="2"/>
<text x="1423.5" y="1607.3" font-size="19.5" text-anchor="middle">Amica1</text>
<ellipse cx="1424.8" cy="1443.6" rx="2.5" ry="5" fill="#999999"/>
<line x1="1492.70" y1="1573.00" x2="1492.70" y2="1585.70" stroke="#000" stroke-width="2"/>
<text x="1490.2" y="1608.3" font-size="19.5" text-anchor="middle">Tnf</text>
<ellipse cx="1492.7" cy="1443.6" rx="2.5" ry="4.5" fill="#999999"/>
<line x1="1560.60" y1="1573.00" x2="1560.60" y2="1585.70" stroke="#000" stroke-width="2"/>
<text x="1560.1" y="1608.3" font-size="19.5" text-anchor="middle">Il10</text>
<ellipse cx="1560.6" cy="1443.6" rx="1.5" ry="3" fill="#BBBBBB"/>
<line x1="1628.50" y1="1573.00" x2="1628.50" y2="1585.70" stroke="#000" stroke-width="2"/>
<text x="1629.2" y="1608.3" font-size="19.5" text-anchor="middle">Ccl3</text>
<ellipse cx="1628.5" cy="1443.6" rx="2.5" ry="4" fill="#F4F4F4"/>
<line x1="1696.40" y1="1573.00" x2="1696.40" y2="1585.70" stroke="#000" stroke-width="2"/>
<text x="1694.4" y="1607.3" font-size="19.5" text-anchor="middle">Ccl4</text>
<ellipse cx="1696.4" cy="1443.6" rx="3" ry="6" fill="#E6E6E6"/>
<line x1="1764.30" y1="1573.00" x2="1764.30" y2="1585.70" stroke="#000" stroke-width="2"/>
<text x="1761.8" y="1606.0" font-size="19.5" text-anchor="middle">Ifng</text>
<defs><linearGradient id="gg" x1="0" y1="0" x2="0" y2="1"><stop offset="0" stop-color="#0d0d0d"/><stop offset="0.5" stop-color="#666"/><stop offset="1" stop-color="#fff"/></linearGradient></defs>
<rect x="1821.10" y="1344.60" width="50.60" height="233.70" fill="url(#gg)"/>
<rect x="1821.10" y="1385.30" width="12.00" height="2.40" fill="#fff"/>
<rect x="1859.60" y="1385.30" width="12.10" height="2.40" fill="#fff"/>
<text transform="translate(1889.0,1398.5) scale(1.12,1)" font-size="17.5">1.0</text>
<rect x="1821.10" y="1423.80" width="12.00" height="2.40" fill="#fff"/>
<rect x="1859.60" y="1423.80" width="12.10" height="2.40" fill="#fff"/>
<text transform="translate(1889.0,1437.0) scale(1.12,1)" font-size="17.5">0.5</text>
<rect x="1821.10" y="1462.40" width="12.00" height="2.40" fill="#fff"/>
<rect x="1859.60" y="1462.40" width="12.10" height="2.40" fill="#fff"/>
<text transform="translate(1889.0,1475.6) scale(1.12,1)" font-size="17.5">0.0</text>
<rect x="1821.10" y="1503.80" width="12.00" height="2.40" fill="#fff"/>
<rect x="1859.60" y="1503.80" width="12.10" height="2.40" fill="#fff"/>
<text transform="translate(1889.0,1517.0) scale(1.12,1)" font-size="17.5">-0.5</text>
<rect x="1821.10" y="1542.30" width="12.00" height="2.40" fill="#fff"/>
<rect x="1859.60" y="1542.30" width="12.10" height="2.40" fill="#fff"/>
<text transform="translate(1889.0,1555.5) scale(1.12,1)" font-size="17.5">-1.0</text>
<text transform="translate(1846.0,1305.6) scale(1.16,1)" font-size="17.5" text-anchor="middle">Average</text>
<path d="M1892.5,1416 q3,-1 3.5,4 l0,5 q-2,0 -3.5,-3z" fill="#f0b36a" opacity="0.8"/>
<path d="M1893,1457 q3,0 3.3,6 l0,13 q-2,0 -3.3,-5z" fill="#f2c48a" opacity="0.75"/>
<text transform="translate(1846.0,1329.3) scale(1.16,1)" font-size="17.5" text-anchor="middle">Expression</text>
<text transform="translate(1989.0,1307.8) scale(1.16,1)" font-size="17.5" text-anchor="middle">Percent</text>
<text transform="translate(1989.0,1331.3) scale(1.16,1)" font-size="17.5" text-anchor="middle">Expression</text>
<circle cx="1976.4" cy="1379.4" r="7.5" fill="#000"/>
<text transform="translate(2017.0,1391.9) scale(1.12,1)" font-size="17.5">20</text>
<circle cx="1976.4" cy="1428.3" r="12.5" fill="#000"/>
<text transform="translate(2017.0,1440.0) scale(1.12,1)" font-size="17.5">40</text>
<circle cx="1976.4" cy="1478.9" r="17.7" fill="#000"/>
<text transform="translate(2017.0,1488.8) scale(1.12,1)" font-size="17.5">60</text>
<circle cx="1976.4" cy="1530" r="23" fill="#000"/>
<text transform="translate(2017.0,1541.9) scale(1.12,1)" font-size="17.5">80</text>
<text x="29.5" y="2026.5" font-size="25.5" font-weight="bold">h</text>
<text transform="translate(29,2170) rotate(-90)" font-size="20.8" text-anchor="middle">Expression level</text>
<text x="334.9" y="1997.2" font-size="20.5" text-anchor="middle">Stat6</text>
<text x="340.2" y="2035.9" font-size="28" text-anchor="middle" font-weight="bold">*</text>
<rect x="241.2" y="2034.9" width="196.0" height="13" fill="url(#shd)"/>
<line x1="241.20" y1="2033.80" x2="437.20" y2="2033.80" stroke="#000" stroke-width="2.2"/>
<rect x="99.80" y="2097.60" width="14.30" height="6.80" fill="#333"/>
<text x="94.8" y="2107.7" font-size="20" text-anchor="end">1.5</text>
<rect x="99.80" y="2159.10" width="14.30" height="6.80" fill="#333"/>
<text x="94.8" y="2169.2" font-size="20" text-anchor="end">1.0</text>
<rect x="99.80" y="2221.60" width="14.30" height="6.80" fill="#333"/>
<text x="94.8" y="2231.7" font-size="20" text-anchor="end">0.5</text>
<rect x="99.80" y="2282.80" width="14.30" height="6.80" fill="#333"/>
<text x="94.8" y="2292.9" font-size="20" text-anchor="end">0.0</text>
<path d="M237.2,2044.3 237.8,2045.3 238.0,2046.3 238.0,2047.3 238.1,2048.3 238.1,2049.3 238.1,2050.3 238.1,2051.3 238.1,2052.3 238.1,2053.3 238.1,2054.3 238.1,2055.3 238.1,2056.3 238.1,2057.3 238.1,2058.3 238.2,2059.3 238.2,2060.3 238.2,2061.3 238.2,2062.3 238.2,2063.3 238.2,2064.3 238.2,2065.3 238.2,2066.3 238.2,2067.3 238.2,2068.3 238.2,2069.3 238.2,2070.3 238.2,2071.3 238.2,2072.3 238.2,2073.3 238.2,2074.3 238.2,2075.3 238.2,2076.3 238.2,2077.3 238.2,2078.3 238.2,2079.3 238.2,2080.3 238.2,2081.3 238.2,2082.3 238.2,2083.3 238.2,2084.3 238.2,2085.3 238.2,2086.3 238.2,2087.3 238.2,2088.3 238.3,2089.3 238.3,2090.3 238.3,2091.3 238.3,2092.3 238.3,2093.3 238.3,2094.3 238.3,2095.3 238.3,2096.3 238.3,2097.3 238.4,2098.3 238.4,2099.3 238.4,2100.3 238.4,2101.3 238.4,2102.3 238.4,2103.3 238.4,2104.3 238.4,2105.3 238.5,2106.3 238.5,2107.3 238.5,2108.3 238.5,2109.3 238.5,2110.3 238.5,2111.3 238.6,2112.3 238.6,2113.3 238.6,2114.3 238.7,2115.3 238.8,2116.3 238.9,2117.3 239.0,2118.3 239.1,2119.3 239.2,2120.3 239.2,2121.3 239.3,2122.3 239.3,2123.3 239.3,2124.3 239.3,2125.3 239.3,2126.3 239.4,2127.3 239.4,2128.3 239.4,2129.3 239.5,2130.3 239.5,2131.3 239.6,2132.3 239.7,2133.3 239.7,2134.3 239.8,2135.3 240.0,2136.3 240.3,2137.3 240.6,2138.3 241.0,2139.3 241.3,2140.3 241.7,2141.3 242.2,2142.3 242.6,2143.3 243.0,2144.3 243.3,2145.3 243.5,2146.3 243.8,2147.3 243.9,2148.3 244.0,2149.3 244.0,2150.3 244.0,2151.3 244.0,2152.3 244.0,2153.3 243.9,2154.3 243.7,2155.3 243.5,2156.3 243.2,2157.3 242.9,2158.3 242.5,2159.3 242.0,2160.3 241.4,2161.3 240.8,2162.3 240.2,2163.3 239.6,2164.3 239.0,2165.3 238.6,2166.3 238.3,2167.3 238.0,2168.3 237.8,2169.3 237.7,2170.3 237.7,2171.3 237.8,2172.3 237.9,2173.3 238.1,2174.3 238.2,2175.3 238.4,2176.3 238.7,2177.3 238.9,2178.3 239.3,2179.3 239.8,2180.3 240.4,2181.3 241.4,2182.3 242.7,2183.3 244.2,2184.3 245.6,2185.3 247.3,2186.3 249.0,2187.3 250.7,2188.3 252.5,2189.3 254.4,2190.3 256.1,2191.3 257.6,2192.3 259.2,2193.3 260.7,2194.3 262.0,2195.3 262.9,2196.3 263.3,2197.3 263.4,2198.3 263.5,2199.3 263.6,2200.3 263.4,2201.3 262.6,2202.3 261.3,2203.3 259.8,2204.3 258.3,2205.3 256.7,2206.3 255.0,2207.3 253.0,2208.3 251.0,2209.3 249.0,2210.3 247.2,2211.3 245.6,2212.3 244.1,2213.3 242.9,2214.3 241.8,2215.3 240.9,2216.3 240.1,2217.3 239.5,2218.3 239.2,2219.3 238.9,2220.3 238.7,2221.3 238.5,2222.3 238.3,2223.3 238.2,2224.3 238.1,2225.3 238.1,2226.3 238.1,2227.3 238.1,2228.3 238.1,2229.3 238.1,2230.3 238.1,2231.3 238.1,2232.3 238.1,2233.3 238.1,2234.3 238.1,2235.3 238.1,2236.3 238.1,2237.3 238.1,2238.3 238.1,2239.3 238.1,2240.3 238.1,2241.3 238.1,2242.3 238.1,2243.3 238.1,2244.3 238.1,2245.3 238.1,2246.3 238.1,2247.3 238.1,2248.3 238.1,2249.3 238.1,2250.3 238.1,2251.3 238.1,2252.3 238.1,2253.3 238.1,2254.3 238.1,2255.3 238.1,2256.3 238.1,2257.3 238.1,2258.3 238.1,2259.3 238.2,2260.3 238.5,2261.3 238.8,2262.3 239.4,2263.3 240.2,2264.3 241.2,2265.3 242.5,2266.3 244.2,2267.3 246.6,2268.3 250.5,2269.3 255.9,2270.3 261.2,2271.3 266.4,2272.3 271.6,2273.3 276.7,2274.3 281.9,2275.3 287.0,2276.3 291.9,2277.3 296.6,2278.3 301.0,2279.3 305.2,2280.3 309.3,2281.3 313.2,2282.3 317.2,2283.3 321.1,2284.3 324.6,2285.3 327.3,2286.3 329.1,2287.1 141.3,2287.1 143.1,2286.3 145.8,2285.3 149.3,2284.3 153.2,2283.3 157.2,2282.3 161.1,2281.3 165.2,2280.3 169.4,2279.3 173.8,2278.3 178.5,2277.3 183.4,2276.3 188.5,2275.3 193.7,2274.3 198.8,2273.3 204.0,2272.3 209.2,2271.3 214.5,2270.3 219.9,2269.3 223.8,2268.3 226.2,2267.3 227.9,2266.3 229.2,2265.3 230.2,2264.3 231.0,2263.3 231.6,2262.3 231.9,2261.3 232.2,2260.3 232.3,2259.3 232.3,2258.3 232.3,2257.3 232.3,2256.3 232.3,2255.3 232.3,2254.3 232.3,2253.3 232.3,2252.3 232.3,2251.3 232.3,2250.3 232.3,2249.3 232.3,2248.3 232.3,2247.3 232.3,2246.3 232.3,2245.3 232.3,2244.3 232.3,2243.3 232.3,2242.3 232.3,2241.3 232.3,2240.3 232.3,2239.3 232.3,2238.3 232.3,2237.3 232.3,2236.3 232.3,2235.3 232.3,2234.3 232.3,2233.3 232.3,2232.3 232.3,2231.3 232.3,2230.3 232.3,2229.3 232.3,2228.3 232.3,2227.3 232.3,2226.3 232.3,2225.3 232.2,2224.3 232.1,2223.3 231.9,2222.3 231.7,2221.3 231.5,2220.3 231.2,2219.3 230.9,2218.3 230.3,2217.3 229.5,2216.3 228.6,2215.3 227.5,2214.3 226.3,2213.3 224.8,2212.3 223.2,2211.3 221.4,2210.3 219.4,2209.3 217.4,2208.3 215.4,2207.3 213.7,2206.3 212.1,2205.3 210.6,2204.3 209.1,2203.3 207.8,2202.3 207.0,2201.3 206.8,2200.3 206.9,2199.3 207.0,2198.3 207.1,2197.3 207.5,2196.3 208.4,2195.3 209.7,2194.3 211.2,2193.3 212.8,2192.3 214.3,2191.3 216.0,2190.3 217.9,2189.3 219.7,2188.3 221.4,2187.3 223.1,2186.3 224.8,2185.3 226.2,2184.3 227.7,2183.3 229.0,2182.3 230.0,2181.3 230.6,2180.3 231.1,2179.3 231.5,2178.3 231.7,2177.3 232.0,2176.3 232.2,2175.3 232.3,2174.3 232.5,2173.3 232.6,2172.3 232.7,2171.3 232.7,2170.3 232.6,2169.3 232.4,2168.3 232.1,2167.3 231.8,2166.3 231.4,2165.3 230.8,2164.3 230.2,2163.3 229.6,2162.3 229.0,2161.3 228.4,2160.3 227.9,2159.3 227.5,2158.3 227.2,2157.3 226.9,2156.3 226.7,2155.3 226.5,2154.3 226.4,2153.3 226.4,2152.3 226.4,2151.3 226.4,2150.3 226.4,2149.3 226.5,2148.3 226.6,2147.3 226.9,2146.3 227.1,2145.3 227.4,2144.3 227.8,2143.3 228.2,2142.3 228.7,2141.3 229.1,2140.3 229.4,2139.3 229.8,2138.3 230.1,2137.3 230.4,2136.3 230.6,2135.3 230.7,2134.3 230.7,2133.3 230.8,2132.3 230.9,2131.3 230.9,2130.3 231.0,2129.3 231.0,2128.3 231.0,2127.3 231.1,2126.3 231.1,2125.3 231.1,2124.3 231.1,2123.3 231.1,2122.3 231.2,2121.3 231.2,2120.3 231.3,2119.3 231.4,2118.3 231.5,2117.3 231.6,2116.3 231.7,2115.3 231.8,2114.3 231.8,2113.3 231.8,2112.3 231.9,2111.3 231.9,2110.3 231.9,2109.3 231.9,2108.3 231.9,2107.3 231.9,2106.3 232.0,2105.3 232.0,2104.3 232.0,2103.3 232.0,2102.3 232.0,2101.3 232.0,2100.3 232.0,2099.3 232.0,2098.3 232.1,2097.3 232.1,2096.3 232.1,2095.3 232.1,2094.3 232.1,2093.3 232.1,2092.3 232.1,2091.3 232.1,2090.3 232.1,2089.3 232.2,2088.3 232.2,2087.3 232.2,2086.3 232.2,2085.3 232.2,2084.3 232.2,2083.3 232.2,2082.3 232.2,2081.3 232.2,2080.3 232.2,2079.3 232.2,2078.3 232.2,2077.3 232.2,2076.3 232.2,2075.3 232.2,2074.3 232.2,2073.3 232.2,2072.3 232.2,2071.3 232.2,2070.3 232.2,2069.3 232.2,2068.3 232.2,2067.3 232.2,2066.3 232.2,2065.3 232.2,2064.3 232.2,2063.3 232.2,2062.3 232.2,2061.3 232.2,2060.3 232.2,2059.3 232.3,2058.3 232.3,2057.3 232.3,2056.3 232.3,2055.3 232.3,2054.3 232.3,2053.3 232.3,2052.3 232.3,2051.3 232.3,2050.3 232.3,2049.3 232.3,2048.3 232.4,2047.3 232.4,2046.3 232.6,2045.3 233.2,2044.3Z" fill="#5A0333" stroke="#5A0333" stroke-width="0.9" stroke-linejoin="round"/>
<path d="M440.9,2061.0 441.4,2062.0 441.7,2063.0 441.7,2064.0 441.7,2065.0 441.7,2066.0 441.8,2067.0 441.8,2068.0 441.8,2069.0 441.8,2070.0 441.8,2071.0 441.8,2072.0 441.8,2073.0 441.8,2074.0 441.8,2075.0 441.8,2076.0 441.8,2077.0 441.8,2078.0 441.8,2079.0 441.8,2080.0 441.8,2081.0 441.8,2082.0 441.8,2083.0 441.8,2084.0 441.8,2085.0 441.8,2086.0 441.8,2087.0 441.8,2088.0 441.8,2089.0 441.8,2090.0 441.8,2091.0 441.8,2092.0 441.8,2093.0 441.8,2094.0 441.8,2095.0 441.8,2096.0 441.8,2097.0 441.8,2098.0 441.8,2099.0 441.8,2100.0 441.8,2101.0 441.8,2102.0 441.9,2103.0 442.0,2104.0 442.1,2105.0 442.3,2106.0 442.4,2107.0 442.5,2108.0 442.7,2109.0 442.9,2110.0 443.0,2111.0 443.1,2112.0 443.2,2113.0 443.2,2114.0 443.2,2115.0 443.1,2116.0 443.0,2117.0 443.0,2118.0 442.9,2119.0 442.8,2120.0 442.8,2121.0 442.7,2122.0 442.6,2123.0 442.5,2124.0 442.5,2125.0 442.5,2126.0 442.6,2127.0 442.8,2128.0 443.0,2129.0 443.2,2130.0 443.4,2131.0 443.6,2132.0 443.8,2133.0 444.0,2134.0 444.3,2135.0 444.5,2136.0 444.8,2137.0 445.1,2138.0 445.5,2139.0 445.9,2140.0 446.3,2141.0 446.7,2142.0 446.9,2143.0 447.0,2144.0 447.2,2145.0 447.3,2146.0 447.4,2147.0 447.5,2148.0 447.5,2149.0 447.5,2150.0 447.4,2151.0 447.3,2152.0 447.2,2153.0 447.1,2154.0 446.9,2155.0 446.7,2156.0 446.4,2157.0 446.0,2158.0 445.7,2159.0 445.3,2160.0 445.0,2161.0 444.7,2162.0 444.4,2163.0 444.1,2164.0 443.8,2165.0 443.6,2166.0 443.4,2167.0 443.2,2168.0 443.0,2169.0 442.8,2170.0 442.7,2171.0 442.5,2172.0 442.5,2173.0 442.5,2174.0 442.6,2175.0 442.7,2176.0 442.9,2177.0 443.0,2178.0 443.2,2179.0 443.4,2180.0 443.6,2181.0 444.0,2182.0 444.3,2183.0 444.7,2184.0 444.9,2185.0 445.0,2186.0 445.1,2187.0 445.2,2188.0 445.4,2189.0 445.7,2190.0 446.3,2191.0 446.9,2192.0 447.5,2193.0 447.9,2194.0 448.2,2195.0 448.4,2196.0 448.6,2197.0 448.8,2198.0 448.9,2199.0 448.9,2200.0 448.8,2201.0 448.6,2202.0 448.4,2203.0 448.2,2204.0 447.9,2205.0 447.6,2206.0 447.1,2207.0 446.5,2208.0 446.0,2209.0 445.4,2210.0 445.0,2211.0 444.7,2212.0 444.4,2213.0 444.2,2214.0 443.9,2215.0 443.7,2216.0 443.4,2217.0 443.1,2218.0 442.9,2219.0 442.6,2220.0 442.5,2221.0 442.4,2222.0 442.2,2223.0 442.2,2224.0 442.1,2225.0 442.0,2226.0 442.0,2227.0 441.9,2228.0 441.9,2229.0 441.8,2230.0 441.8,2231.0 441.8,2232.0 441.8,2233.0 441.8,2234.0 441.8,2235.0 441.8,2236.0 441.8,2237.0 441.8,2238.0 441.8,2239.0 441.8,2240.0 441.8,2241.0 441.8,2242.0 441.8,2243.0 441.8,2244.0 441.8,2245.0 441.8,2246.0 441.8,2247.0 441.8,2248.0 441.8,2249.0 441.8,2250.0 441.8,2251.0 441.8,2252.0 441.9,2253.0 442.0,2254.0 442.1,2255.0 442.3,2256.0 442.7,2257.0 443.2,2258.0 443.7,2259.0 444.3,2260.0 445.0,2261.0 445.9,2262.0 447.1,2263.0 448.7,2264.0 450.7,2265.0 453.0,2266.0 455.9,2267.0 459.8,2268.0 463.9,2269.0 467.9,2270.0 472.0,2271.0 476.3,2272.0 480.6,2273.0 485.0,2274.0 489.6,2275.0 493.9,2276.0 497.9,2277.0 501.7,2278.0 505.4,2279.0 509.0,2280.0 512.7,2281.0 516.4,2282.0 520.1,2283.0 523.6,2284.0 526.9,2285.0 529.9,2286.0 532.6,2287.0 532.9,2287.1 344.9,2287.1 345.2,2287.0 347.9,2286.0 350.9,2285.0 354.2,2284.0 357.7,2283.0 361.4,2282.0 365.1,2281.0 368.8,2280.0 372.4,2279.0 376.1,2278.0 379.9,2277.0 383.9,2276.0 388.2,2275.0 392.8,2274.0 397.2,2273.0 401.5,2272.0 405.8,2271.0 409.9,2270.0 413.9,2269.0 418.0,2268.0 421.9,2267.0 424.8,2266.0 427.1,2265.0 429.1,2264.0 430.7,2263.0 431.9,2262.0 432.8,2261.0 433.5,2260.0 434.1,2259.0 434.6,2258.0 435.1,2257.0 435.5,2256.0 435.7,2255.0 435.8,2254.0 435.9,2253.0 436.0,2252.0 436.0,2251.0 436.0,2250.0 436.0,2249.0 436.0,2248.0 436.0,2247.0 436.0,2246.0 436.0,2245.0 436.0,2244.0 436.0,2243.0 436.0,2242.0 436.0,2241.0 436.0,2240.0 436.0,2239.0 436.0,2238.0 436.0,2237.0 436.0,2236.0 436.0,2235.0 436.0,2234.0 436.0,2233.0 436.0,2232.0 436.0,2231.0 436.0,2230.0 435.9,2229.0 435.9,2228.0 435.8,2227.0 435.8,2226.0 435.7,2225.0 435.6,2224.0 435.6,2223.0 435.4,2222.0 435.3,2221.0 435.2,2220.0 434.9,2219.0 434.7,2218.0 434.4,2217.0 434.1,2216.0 433.9,2215.0 433.6,2214.0 433.4,2213.0 433.1,2212.0 432.8,2211.0 432.4,2210.0 431.8,2209.0 431.3,2208.0 430.7,2207.0 430.2,2206.0 429.9,2205.0 429.6,2204.0 429.4,2203.0 429.2,2202.0 429.0,2201.0 428.9,2200.0 428.9,2199.0 429.0,2198.0 429.2,2197.0 429.4,2196.0 429.6,2195.0 429.9,2194.0 430.3,2193.0 430.9,2192.0 431.5,2191.0 432.1,2190.0 432.4,2189.0 432.6,2188.0 432.7,2187.0 432.8,2186.0 432.9,2185.0 433.1,2184.0 433.5,2183.0 433.8,2182.0 434.2,2181.0 434.4,2180.0 434.6,2179.0 434.8,2178.0 434.9,2177.0 435.1,2176.0 435.2,2175.0 435.3,2174.0 435.3,2173.0 435.3,2172.0 435.1,2171.0 435.0,2170.0 434.8,2169.0 434.6,2168.0 434.4,2167.0 434.2,2166.0 434.0,2165.0 433.7,2164.0 433.4,2163.0 433.1,2162.0 432.8,2161.0 432.5,2160.0 432.1,2159.0 431.8,2158.0 431.4,2157.0 431.1,2156.0 430.9,2155.0 430.7,2154.0 430.6,2153.0 430.5,2152.0 430.4,2151.0 430.3,2150.0 430.3,2149.0 430.3,2148.0 430.4,2147.0 430.5,2146.0 430.6,2145.0 430.8,2144.0 430.9,2143.0 431.1,2142.0 431.5,2141.0 431.9,2140.0 432.3,2139.0 432.7,2138.0 433.0,2137.0 433.3,2136.0 433.5,2135.0 433.8,2134.0 434.0,2133.0 434.2,2132.0 434.4,2131.0 434.6,2130.0 434.8,2129.0 435.0,2128.0 435.2,2127.0 435.3,2126.0 435.3,2125.0 435.3,2124.0 435.2,2123.0 435.1,2122.0 435.0,2121.0 435.0,2120.0 434.9,2119.0 434.8,2118.0 434.8,2117.0 434.7,2116.0 434.6,2115.0 434.6,2114.0 434.6,2113.0 434.7,2112.0 434.8,2111.0 434.9,2110.0 435.1,2109.0 435.3,2108.0 435.4,2107.0 435.5,2106.0 435.7,2105.0 435.8,2104.0 435.9,2103.0 436.0,2102.0 436.0,2101.0 436.0,2100.0 436.0,2099.0 436.0,2098.0 436.0,2097.0 436.0,2096.0 436.0,2095.0 436.0,2094.0 436.0,2093.0 436.0,2092.0 436.0,2091.0 436.0,2090.0 436.0,2089.0 436.0,2088.0 436.0,2087.0 436.0,2086.0 436.0,2085.0 436.0,2084.0 436.0,2083.0 436.0,2082.0 436.0,2081.0 436.0,2080.0 436.0,2079.0 436.0,2078.0 436.0,2077.0 436.0,2076.0 436.0,2075.0 436.0,2074.0 436.0,2073.0 436.0,2072.0 436.0,2071.0 436.0,2070.0 436.0,2069.0 436.0,2068.0 436.0,2067.0 436.1,2066.0 436.1,2065.0 436.1,2064.0 436.1,2063.0 436.4,2062.0 436.9,2061.0Z" fill="#41AED8" stroke="#41AED8" stroke-width="0.9" stroke-linejoin="round"/>
<text x="231.0" y="2322.8" font-size="20" text-anchor="middle">Control</text>
<text x="438.8" y="2322.8" font-size="20" text-anchor="middle">LAG3</text>
<text x="809.2" y="1995.2" font-size="20.5" text-anchor="middle">Socs3</text>
<text x="812.2" y="2031.1" font-size="28" text-anchor="middle" font-weight="bold">*</text>
<rect x="712.3" y="2035.1" width="196.2" height="13" fill="url(#shd)"/>
<line x1="712.30" y1="2034.00" x2="908.50" y2="2034.00" stroke="#000" stroke-width="2.2"/>
<rect x="576.60" y="2096.10" width="12.90" height="5.00" fill="#333"/>
<text x="567.7" y="2105.1" font-size="19.5" text-anchor="end">4</text>
<rect x="576.60" y="2143.20" width="12.90" height="5.00" fill="#333"/>
<text x="567.7" y="2152.2" font-size="19.5" text-anchor="end">3</text>
<rect x="576.60" y="2187.40" width="12.90" height="5.00" fill="#333"/>
<text x="567.7" y="2196.4" font-size="19.5" text-anchor="end">2</text>
<rect x="576.60" y="2234.80" width="12.90" height="5.00" fill="#333"/>
<text x="567.7" y="2243.8" font-size="19.5" text-anchor="end">1</text>
<rect x="576.60" y="2281.00" width="12.90" height="5.00" fill="#333"/>
<text x="567.7" y="2290.0" font-size="19.5" text-anchor="end">0</text>
<path d="M711.8,2089.1 711.8,2090.1 711.8,2091.1 711.8,2092.1 711.8,2093.1 711.8,2094.1 711.8,2095.1 711.9,2096.1 711.9,2097.1 711.9,2098.1 711.9,2099.1 711.9,2100.1 712.0,2101.1 712.0,2102.1 712.0,2103.1 712.1,2104.1 712.1,2105.1 712.3,2106.1 712.4,2107.1 712.5,2108.1 712.7,2109.1 712.8,2110.1 713.0,2111.1 713.1,2112.1 713.3,2113.1 713.4,2114.1 713.5,2115.1 713.7,2116.1 713.8,2117.1 713.9,2118.1 714.0,2119.1 714.2,2120.1 714.3,2121.1 714.5,2122.1 714.6,2123.1 714.8,2124.1 715.0,2125.1 715.2,2126.1 715.4,2127.1 715.6,2128.1 715.9,2129.1 716.2,2130.1 716.5,2131.1 716.8,2132.1 717.1,2133.1 717.4,2134.1 717.8,2135.1 718.1,2136.1 718.4,2137.1 718.8,2138.1 719.1,2139.1 719.5,2140.1 719.9,2141.1 720.3,2142.1 720.7,2143.1 721.1,2144.1 721.6,2145.1 722.0,2146.1 722.5,2147.1 722.9,2148.1 723.5,2149.1 724.0,2150.1 724.6,2151.1 725.2,2152.1 725.9,2153.1 726.5,2154.1 727.2,2155.1 727.8,2156.1 728.4,2157.1 729.0,2158.1 729.6,2159.1 730.1,2160.1 730.7,2161.1 731.2,2162.1 731.7,2163.1 732.2,2164.1 732.7,2165.1 733.1,2166.1 733.6,2167.1 734.1,2168.1 734.6,2169.1 735.1,2170.1 735.5,2171.1 736.1,2172.1 736.6,2173.1 737.1,2174.1 737.7,2175.1 738.2,2176.1 738.7,2177.1 739.2,2178.1 739.7,2179.1 740.0,2180.1 740.4,2181.1 740.6,2182.1 740.8,2183.1 741.0,2184.1 741.2,2185.1 741.4,2186.1 741.6,2187.1 741.8,2188.1 741.9,2189.1 742.0,2190.1 742.1,2191.1 742.2,2192.1 742.2,2193.1 742.2,2194.1 742.2,2195.1 742.2,2196.1 742.2,2197.1 742.2,2198.1 742.2,2199.1 742.2,2200.1 742.2,2201.1 742.2,2202.1 742.2,2203.1 742.2,2204.1 742.2,2205.1 742.2,2206.1 742.1,2207.1 742.0,2208.1 742.0,2209.1 741.9,2210.1 741.8,2211.1 741.7,2212.1 741.6,2213.1 741.6,2214.1 741.5,2215.1 741.5,2216.1 741.5,2217.1 741.6,2218.1 741.6,2219.1 741.7,2220.1 741.8,2221.1 741.9,2222.1 742.0,2223.1 742.1,2224.1 742.1,2225.1 742.2,2226.1 742.2,2227.1 742.2,2228.1 742.1,2229.1 741.9,2230.1 741.7,2231.1 741.5,2232.1 741.2,2233.1 741.0,2234.1 740.5,2235.1 739.9,2236.1 739.3,2237.1 738.9,2238.1 738.9,2239.1 739.6,2240.1 740.7,2241.1 742.0,2242.1 743.2,2243.1 744.3,2244.1 745.5,2245.1 746.4,2246.1 747.0,2247.1 747.6,2248.1 748.1,2249.1 748.3,2250.1 748.5,2251.1 748.6,2252.1 748.6,2253.1 748.4,2254.1 747.9,2255.1 747.2,2256.1 746.4,2257.1 744.7,2258.1 742.4,2259.1 739.6,2260.1 737.0,2261.1 734.6,2262.1 732.1,2263.1 729.5,2264.1 727.0,2265.1 724.3,2266.1 721.0,2267.1 719.5,2268.1 722.1,2269.1 726.5,2270.1 730.6,2271.1 735.1,2272.1 739.8,2273.1 744.4,2274.1 748.6,2275.1 752.4,2276.1 756.0,2277.1 759.5,2278.1 762.7,2279.1 766.0,2280.1 769.2,2281.1 771.5,2282.1 772.7,2283.1 772.8,2283.2 645.8,2283.2 645.9,2283.1 647.1,2282.1 649.4,2281.1 652.6,2280.1 655.9,2279.1 659.1,2278.1 662.6,2277.1 666.2,2276.1 670.0,2275.1 674.2,2274.1 678.8,2273.1 683.5,2272.1 688.0,2271.1 692.1,2270.1 696.5,2269.1 699.1,2268.1 697.6,2267.1 694.3,2266.1 691.6,2265.1 689.1,2264.1 686.5,2263.1 684.0,2262.1 681.6,2261.1 679.0,2260.1 676.2,2259.1 673.9,2258.1 672.2,2257.1 671.4,2256.1 670.7,2255.1 670.2,2254.1 670.0,2253.1 670.0,2252.1 670.1,2251.1 670.3,2250.1 670.5,2249.1 671.0,2248.1 671.6,2247.1 672.2,2246.1 673.1,2245.1 674.3,2244.1 675.4,2243.1 676.6,2242.1 677.9,2241.1 679.0,2240.1 679.7,2239.1 679.7,2238.1 679.3,2237.1 678.7,2236.1 678.1,2235.1 677.6,2234.1 677.4,2233.1 677.1,2232.1 676.9,2231.1 676.7,2230.1 676.5,2229.1 676.4,2228.1 676.4,2227.1 676.4,2226.1 676.5,2225.1 676.5,2224.1 676.6,2223.1 676.7,2222.1 676.8,2221.1 676.9,2220.1 677.0,2219.1 677.0,2218.1 677.1,2217.1 677.1,2216.1 677.1,2215.1 677.0,2214.1 677.0,2213.1 676.9,2212.1 676.8,2211.1 676.7,2210.1 676.6,2209.1 676.6,2208.1 676.5,2207.1 676.4,2206.1 676.4,2205.1 676.4,2204.1 676.4,2203.1 676.4,2202.1 676.4,2201.1 676.4,2200.1 676.4,2199.1 676.4,2198.1 676.4,2197.1 676.4,2196.1 676.4,2195.1 676.4,2194.1 676.4,2193.1 676.4,2192.1 676.5,2191.1 676.6,2190.1 676.7,2189.1 676.8,2188.1 677.0,2187.1 677.2,2186.1 677.4,2185.1 677.6,2184.1 677.8,2183.1 678.0,2182.1 678.2,2181.1 678.6,2180.1 678.9,2179.1 679.4,2178.1 679.9,2177.1 680.4,2176.1 680.9,2175.1 681.5,2174.1 682.0,2173.1 682.5,2172.1 683.1,2171.1 683.5,2170.1 684.0,2169.1 684.5,2168.1 685.0,2167.1 685.5,2166.1 685.9,2165.1 686.4,2164.1 686.9,2163.1 687.4,2162.1 687.9,2161.1 688.5,2160.1 689.0,2159.1 689.6,2158.1 690.2,2157.1 690.8,2156.1 691.4,2155.1 692.1,2154.1 692.7,2153.1 693.4,2152.1 694.0,2151.1 694.6,2150.1 695.1,2149.1 695.7,2148.1 696.1,2147.1 696.6,2146.1 697.0,2145.1 697.5,2144.1 697.9,2143.1 698.3,2142.1 698.7,2141.1 699.1,2140.1 699.5,2139.1 699.8,2138.1 700.2,2137.1 700.5,2136.1 700.8,2135.1 701.2,2134.1 701.5,2133.1 701.8,2132.1 702.1,2131.1 702.4,2130.1 702.7,2129.1 703.0,2128.1 703.2,2127.1 703.4,2126.1 703.6,2125.1 703.8,2124.1 704.0,2123.1 704.1,2122.1 704.3,2121.1 704.4,2120.1 704.6,2119.1 704.7,2118.1 704.8,2117.1 704.9,2116.1 705.1,2115.1 705.2,2114.1 705.3,2113.1 705.5,2112.1 705.6,2111.1 705.8,2110.1 705.9,2109.1 706.1,2108.1 706.2,2107.1 706.3,2106.1 706.5,2105.1 706.5,2104.1 706.6,2103.1 706.6,2102.1 706.6,2101.1 706.7,2100.1 706.7,2099.1 706.7,2098.1 706.7,2097.1 706.7,2096.1 706.8,2095.1 706.8,2094.1 706.8,2093.1 706.8,2092.1 706.8,2091.1 706.8,2090.1 706.8,2089.1Z" fill="#5A0333" stroke="#5A0333" stroke-width="0.9" stroke-linejoin="round"/>
<path d="M914.6,2125.3 914.8,2126.3 915.0,2127.3 915.1,2128.3 915.3,2129.3 915.4,2130.3 915.6,2131.3 915.8,2132.3 915.9,2133.3 916.1,2134.3 916.3,2135.3 916.5,2136.3 916.7,2137.3 917.0,2138.3 917.2,2139.3 917.5,2140.3 917.7,2141.3 918.0,2142.3 918.3,2143.3 918.7,2144.3 919.0,2145.3 919.3,2146.3 919.7,2147.3 920.1,2148.3 920.6,2149.3 921.1,2150.3 921.7,2151.3 922.3,2152.3 922.9,2153.3 923.5,2154.3 924.2,2155.3 924.9,2156.3 925.5,2157.3 926.2,2158.3 926.8,2159.3 927.4,2160.3 928.0,2161.3 928.6,2162.3 929.3,2163.3 929.9,2164.3 930.5,2165.3 931.1,2166.3 931.7,2167.3 932.3,2168.3 932.9,2169.3 933.4,2170.3 934.0,2171.3 934.5,2172.3 935.0,2173.3 935.5,2174.3 936.0,2175.3 936.5,2176.3 936.9,2177.3 937.4,2178.3 937.9,2179.3 938.4,2180.3 938.9,2181.3 939.5,2182.3 940.0,2183.3 940.6,2184.3 941.3,2185.3 941.9,2186.3 942.6,2187.3 943.2,2188.3 943.8,2189.3 944.5,2190.3 945.0,2191.3 945.6,2192.3 946.1,2193.3 946.6,2194.3 947.1,2195.3 947.7,2196.3 948.2,2197.3 948.7,2198.3 949.2,2199.3 949.6,2200.3 950.0,2201.3 950.3,2202.3 950.5,2203.3 950.6,2204.3 950.6,2205.3 950.5,2206.3 950.4,2207.3 950.2,2208.3 950.0,2209.3 949.8,2210.3 949.5,2211.3 949.1,2212.3 948.5,2213.3 947.6,2214.3 946.6,2215.3 945.5,2216.3 944.4,2217.3 943.3,2218.3 942.4,2219.3 941.7,2220.3 941.2,2221.3 940.6,2222.3 940.1,2223.3 939.6,2224.3 939.1,2225.3 938.7,2226.3 938.4,2227.3 938.2,2228.3 938.1,2229.3 938.1,2230.3 938.2,2231.3 938.4,2232.3 938.8,2233.3 939.2,2234.3 939.7,2235.3 940.3,2236.3 942.5,2237.3 947.0,2238.3 951.3,2239.3 955.6,2240.3 960.1,2241.3 964.6,2242.3 969.3,2243.3 973.9,2244.3 978.7,2245.3 983.6,2246.3 989.1,2247.3 994.3,2248.3 998.1,2249.3 1001.5,2250.3 1004.1,2251.3 1005.0,2252.3 1003.3,2253.3 999.9,2254.3 995.8,2255.3 989.7,2256.3 982.0,2257.3 973.9,2258.3 966.7,2259.3 959.6,2260.3 952.5,2261.3 945.8,2262.3 940.3,2263.3 935.5,2264.3 930.7,2265.3 926.7,2266.3 924.0,2267.3 923.5,2268.3 925.0,2269.3 927.8,2270.3 931.1,2271.3 934.1,2272.3 936.4,2273.3 938.6,2274.3 940.7,2275.3 942.7,2276.3 944.6,2277.3 946.1,2278.3 947.3,2279.3 948.3,2280.3 949.5,2281.3 950.7,2282.3 951.8,2283.2 872.4,2283.2 873.5,2282.3 874.7,2281.3 875.9,2280.3 876.9,2279.3 878.1,2278.3 879.6,2277.3 881.5,2276.3 883.5,2275.3 885.6,2274.3 887.8,2273.3 890.1,2272.3 893.1,2271.3 896.4,2270.3 899.2,2269.3 900.7,2268.3 900.2,2267.3 897.5,2266.3 893.5,2265.3 888.7,2264.3 883.9,2263.3 878.4,2262.3 871.7,2261.3 864.6,2260.3 857.5,2259.3 850.3,2258.3 842.2,2257.3 834.5,2256.3 828.4,2255.3 824.3,2254.3 820.9,2253.3 819.2,2252.3 820.1,2251.3 822.7,2250.3 826.1,2249.3 829.9,2248.3 835.1,2247.3 840.6,2246.3 845.5,2245.3 850.3,2244.3 854.9,2243.3 859.6,2242.3 864.1,2241.3 868.6,2240.3 872.9,2239.3 877.2,2238.3 881.7,2237.3 883.9,2236.3 884.5,2235.3 885.0,2234.3 885.4,2233.3 885.8,2232.3 886.0,2231.3 886.1,2230.3 886.1,2229.3 886.0,2228.3 885.8,2227.3 885.5,2226.3 885.1,2225.3 884.6,2224.3 884.1,2223.3 883.6,2222.3 883.0,2221.3 882.5,2220.3 881.8,2219.3 880.9,2218.3 879.8,2217.3 878.7,2216.3 877.6,2215.3 876.6,2214.3 875.7,2213.3 875.1,2212.3 874.7,2211.3 874.4,2210.3 874.2,2209.3 874.0,2208.3 873.8,2207.3 873.7,2206.3 873.6,2205.3 873.6,2204.3 873.7,2203.3 873.9,2202.3 874.2,2201.3 874.6,2200.3 875.0,2199.3 875.5,2198.3 876.0,2197.3 876.5,2196.3 877.1,2195.3 877.6,2194.3 878.1,2193.3 878.6,2192.3 879.2,2191.3 879.7,2190.3 880.4,2189.3 881.0,2188.3 881.6,2187.3 882.3,2186.3 882.9,2185.3 883.6,2184.3 884.2,2183.3 884.7,2182.3 885.3,2181.3 885.8,2180.3 886.3,2179.3 886.8,2178.3 887.3,2177.3 887.7,2176.3 888.2,2175.3 888.7,2174.3 889.2,2173.3 889.7,2172.3 890.2,2171.3 890.8,2170.3 891.3,2169.3 891.9,2168.3 892.5,2167.3 893.1,2166.3 893.7,2165.3 894.3,2164.3 894.9,2163.3 895.6,2162.3 896.2,2161.3 896.8,2160.3 897.4,2159.3 898.0,2158.3 898.7,2157.3 899.3,2156.3 900.0,2155.3 900.7,2154.3 901.3,2153.3 901.9,2152.3 902.5,2151.3 903.1,2150.3 903.6,2149.3 904.1,2148.3 904.5,2147.3 904.9,2146.3 905.2,2145.3 905.5,2144.3 905.9,2143.3 906.2,2142.3 906.5,2141.3 906.7,2140.3 907.0,2139.3 907.2,2138.3 907.5,2137.3 907.7,2136.3 907.9,2135.3 908.1,2134.3 908.3,2133.3 908.4,2132.3 908.6,2131.3 908.8,2130.3 908.9,2129.3 909.1,2128.3 909.2,2127.3 909.4,2126.3 909.6,2125.3Z" fill="#41AED8" stroke="#41AED8" stroke-width="0.9" stroke-linejoin="round"/>
<text x="709.6" y="2320.8" font-size="20" text-anchor="middle">Control</text>
<text x="916.0" y="2320.8" font-size="20" text-anchor="middle">LAG3</text>
<text x="1261.8" y="1995.8" font-size="20.5" text-anchor="middle">IL1b</text>
<text x="1263.8" y="2038.6" font-size="28" text-anchor="middle" font-weight="bold">*</text>
<rect x="1158.9" y="2037.4" width="196.1" height="13" fill="url(#shd)"/>
<line x1="1158.90" y1="2036.30" x2="1355.00" y2="2036.30" stroke="#000" stroke-width="2.2"/>
<rect x="1030.00" y="2102.70" width="13.20" height="5.00" fill="#333"/>
<text x="1021.7" y="2111.7" font-size="19.5" text-anchor="end">5</text>
<rect x="1030.00" y="2136.40" width="13.20" height="5.00" fill="#333"/>
<text x="1021.7" y="2145.4" font-size="19.5" text-anchor="end">4</text>
<rect x="1030.00" y="2172.20" width="13.20" height="5.00" fill="#333"/>
<text x="1021.7" y="2181.2" font-size="19.5" text-anchor="end">3</text>
<rect x="1030.00" y="2207.90" width="13.20" height="5.00" fill="#333"/>
<text x="1021.7" y="2216.9" font-size="19.5" text-anchor="end">2</text>
<rect x="1030.00" y="2244.60" width="13.20" height="5.00" fill="#333"/>
<text x="1021.7" y="2253.6" font-size="19.5" text-anchor="end">1</text>
<rect x="1030.00" y="2278.60" width="13.20" height="5.00" fill="#333"/>
<text x="1021.7" y="2287.6" font-size="19.5" text-anchor="end">0</text>
<path d="M1168.2,2087.3 1169.1,2088.3 1170.0,2089.3 1171.0,2090.3 1172.0,2091.3 1173.1,2092.3 1174.3,2093.3 1175.6,2094.3 1177.2,2095.3 1178.9,2096.3 1180.8,2097.3 1182.7,2098.3 1184.6,2099.3 1186.5,2100.3 1188.5,2101.3 1190.5,2102.3 1192.6,2103.3 1194.6,2104.3 1196.7,2105.3 1198.8,2106.3 1200.8,2107.3 1202.8,2108.3 1204.8,2109.3 1206.7,2110.3 1208.7,2111.3 1210.6,2112.3 1212.5,2113.3 1214.4,2114.3 1216.3,2115.3 1218.1,2116.3 1219.9,2117.3 1221.7,2118.3 1223.4,2119.3 1225.2,2120.3 1227.0,2121.3 1228.7,2122.3 1230.5,2123.3 1232.2,2124.3 1233.8,2125.3 1235.4,2126.3 1236.8,2127.3 1238.2,2128.3 1239.5,2129.3 1240.7,2130.3 1242.0,2131.3 1243.2,2132.3 1244.4,2133.3 1245.5,2134.3 1246.6,2135.3 1247.6,2136.3 1248.6,2137.3 1249.4,2138.3 1250.2,2139.3 1250.8,2140.3 1251.3,2141.3 1251.8,2142.3 1252.2,2143.3 1252.6,2144.3 1253.1,2145.3 1253.4,2146.3 1253.8,2147.3 1254.1,2148.3 1254.4,2149.3 1254.6,2150.3 1254.8,2151.3 1254.9,2152.3 1254.9,2153.3 1254.9,2154.3 1254.8,2155.3 1254.7,2156.3 1254.5,2157.3 1254.3,2158.3 1254.1,2159.3 1253.8,2160.3 1253.5,2161.3 1252.9,2162.3 1252.2,2163.3 1251.3,2164.3 1250.2,2165.3 1249.0,2166.3 1247.8,2167.3 1246.5,2168.3 1245.3,2169.3 1244.1,2170.3 1243.0,2171.3 1241.8,2172.3 1240.5,2173.3 1239.2,2174.3 1237.8,2175.3 1236.5,2176.3 1235.1,2177.3 1233.7,2178.3 1232.3,2179.3 1231.0,2180.3 1229.7,2181.3 1228.5,2182.3 1227.3,2183.3 1226.1,2184.3 1225.0,2185.3 1223.9,2186.3 1222.8,2187.3 1221.7,2188.3 1220.6,2189.3 1219.5,2190.3 1218.5,2191.3 1217.4,2192.3 1216.4,2193.3 1215.3,2194.3 1214.3,2195.3 1213.2,2196.3 1212.2,2197.3 1211.2,2198.3 1210.1,2199.3 1209.0,2200.3 1207.9,2201.3 1206.8,2202.3 1205.7,2203.3 1204.6,2204.3 1203.6,2205.3 1202.5,2206.3 1201.5,2207.3 1200.6,2208.3 1199.6,2209.3 1198.8,2210.3 1197.9,2211.3 1197.2,2212.3 1196.4,2213.3 1195.7,2214.3 1194.9,2215.3 1194.2,2216.3 1193.4,2217.3 1192.8,2218.3 1192.1,2219.3 1191.6,2220.3 1191.1,2221.3 1190.7,2222.3 1190.3,2223.3 1190.1,2224.3 1189.9,2225.3 1189.8,2226.3 1189.6,2227.3 1189.5,2228.3 1189.4,2229.3 1189.3,2230.3 1189.2,2231.3 1189.1,2232.3 1189.0,2233.3 1188.9,2234.3 1188.9,2235.3 1188.9,2236.3 1188.9,2237.3 1189.0,2238.3 1189.2,2239.3 1189.4,2240.3 1189.6,2241.3 1189.9,2242.3 1190.1,2243.3 1190.3,2244.3 1190.4,2245.3 1190.6,2246.3 1190.8,2247.3 1191.0,2248.3 1191.2,2249.3 1191.3,2250.3 1191.3,2251.3 1190.9,2252.3 1190.2,2253.3 1189.4,2254.3 1188.6,2255.3 1188.1,2256.3 1187.6,2257.3 1187.1,2258.3 1186.7,2259.3 1186.5,2260.3 1186.4,2261.3 1186.8,2262.3 1187.5,2263.3 1188.5,2264.3 1189.6,2265.3 1190.7,2266.3 1192.1,2267.3 1193.7,2268.3 1195.4,2269.3 1197.2,2270.3 1199.1,2271.3 1200.9,2272.3 1202.4,2273.3 1203.8,2274.3 1205.0,2275.3 1206.1,2276.3 1207.3,2277.3 1208.6,2278.3 1210.0,2279.3 1211.4,2280.3 1212.1,2280.8 1114.3,2280.8 1115.0,2280.3 1116.4,2279.3 1117.8,2278.3 1119.1,2277.3 1120.3,2276.3 1121.4,2275.3 1122.6,2274.3 1124.0,2273.3 1125.5,2272.3 1127.3,2271.3 1129.2,2270.3 1131.0,2269.3 1132.7,2268.3 1134.3,2267.3 1135.7,2266.3 1136.8,2265.3 1137.9,2264.3 1138.9,2263.3 1139.6,2262.3 1140.0,2261.3 1139.9,2260.3 1139.7,2259.3 1139.3,2258.3 1138.8,2257.3 1138.3,2256.3 1137.8,2255.3 1137.0,2254.3 1136.2,2253.3 1135.5,2252.3 1135.1,2251.3 1135.1,2250.3 1135.2,2249.3 1135.4,2248.3 1135.6,2247.3 1135.8,2246.3 1136.0,2245.3 1136.1,2244.3 1136.3,2243.3 1136.5,2242.3 1136.8,2241.3 1137.0,2240.3 1137.2,2239.3 1137.4,2238.3 1137.5,2237.3 1137.5,2236.3 1137.5,2235.3 1137.5,2234.3 1137.4,2233.3 1137.3,2232.3 1137.2,2231.3 1137.1,2230.3 1137.0,2229.3 1136.9,2228.3 1136.8,2227.3 1136.6,2226.3 1136.5,2225.3 1136.3,2224.3 1136.1,2223.3 1135.7,2222.3 1135.3,2221.3 1134.8,2220.3 1134.3,2219.3 1133.6,2218.3 1133.0,2217.3 1132.2,2216.3 1131.5,2215.3 1130.7,2214.3 1130.0,2213.3 1129.2,2212.3 1128.5,2211.3 1127.6,2210.3 1126.8,2209.3 1125.8,2208.3 1124.9,2207.3 1123.9,2206.3 1122.8,2205.3 1121.8,2204.3 1120.7,2203.3 1119.6,2202.3 1118.5,2201.3 1117.4,2200.3 1116.3,2199.3 1115.2,2198.3 1114.2,2197.3 1113.2,2196.3 1112.1,2195.3 1111.1,2194.3 1110.0,2193.3 1109.0,2192.3 1107.9,2191.3 1106.9,2190.3 1105.8,2189.3 1104.7,2188.3 1103.6,2187.3 1102.5,2186.3 1101.4,2185.3 1100.3,2184.3 1099.1,2183.3 1097.9,2182.3 1096.7,2181.3 1095.4,2180.3 1094.1,2179.3 1092.7,2178.3 1091.3,2177.3 1089.9,2176.3 1088.6,2175.3 1087.2,2174.3 1085.9,2173.3 1084.6,2172.3 1083.4,2171.3 1082.3,2170.3 1081.1,2169.3 1079.9,2168.3 1078.6,2167.3 1077.4,2166.3 1076.2,2165.3 1075.1,2164.3 1074.2,2163.3 1073.5,2162.3 1072.9,2161.3 1072.6,2160.3 1072.3,2159.3 1072.1,2158.3 1071.9,2157.3 1071.7,2156.3 1071.6,2155.3 1071.5,2154.3 1071.5,2153.3 1071.5,2152.3 1071.6,2151.3 1071.8,2150.3 1072.0,2149.3 1072.3,2148.3 1072.6,2147.3 1073.0,2146.3 1073.3,2145.3 1073.8,2144.3 1074.2,2143.3 1074.6,2142.3 1075.1,2141.3 1075.6,2140.3 1076.2,2139.3 1077.0,2138.3 1077.8,2137.3 1078.8,2136.3 1079.8,2135.3 1080.9,2134.3 1082.0,2133.3 1083.2,2132.3 1084.4,2131.3 1085.7,2130.3 1086.9,2129.3 1088.2,2128.3 1089.6,2127.3 1091.0,2126.3 1092.6,2125.3 1094.2,2124.3 1095.9,2123.3 1097.7,2122.3 1099.4,2121.3 1101.2,2120.3 1103.0,2119.3 1104.7,2118.3 1106.5,2117.3 1108.3,2116.3 1110.1,2115.3 1112.0,2114.3 1113.9,2113.3 1115.8,2112.3 1117.7,2111.3 1119.7,2110.3 1121.6,2109.3 1123.6,2108.3 1125.6,2107.3 1127.6,2106.3 1129.7,2105.3 1131.8,2104.3 1133.8,2103.3 1135.9,2102.3 1137.9,2101.3 1139.9,2100.3 1141.8,2099.3 1143.7,2098.3 1145.6,2097.3 1147.5,2096.3 1149.2,2095.3 1150.8,2094.3 1152.1,2093.3 1153.3,2092.3 1154.4,2091.3 1155.4,2090.3 1156.4,2089.3 1157.3,2088.3 1158.2,2087.3Z" fill="#5A0333" stroke="#5A0333" stroke-width="0.9" stroke-linejoin="round"/>
<path d="M1374.4,2103.2 1376.5,2104.2 1378.7,2105.2 1380.8,2106.2 1383.1,2107.2 1385.4,2108.2 1387.7,2109.2 1389.9,2110.2 1392.1,2111.2 1394.1,2112.2 1396.1,2113.2 1398.0,2114.2 1399.9,2115.2 1401.7,2116.2 1403.5,2117.2 1405.3,2118.2 1407.1,2119.2 1408.8,2120.2 1410.5,2121.2 1412.2,2122.2 1413.9,2123.2 1415.6,2124.2 1417.3,2125.2 1419.0,2126.2 1420.8,2127.2 1422.4,2128.2 1424.1,2129.2 1425.8,2130.2 1427.4,2131.2 1429.0,2132.2 1430.5,2133.2 1432.0,2134.2 1433.5,2135.2 1434.9,2136.2 1436.3,2137.2 1437.6,2138.2 1438.9,2139.2 1440.2,2140.2 1441.5,2141.2 1442.8,2142.2 1444.0,2143.2 1445.1,2144.2 1446.2,2145.2 1447.3,2146.2 1448.3,2147.2 1449.2,2148.2 1450.1,2149.2 1451.0,2150.2 1451.9,2151.2 1452.8,2152.2 1453.6,2153.2 1454.4,2154.2 1455.2,2155.2 1455.9,2156.2 1456.6,2157.2 1457.1,2158.2 1457.6,2159.2 1458.0,2160.2 1458.2,2161.2 1458.5,2162.2 1458.7,2163.2 1458.9,2164.2 1459.1,2165.2 1459.2,2166.2 1459.3,2167.2 1459.3,2168.2 1459.0,2169.2 1458.2,2170.2 1457.1,2171.2 1455.8,2172.2 1454.2,2173.2 1452.6,2174.2 1450.9,2175.2 1449.3,2176.2 1447.9,2177.2 1446.6,2178.2 1445.4,2179.2 1444.2,2180.2 1442.9,2181.2 1441.7,2182.2 1440.5,2183.2 1439.3,2184.2 1438.1,2185.2 1436.9,2186.2 1435.7,2187.2 1434.5,2188.2 1433.3,2189.2 1432.2,2190.2 1431.0,2191.2 1429.9,2192.2 1428.7,2193.2 1427.6,2194.2 1426.4,2195.2 1425.3,2196.2 1424.2,2197.2 1423.1,2198.2 1422.0,2199.2 1421.0,2200.2 1420.0,2201.2 1419.0,2202.2 1418.1,2203.2 1417.1,2204.2 1416.2,2205.2 1415.3,2206.2 1414.4,2207.2 1413.5,2208.2 1412.7,2209.2 1411.9,2210.2 1411.0,2211.2 1410.2,2212.2 1409.4,2213.2 1408.7,2214.2 1407.9,2215.2 1407.2,2216.2 1406.5,2217.2 1405.7,2218.2 1404.9,2219.2 1404.1,2220.2 1403.2,2221.2 1402.5,2222.2 1401.8,2223.2 1401.3,2224.2 1400.8,2225.2 1400.6,2226.2 1400.6,2227.2 1400.8,2228.2 1401.1,2229.2 1401.5,2230.2 1402.0,2231.2 1402.6,2232.2 1403.2,2233.2 1403.9,2234.2 1404.6,2235.2 1405.3,2236.2 1406.0,2237.2 1406.9,2238.2 1407.9,2239.2 1409.0,2240.2 1410.2,2241.2 1411.3,2242.2 1412.5,2243.2 1413.5,2244.2 1414.5,2245.2 1415.2,2246.2 1415.9,2247.2 1416.6,2248.2 1417.3,2249.2 1417.9,2250.2 1418.4,2251.2 1418.8,2252.2 1419.0,2253.2 1418.9,2254.2 1418.5,2255.2 1417.9,2256.2 1417.0,2257.2 1416.0,2258.2 1414.9,2259.2 1413.7,2260.2 1412.7,2261.2 1411.5,2262.2 1410.0,2263.2 1408.4,2264.2 1406.9,2265.2 1405.4,2266.2 1404.1,2267.2 1403.2,2268.2 1402.4,2269.2 1401.7,2270.2 1401.0,2271.2 1400.4,2272.2 1399.9,2273.2 1399.6,2274.2 1399.4,2275.2 1399.4,2276.2 1399.4,2277.2 1399.4,2278.2 1399.4,2279.2 1399.4,2280.2 1399.4,2281.2 1399.4,2281.7 1333.4,2281.7 1333.4,2281.2 1333.4,2280.2 1333.4,2279.2 1333.4,2278.2 1333.4,2277.2 1333.4,2276.2 1333.4,2275.2 1333.2,2274.2 1332.9,2273.2 1332.4,2272.2 1331.8,2271.2 1331.1,2270.2 1330.4,2269.2 1329.6,2268.2 1328.7,2267.2 1327.4,2266.2 1325.9,2265.2 1324.4,2264.2 1322.8,2263.2 1321.3,2262.2 1320.1,2261.2 1319.1,2260.2 1317.9,2259.2 1316.8,2258.2 1315.8,2257.2 1314.9,2256.2 1314.3,2255.2 1313.9,2254.2 1313.8,2253.2 1314.0,2252.2 1314.4,2251.2 1314.9,2250.2 1315.5,2249.2 1316.2,2248.2 1316.9,2247.2 1317.6,2246.2 1318.3,2245.2 1319.3,2244.2 1320.3,2243.2 1321.5,2242.2 1322.6,2241.2 1323.8,2240.2 1324.9,2239.2 1325.9,2238.2 1326.8,2237.2 1327.5,2236.2 1328.2,2235.2 1328.9,2234.2 1329.6,2233.2 1330.2,2232.2 1330.8,2231.2 1331.3,2230.2 1331.7,2229.2 1332.0,2228.2 1332.2,2227.2 1332.2,2226.2 1332.0,2225.2 1331.5,2224.2 1331.0,2223.2 1330.3,2222.2 1329.6,2221.2 1328.7,2220.2 1327.9,2219.2 1327.1,2218.2 1326.3,2217.2 1325.6,2216.2 1324.9,2215.2 1324.1,2214.2 1323.4,2213.2 1322.6,2212.2 1321.8,2211.2 1320.9,2210.2 1320.1,2209.2 1319.3,2208.2 1318.4,2207.2 1317.5,2206.2 1316.6,2205.2 1315.7,2204.2 1314.7,2203.2 1313.8,2202.2 1312.8,2201.2 1311.8,2200.2 1310.8,2199.2 1309.7,2198.2 1308.6,2197.2 1307.5,2196.2 1306.4,2195.2 1305.2,2194.2 1304.1,2193.2 1302.9,2192.2 1301.8,2191.2 1300.6,2190.2 1299.5,2189.2 1298.3,2188.2 1297.1,2187.2 1295.9,2186.2 1294.7,2185.2 1293.5,2184.2 1292.3,2183.2 1291.1,2182.2 1289.9,2181.2 1288.6,2180.2 1287.4,2179.2 1286.2,2178.2 1284.9,2177.2 1283.5,2176.2 1281.9,2175.2 1280.2,2174.2 1278.6,2173.2 1277.0,2172.2 1275.7,2171.2 1274.6,2170.2 1273.8,2169.2 1273.5,2168.2 1273.5,2167.2 1273.6,2166.2 1273.7,2165.2 1273.9,2164.2 1274.1,2163.2 1274.3,2162.2 1274.6,2161.2 1274.8,2160.2 1275.2,2159.2 1275.7,2158.2 1276.2,2157.2 1276.9,2156.2 1277.6,2155.2 1278.4,2154.2 1279.2,2153.2 1280.0,2152.2 1280.9,2151.2 1281.8,2150.2 1282.7,2149.2 1283.6,2148.2 1284.5,2147.2 1285.5,2146.2 1286.6,2145.2 1287.7,2144.2 1288.8,2143.2 1290.0,2142.2 1291.3,2141.2 1292.6,2140.2 1293.9,2139.2 1295.2,2138.2 1296.5,2137.2 1297.9,2136.2 1299.3,2135.2 1300.8,2134.2 1302.3,2133.2 1303.8,2132.2 1305.4,2131.2 1307.0,2130.2 1308.7,2129.2 1310.4,2128.2 1312.0,2127.2 1313.8,2126.2 1315.5,2125.2 1317.2,2124.2 1318.9,2123.2 1320.6,2122.2 1322.3,2121.2 1324.0,2120.2 1325.7,2119.2 1327.5,2118.2 1329.3,2117.2 1331.1,2116.2 1332.9,2115.2 1334.8,2114.2 1336.7,2113.2 1338.7,2112.2 1340.7,2111.2 1342.9,2110.2 1345.1,2109.2 1347.4,2108.2 1349.7,2107.2 1352.0,2106.2 1354.1,2105.2 1356.3,2104.2 1358.4,2103.2Z" fill="#41AED8" stroke="#41AED8" stroke-width="0.9" stroke-linejoin="round"/>
<text x="1162.5" y="2316.3" font-size="20" text-anchor="middle">Control</text>
<text x="1368.2" y="2317.8" font-size="20" text-anchor="middle">LAG3</text>
<text x="26.5" y="2421.7" font-size="26" font-weight="bold">i</text>
<text transform="translate(41.5,2542.5) rotate(-90)" font-size="21" text-anchor="middle">Expression level</text>
<text transform="translate(976,2541.8) rotate(-90)" font-size="20.5" text-anchor="middle">Expression level</text>
<text x="339.9" y="2390.7" font-size="20.5" text-anchor="middle">Cxcl10</text>
<text x="342.9" y="2425.2" font-size="28" text-anchor="middle" font-weight="bold">*</text>
<rect x="240.0" y="2429.1" width="195.9" height="13" fill="url(#shd)"/>
<line x1="240.00" y1="2428.00" x2="435.90" y2="2428.00" stroke="#000" stroke-width="2.2"/>
<rect x="104.40" y="2464.80" width="14.90" height="5.00" fill="#333"/>
<text x="96.9" y="2473.8" font-size="19.5" text-anchor="end">5</text>
<rect x="104.40" y="2506.50" width="14.90" height="5.00" fill="#333"/>
<text x="96.9" y="2515.5" font-size="19.5" text-anchor="end">4</text>
<rect x="104.40" y="2545.90" width="14.90" height="5.00" fill="#333"/>
<text x="96.9" y="2554.9" font-size="19.5" text-anchor="end">3</text>
<rect x="104.40" y="2585.50" width="14.90" height="5.00" fill="#333"/>
<text x="96.9" y="2594.5" font-size="19.5" text-anchor="end">2</text>
<rect x="104.40" y="2624.60" width="14.90" height="5.00" fill="#333"/>
<text x="96.9" y="2633.6" font-size="19.5" text-anchor="end">1</text>
<rect x="104.40" y="2663.70" width="14.90" height="5.00" fill="#333"/>
<text x="96.9" y="2672.7" font-size="19.5" text-anchor="end">0</text>
<path d="M240.8,2452.4 240.8,2453.4 240.9,2454.4 240.9,2455.4 241.0,2456.4 241.0,2457.4 241.1,2458.4 241.1,2459.4 241.1,2460.4 241.1,2461.4 241.1,2462.4 241.1,2463.4 241.1,2464.4 241.2,2465.4 241.2,2466.4 241.2,2467.4 241.2,2468.4 241.2,2469.4 241.2,2470.4 241.2,2471.4 241.2,2472.4 241.2,2473.4 241.2,2474.4 241.2,2475.4 241.2,2476.4 241.2,2477.4 241.2,2478.4 241.3,2479.4 241.3,2480.4 241.3,2481.4 241.3,2482.4 241.3,2483.4 241.3,2484.4 241.3,2485.4 241.3,2486.4 241.3,2487.4 241.3,2488.4 241.3,2489.4 241.3,2490.4 241.3,2491.4 241.3,2492.4 241.3,2493.4 241.3,2494.4 241.3,2495.4 241.3,2496.4 241.3,2497.4 241.3,2498.4 241.3,2499.4 241.3,2500.4 241.3,2501.4 241.3,2502.4 241.3,2503.4 241.3,2504.4 241.3,2505.4 241.3,2506.4 241.3,2507.4 241.3,2508.4 241.3,2509.4 241.3,2510.4 241.3,2511.4 241.3,2512.4 241.3,2513.4 241.3,2514.4 241.3,2515.4 241.3,2516.4 241.3,2517.4 241.3,2518.4 241.3,2519.4 241.3,2520.4 241.3,2521.4 241.3,2522.4 241.3,2523.4 241.3,2524.4 241.3,2525.4 241.3,2526.4 241.3,2527.4 241.3,2528.4 241.3,2529.4 241.3,2530.4 241.3,2531.4 241.3,2532.4 241.3,2533.4 241.3,2534.4 241.3,2535.4 241.3,2536.4 241.3,2537.4 241.3,2538.4 241.3,2539.4 241.3,2540.4 241.3,2541.4 241.3,2542.4 241.3,2543.4 241.3,2544.4 241.3,2545.4 241.3,2546.4 241.3,2547.4 241.3,2548.4 241.3,2549.4 241.3,2550.4 241.3,2551.4 241.3,2552.4 241.3,2553.4 241.3,2554.4 241.3,2555.4 241.3,2556.4 241.3,2557.4 241.3,2558.4 241.3,2559.4 241.3,2560.4 241.3,2561.4 241.3,2562.4 241.3,2563.4 241.3,2564.4 241.3,2565.4 241.3,2566.4 241.3,2567.4 241.3,2568.4 241.3,2569.4 241.3,2570.4 241.3,2571.4 241.3,2572.4 241.3,2573.4 241.3,2574.4 241.3,2575.4 241.3,2576.4 241.3,2577.4 241.3,2578.4 241.3,2579.4 241.3,2580.4 241.3,2581.4 241.3,2582.4 241.3,2583.4 241.3,2584.4 241.3,2585.4 241.3,2586.4 241.3,2587.4 241.3,2588.4 241.3,2589.4 241.3,2590.4 241.3,2591.4 241.3,2592.4 241.3,2593.4 241.3,2594.4 241.3,2595.4 241.3,2596.4 241.3,2597.4 241.3,2598.4 241.3,2599.4 241.3,2600.4 241.3,2601.4 241.3,2602.4 241.3,2603.4 241.3,2604.4 241.3,2605.4 241.3,2606.4 241.3,2607.4 241.3,2608.4 241.3,2609.4 241.3,2610.4 241.3,2611.4 241.3,2612.4 241.3,2613.4 241.3,2614.4 241.3,2615.4 241.3,2616.4 241.3,2617.4 241.3,2618.4 241.3,2619.4 241.3,2620.4 241.3,2621.4 241.3,2622.4 241.3,2623.4 241.3,2624.4 241.3,2625.4 241.3,2626.4 241.3,2627.4 241.3,2628.4 241.3,2629.4 241.3,2630.4 241.3,2631.4 241.3,2632.4 241.3,2633.4 241.3,2634.4 241.3,2635.4 241.3,2636.4 241.3,2637.4 241.3,2638.4 241.3,2639.4 241.3,2640.4 241.3,2641.4 241.3,2642.4 241.3,2643.4 241.3,2644.4 241.3,2645.4 241.3,2646.4 241.3,2647.4 241.3,2648.4 241.3,2649.4 241.3,2650.4 241.3,2651.4 241.3,2652.4 241.3,2653.4 241.5,2654.4 242.0,2655.4 244.3,2656.4 248.5,2657.4 254.9,2658.4 262.8,2659.4 271.8,2660.4 282.2,2661.4 293.0,2662.4 304.8,2663.4 315.7,2664.4 325.0,2665.4 329.8,2666.4 331.6,2667.4 331.6,2667.5 145.6,2667.5 145.6,2667.4 147.4,2666.4 152.2,2665.4 161.5,2664.4 172.4,2663.4 184.2,2662.4 195.0,2661.4 205.4,2660.4 214.4,2659.4 222.3,2658.4 228.7,2657.4 232.9,2656.4 235.2,2655.4 235.7,2654.4 235.9,2653.4 235.9,2652.4 235.9,2651.4 235.9,2650.4 235.9,2649.4 235.9,2648.4 235.9,2647.4 235.9,2646.4 235.9,2645.4 235.9,2644.4 235.9,2643.4 235.9,2642.4 235.9,2641.4 235.9,2640.4 235.9,2639.4 235.9,2638.4 235.9,2637.4 235.9,2636.4 235.9,2635.4 235.9,2634.4 235.9,2633.4 235.9,2632.4 235.9,2631.4 235.9,2630.4 235.9,2629.4 235.9,2628.4 235.9,2627.4 235.9,2626.4 235.9,2625.4 235.9,2624.4 235.9,2623.4 235.9,2622.4 235.9,2621.4 235.9,2620.4 235.9,2619.4 235.9,2618.4 235.9,2617.4 235.9,2616.4 235.9,2615.4 235.9,2614.4 235.9,2613.4 235.9,2612.4 235.9,2611.4 235.9,2610.4 235.9,2609.4 235.9,2608.4 235.9,2607.4 235.9,2606.4 235.9,2605.4 235.9,2604.4 235.9,2603.4 235.9,2602.4 235.9,2601.4 235.9,2600.4 235.9,2599.4 235.9,2598.4 235.9,2597.4 235.9,2596.4 235.9,2595.4 235.9,2594.4 235.9,2593.4 235.9,2592.4 235.9,2591.4 235.9,2590.4 235.9,2589.4 235.9,2588.4 235.9,2587.4 235.9,2586.4 235.9,2585.4 235.9,2584.4 235.9,2583.4 235.9,2582.4 235.9,2581.4 235.9,2580.4 235.9,2579.4 235.9,2578.4 235.9,2577.4 235.9,2576.4 235.9,2575.4 235.9,2574.4 235.9,2573.4 235.9,2572.4 235.9,2571.4 235.9,2570.4 235.9,2569.4 235.9,2568.4 235.9,2567.4 235.9,2566.4 235.9,2565.4 235.9,2564.4 235.9,2563.4 235.9,2562.4 235.9,2561.4 235.9,2560.4 235.9,2559.4 235.9,2558.4 235.9,2557.4 235.9,2556.4 235.9,2555.4 235.9,2554.4 235.9,2553.4 235.9,2552.4 235.9,2551.4 235.9,2550.4 235.9,2549.4 235.9,2548.4 235.9,2547.4 235.9,2546.4 235.9,2545.4 235.9,2544.4 235.9,2543.4 235.9,2542.4 235.9,2541.4 235.9,2540.4 235.9,2539.4 235.9,2538.4 235.9,2537.4 235.9,2536.4 235.9,2535.4 235.9,2534.4 235.9,2533.4 235.9,2532.4 235.9,2531.4 235.9,2530.4 235.9,2529.4 235.9,2528.4 235.9,2527.4 235.9,2526.4 235.9,2525.4 235.9,2524.4 235.9,2523.4 235.9,2522.4 235.9,2521.4 235.9,2520.4 235.9,2519.4 235.9,2518.4 235.9,2517.4 235.9,2516.4 235.9,2515.4 235.9,2514.4 235.9,2513.4 235.9,2512.4 235.9,2511.4 235.9,2510.4 235.9,2509.4 235.9,2508.4 235.9,2507.4 235.9,2506.4 235.9,2505.4 235.9,2504.4 235.9,2503.4 235.9,2502.4 235.9,2501.4 235.9,2500.4 235.9,2499.4 235.9,2498.4 235.9,2497.4 235.9,2496.4 235.9,2495.4 235.9,2494.4 235.9,2493.4 235.9,2492.4 235.9,2491.4 235.9,2490.4 235.9,2489.4 235.9,2488.4 235.9,2487.4 235.9,2486.4 235.9,2485.4 235.9,2484.4 235.9,2483.4 235.9,2482.4 235.9,2481.4 235.9,2480.4 235.9,2479.4 236.0,2478.4 236.0,2477.4 236.0,2476.4 236.0,2475.4 236.0,2474.4 236.0,2473.4 236.0,2472.4 236.0,2471.4 236.0,2470.4 236.0,2469.4 236.0,2468.4 236.0,2467.4 236.0,2466.4 236.0,2465.4 236.1,2464.4 236.1,2463.4 236.1,2462.4 236.1,2461.4 236.1,2460.4 236.1,2459.4 236.1,2458.4 236.2,2457.4 236.2,2456.4 236.3,2455.4 236.3,2454.4 236.4,2453.4 236.4,2452.4Z" fill="#5A0333" stroke="#5A0333" stroke-width="0.9" stroke-linejoin="round"/>
<path d="M443.6,2442.3 443.6,2443.3 443.7,2444.3 443.7,2445.3 443.8,2446.3 443.8,2447.3 443.9,2448.3 443.9,2449.3 443.9,2450.3 443.9,2451.3 443.9,2452.3 443.9,2453.3 443.9,2454.3 443.9,2455.3 444.0,2456.3 444.0,2457.3 444.0,2458.3 444.0,2459.3 444.0,2460.3 444.0,2461.3 444.0,2462.3 444.0,2463.3 444.0,2464.3 444.0,2465.3 444.0,2466.3 444.0,2467.3 444.0,2468.3 444.0,2469.3 444.0,2470.3 444.0,2471.3 444.0,2472.3 444.0,2473.3 444.1,2474.3 444.1,2475.3 444.1,2476.3 444.1,2477.3 444.1,2478.3 444.1,2479.3 444.1,2480.3 444.1,2481.3 444.1,2482.3 444.1,2483.3 444.1,2484.3 444.1,2485.3 444.1,2486.3 444.1,2487.3 444.1,2488.3 444.1,2489.3 444.1,2490.3 444.1,2491.3 444.1,2492.3 444.1,2493.3 444.1,2494.3 444.1,2495.3 444.1,2496.3 444.1,2497.3 444.1,2498.3 444.1,2499.3 444.1,2500.3 444.1,2501.3 444.1,2502.3 444.1,2503.3 444.1,2504.3 444.1,2505.3 444.1,2506.3 444.1,2507.3 444.1,2508.3 444.1,2509.3 444.1,2510.3 444.1,2511.3 444.1,2512.3 444.1,2513.3 444.1,2514.3 444.1,2515.3 444.1,2516.3 444.1,2517.3 444.1,2518.3 444.1,2519.3 444.1,2520.3 444.1,2521.3 444.1,2522.3 444.1,2523.3 444.1,2524.3 444.1,2525.3 444.1,2526.3 444.1,2527.3 444.1,2528.3 444.1,2529.3 444.1,2530.3 444.1,2531.3 444.1,2532.3 444.1,2533.3 444.1,2534.3 444.1,2535.3 444.1,2536.3 444.1,2537.3 444.1,2538.3 444.1,2539.3 444.1,2540.3 444.1,2541.3 444.1,2542.3 444.1,2543.3 444.1,2544.3 444.1,2545.3 444.1,2546.3 444.1,2547.3 444.1,2548.3 444.1,2549.3 444.1,2550.3 444.1,2551.3 444.1,2552.3 444.1,2553.3 444.1,2554.3 444.1,2555.3 444.1,2556.3 444.1,2557.3 444.1,2558.3 444.1,2559.3 444.1,2560.3 444.1,2561.3 444.1,2562.3 444.1,2563.3 444.1,2564.3 444.1,2565.3 444.1,2566.3 444.1,2567.3 444.1,2568.3 444.1,2569.3 444.1,2570.3 444.1,2571.3 444.1,2572.3 444.1,2573.3 444.1,2574.3 444.1,2575.3 444.1,2576.3 444.1,2577.3 444.1,2578.3 444.1,2579.3 444.1,2580.3 444.1,2581.3 444.1,2582.3 444.1,2583.3 444.1,2584.3 444.1,2585.3 444.1,2586.3 444.1,2587.3 444.1,2588.3 444.1,2589.3 444.1,2590.3 444.1,2591.3 444.1,2592.3 444.1,2593.3 444.1,2594.3 444.1,2595.3 444.1,2596.3 444.1,2597.3 444.1,2598.3 444.1,2599.3 444.1,2600.3 444.1,2601.3 444.1,2602.3 444.1,2603.3 444.1,2604.3 444.1,2605.3 444.1,2606.3 444.1,2607.3 444.1,2608.3 444.1,2609.3 444.1,2610.3 444.1,2611.3 444.1,2612.3 444.1,2613.3 444.1,2614.3 444.1,2615.3 444.1,2616.3 444.1,2617.3 444.1,2618.3 444.1,2619.3 444.1,2620.3 444.1,2621.3 444.1,2622.3 444.1,2623.3 444.1,2624.3 444.1,2625.3 444.1,2626.3 444.1,2627.3 444.1,2628.3 444.1,2629.3 444.1,2630.3 444.1,2631.3 444.1,2632.3 444.1,2633.3 444.1,2634.3 444.1,2635.3 444.1,2636.3 444.1,2637.3 444.1,2638.3 444.1,2639.3 444.1,2640.3 444.1,2641.3 444.1,2642.3 444.1,2643.3 444.1,2644.3 444.1,2645.3 444.1,2646.3 444.1,2647.3 444.1,2648.3 444.1,2649.3 444.1,2650.3 444.1,2651.3 444.1,2652.3 444.1,2653.3 444.2,2654.3 444.8,2655.3 446.3,2656.3 449.5,2657.3 454.6,2658.3 461.1,2659.3 468.5,2660.3 477.2,2661.3 486.0,2662.3 495.2,2663.3 503.9,2664.3 511.6,2665.3 516.3,2666.3 518.3,2667.3 518.4,2667.5 364.4,2667.5 364.5,2667.3 366.5,2666.3 371.2,2665.3 378.9,2664.3 387.6,2663.3 396.8,2662.3 405.6,2661.3 414.3,2660.3 421.7,2659.3 428.2,2658.3 433.3,2657.3 436.5,2656.3 438.0,2655.3 438.6,2654.3 438.7,2653.3 438.7,2652.3 438.7,2651.3 438.7,2650.3 438.7,2649.3 438.7,2648.3 438.7,2647.3 438.7,2646.3 438.7,2645.3 438.7,2644.3 438.7,2643.3 438.7,2642.3 438.7,2641.3 438.7,2640.3 438.7,2639.3 438.7,2638.3 438.7,2637.3 438.7,2636.3 438.7,2635.3 438.7,2634.3 438.7,2633.3 438.7,2632.3 438.7,2631.3 438.7,2630.3 438.7,2629.3 438.7,2628.3 438.7,2627.3 438.7,2626.3 438.7,2625.3 438.7,2624.3 438.7,2623.3 438.7,2622.3 438.7,2621.3 438.7,2620.3 438.7,2619.3 438.7,2618.3 438.7,2617.3 438.7,2616.3 438.7,2615.3 438.7,2614.3 438.7,2613.3 438.7,2612.3 438.7,2611.3 438.7,2610.3 438.7,2609.3 438.7,2608.3 438.7,2607.3 438.7,2606.3 438.7,2605.3 438.7,2604.3 438.7,2603.3 438.7,2602.3 438.7,2601.3 438.7,2600.3 438.7,2599.3 438.7,2598.3 438.7,2597.3 438.7,2596.3 438.7,2595.3 438.7,2594.3 438.7,2593.3 438.7,2592.3 438.7,2591.3 438.7,2590.3 438.7,2589.3 438.7,2588.3 438.7,2587.3 438.7,2586.3 438.7,2585.3 438.7,2584.3 438.7,2583.3 438.7,2582.3 438.7,2581.3 438.7,2580.3 438.7,2579.3 438.7,2578.3 438.7,2577.3 438.7,2576.3 438.7,2575.3 438.7,2574.3 438.7,2573.3 438.7,2572.3 438.7,2571.3 438.7,2570.3 438.7,2569.3 438.7,2568.3 438.7,2567.3 438.7,2566.3 438.7,2565.3 438.7,2564.3 438.7,2563.3 438.7,2562.3 438.7,2561.3 438.7,2560.3 438.7,2559.3 438.7,2558.3 438.7,2557.3 438.7,2556.3 438.7,2555.3 438.7,2554.3 438.7,2553.3 438.7,2552.3 438.7,2551.3 438.7,2550.3 438.7,2549.3 438.7,2548.3 438.7,2547.3 438.7,2546.3 438.7,2545.3 438.7,2544.3 438.7,2543.3 438.7,2542.3 438.7,2541.3 438.7,2540.3 438.7,2539.3 438.7,2538.3 438.7,2537.3 438.7,2536.3 438.7,2535.3 438.7,2534.3 438.7,2533.3 438.7,2532.3 438.7,2531.3 438.7,2530.3 438.7,2529.3 438.7,2528.3 438.7,2527.3 438.7,2526.3 438.7,2525.3 438.7,2524.3 438.7,2523.3 438.7,2522.3 438.7,2521.3 438.7,2520.3 438.7,2519.3 438.7,2518.3 438.7,2517.3 438.7,2516.3 438.7,2515.3 438.7,2514.3 438.7,2513.3 438.7,2512.3 438.7,2511.3 438.7,2510.3 438.7,2509.3 438.7,2508.3 438.7,2507.3 438.7,2506.3 438.7,2505.3 438.7,2504.3 438.7,2503.3 438.7,2502.3 438.7,2501.3 438.7,2500.3 438.7,2499.3 438.7,2498.3 438.7,2497.3 438.7,2496.3 438.7,2495.3 438.7,2494.3 438.7,2493.3 438.7,2492.3 438.7,2491.3 438.7,2490.3 438.7,2489.3 438.7,2488.3 438.7,2487.3 438.7,2486.3 438.7,2485.3 438.7,2484.3 438.7,2483.3 438.7,2482.3 438.7,2481.3 438.7,2480.3 438.7,2479.3 438.7,2478.3 438.7,2477.3 438.7,2476.3 438.7,2475.3 438.7,2474.3 438.8,2473.3 438.8,2472.3 438.8,2471.3 438.8,2470.3 438.8,2469.3 438.8,2468.3 438.8,2467.3 438.8,2466.3 438.8,2465.3 438.8,2464.3 438.8,2463.3 438.8,2462.3 438.8,2461.3 438.8,2460.3 438.8,2459.3 438.8,2458.3 438.8,2457.3 438.8,2456.3 438.9,2455.3 438.9,2454.3 438.9,2453.3 438.9,2452.3 438.9,2451.3 438.9,2450.3 438.9,2449.3 438.9,2448.3 439.0,2447.3 439.0,2446.3 439.1,2445.3 439.1,2444.3 439.2,2443.3 439.2,2442.3Z" fill="#A4C46C" stroke="#A4C46C" stroke-width="0.9" stroke-linejoin="round"/>
<text x="237.0" y="2707.3" font-size="20" text-anchor="middle">Control</text>
<text x="438.3" y="2707.3" font-size="20" text-anchor="middle">41BB</text>
<text x="749.6" y="2375.7" font-size="20.5" text-anchor="middle">Stat1</text>
<text x="752.9" y="2403.9" font-size="28" text-anchor="middle" font-weight="bold">*</text>
<rect x="656.3" y="2405.6" width="196.2" height="13" fill="url(#shd)"/>
<line x1="656.30" y1="2404.50" x2="852.50" y2="2404.50" stroke="#000" stroke-width="2.2"/>
<rect x="544.40" y="2421.45" width="11.80" height="4.50" fill="#333"/>
<text x="538.4" y="2430.2" font-size="19.5" text-anchor="end">3</text>
<rect x="544.40" y="2502.35" width="11.80" height="4.50" fill="#333"/>
<text x="538.4" y="2511.1" font-size="19.5" text-anchor="end">2</text>
<rect x="544.40" y="2582.75" width="11.80" height="4.50" fill="#333"/>
<text x="538.4" y="2591.5" font-size="19.5" text-anchor="end">1</text>
<rect x="544.40" y="2663.65" width="11.80" height="4.50" fill="#333"/>
<text x="538.4" y="2672.4" font-size="19.5" text-anchor="end">0</text>
<path d="M666.7,2457.4 666.9,2458.4 667.1,2459.4 667.1,2460.4 667.1,2461.4 667.1,2462.4 667.1,2463.4 667.1,2464.4 667.1,2465.4 667.1,2466.4 667.1,2467.4 667.1,2468.4 667.1,2469.4 667.1,2470.4 667.1,2471.4 667.1,2472.4 667.1,2473.4 667.1,2474.4 667.1,2475.4 667.1,2476.4 667.1,2477.4 667.1,2478.4 667.1,2479.4 667.1,2480.4 667.1,2481.4 667.1,2482.4 667.1,2483.4 667.1,2484.4 667.1,2485.4 667.1,2486.4 667.1,2487.4 667.1,2488.4 667.1,2489.4 667.1,2490.4 667.1,2491.4 667.1,2492.4 667.1,2493.4 667.1,2494.4 667.1,2495.4 667.1,2496.4 667.1,2497.4 667.1,2498.4 667.1,2499.4 667.1,2500.4 667.1,2501.4 667.1,2502.4 667.1,2503.4 667.1,2504.4 667.1,2505.4 667.1,2506.4 667.1,2507.4 667.1,2508.4 667.1,2509.4 667.2,2510.4 667.2,2511.4 667.2,2512.4 667.2,2513.4 667.2,2514.4 667.2,2515.4 667.2,2516.4 667.2,2517.4 667.3,2518.4 667.3,2519.4 667.3,2520.4 667.3,2521.4 667.3,2522.4 667.3,2523.4 667.4,2524.4 667.4,2525.4 667.4,2526.4 667.4,2527.4 667.4,2528.4 667.5,2529.4 667.5,2530.4 667.5,2531.4 667.5,2532.4 667.6,2533.4 667.7,2534.4 667.7,2535.4 667.8,2536.4 667.9,2537.4 668.0,2538.4 668.1,2539.4 668.1,2540.4 668.2,2541.4 668.2,2542.4 668.2,2543.4 668.2,2544.4 668.2,2545.4 668.2,2546.4 668.2,2547.4 668.2,2548.4 668.2,2549.4 668.2,2550.4 668.2,2551.4 668.2,2552.4 668.2,2553.4 668.2,2554.4 668.1,2555.4 668.0,2556.4 668.0,2557.4 667.9,2558.4 667.7,2559.4 667.6,2560.4 667.4,2561.4 667.3,2562.4 667.1,2563.4 667.1,2564.4 667.2,2565.4 667.4,2566.4 667.7,2567.4 668.0,2568.4 668.5,2569.4 669.1,2570.4 669.6,2571.4 670.1,2572.4 670.5,2573.4 671.0,2574.4 671.3,2575.4 671.5,2576.4 671.4,2577.4 671.1,2578.4 670.6,2579.4 670.2,2580.4 669.7,2581.4 669.2,2582.4 668.6,2583.4 668.1,2584.4 667.7,2585.4 667.5,2586.4 667.5,2587.4 667.6,2588.4 667.6,2589.4 667.7,2590.4 667.8,2591.4 667.9,2592.4 668.1,2593.4 668.2,2594.4 668.4,2595.4 668.6,2596.4 668.8,2597.4 669.1,2598.4 669.6,2599.4 670.2,2600.4 671.4,2601.4 672.8,2602.4 674.2,2603.4 675.3,2604.4 676.3,2605.4 677.3,2606.4 678.2,2607.4 678.8,2608.4 679.2,2609.4 679.1,2610.4 678.5,2611.4 677.6,2612.4 676.6,2613.4 675.5,2614.4 674.5,2615.4 673.2,2616.4 671.7,2617.4 670.4,2618.4 669.4,2619.4 668.9,2620.4 668.6,2621.4 668.3,2622.4 668.0,2623.4 667.7,2624.4 667.6,2625.4 667.5,2626.4 667.5,2627.4 667.5,2628.4 667.5,2629.4 667.5,2630.4 667.5,2631.4 667.5,2632.4 667.5,2633.4 667.5,2634.4 667.5,2635.4 667.5,2636.4 667.5,2637.4 667.5,2638.4 667.5,2639.4 667.5,2640.4 667.5,2641.4 667.5,2642.4 667.5,2643.4 667.5,2644.4 667.5,2645.4 667.5,2646.4 667.5,2647.4 667.5,2648.4 667.8,2649.4 668.4,2650.4 669.4,2651.4 670.9,2652.4 673.6,2653.4 678.4,2654.4 684.6,2655.4 692.5,2656.4 700.2,2657.4 708.1,2658.4 716.1,2659.4 723.8,2660.4 730.3,2661.4 735.8,2662.4 740.7,2663.4 744.6,2664.4 747.4,2665.4 748.7,2666.0 581.1,2666.0 582.4,2665.4 585.2,2664.4 589.1,2663.4 594.0,2662.4 599.5,2661.4 606.0,2660.4 613.7,2659.4 621.7,2658.4 629.6,2657.4 637.3,2656.4 645.2,2655.4 651.4,2654.4 656.2,2653.4 658.9,2652.4 660.4,2651.4 661.4,2650.4 662.0,2649.4 662.3,2648.4 662.3,2647.4 662.3,2646.4 662.3,2645.4 662.3,2644.4 662.3,2643.4 662.3,2642.4 662.3,2641.4 662.3,2640.4 662.3,2639.4 662.3,2638.4 662.3,2637.4 662.3,2636.4 662.3,2635.4 662.3,2634.4 662.3,2633.4 662.3,2632.4 662.3,2631.4 662.3,2630.4 662.3,2629.4 662.3,2628.4 662.3,2627.4 662.3,2626.4 662.2,2625.4 662.1,2624.4 661.8,2623.4 661.5,2622.4 661.2,2621.4 660.9,2620.4 660.4,2619.4 659.4,2618.4 658.1,2617.4 656.6,2616.4 655.3,2615.4 654.3,2614.4 653.2,2613.4 652.2,2612.4 651.3,2611.4 650.7,2610.4 650.6,2609.4 651.0,2608.4 651.6,2607.4 652.5,2606.4 653.5,2605.4 654.5,2604.4 655.6,2603.4 657.0,2602.4 658.4,2601.4 659.6,2600.4 660.2,2599.4 660.7,2598.4 661.0,2597.4 661.2,2596.4 661.4,2595.4 661.6,2594.4 661.7,2593.4 661.9,2592.4 662.0,2591.4 662.1,2590.4 662.2,2589.4 662.2,2588.4 662.3,2587.4 662.3,2586.4 662.1,2585.4 661.7,2584.4 661.2,2583.4 660.6,2582.4 660.1,2581.4 659.6,2580.4 659.2,2579.4 658.7,2578.4 658.4,2577.4 658.3,2576.4 658.5,2575.4 658.8,2574.4 659.3,2573.4 659.7,2572.4 660.2,2571.4 660.7,2570.4 661.3,2569.4 661.8,2568.4 662.1,2567.4 662.4,2566.4 662.6,2565.4 662.7,2564.4 662.7,2563.4 662.5,2562.4 662.4,2561.4 662.2,2560.4 662.1,2559.4 661.9,2558.4 661.8,2557.4 661.8,2556.4 661.7,2555.4 661.6,2554.4 661.6,2553.4 661.6,2552.4 661.6,2551.4 661.6,2550.4 661.6,2549.4 661.6,2548.4 661.6,2547.4 661.6,2546.4 661.6,2545.4 661.6,2544.4 661.6,2543.4 661.6,2542.4 661.6,2541.4 661.7,2540.4 661.7,2539.4 661.8,2538.4 661.9,2537.4 662.0,2536.4 662.1,2535.4 662.1,2534.4 662.2,2533.4 662.3,2532.4 662.3,2531.4 662.3,2530.4 662.3,2529.4 662.4,2528.4 662.4,2527.4 662.4,2526.4 662.4,2525.4 662.4,2524.4 662.5,2523.4 662.5,2522.4 662.5,2521.4 662.5,2520.4 662.5,2519.4 662.5,2518.4 662.6,2517.4 662.6,2516.4 662.6,2515.4 662.6,2514.4 662.6,2513.4 662.6,2512.4 662.6,2511.4 662.6,2510.4 662.7,2509.4 662.7,2508.4 662.7,2507.4 662.7,2506.4 662.7,2505.4 662.7,2504.4 662.7,2503.4 662.7,2502.4 662.7,2501.4 662.7,2500.4 662.7,2499.4 662.7,2498.4 662.7,2497.4 662.7,2496.4 662.7,2495.4 662.7,2494.4 662.7,2493.4 662.7,2492.4 662.7,2491.4 662.7,2490.4 662.7,2489.4 662.7,2488.4 662.7,2487.4 662.7,2486.4 662.7,2485.4 662.7,2484.4 662.7,2483.4 662.7,2482.4 662.7,2481.4 662.7,2480.4 662.7,2479.4 662.7,2478.4 662.7,2477.4 662.7,2476.4 662.7,2475.4 662.7,2474.4 662.7,2473.4 662.7,2472.4 662.7,2471.4 662.7,2470.4 662.7,2469.4 662.7,2468.4 662.7,2467.4 662.7,2466.4 662.7,2465.4 662.7,2464.4 662.7,2463.4 662.7,2462.4 662.7,2461.4 662.7,2460.4 662.7,2459.4 662.9,2458.4 663.1,2457.4Z" fill="#5A0333" stroke="#5A0333" stroke-width="0.9" stroke-linejoin="round"/>
<path d="M849.2,2418.8 849.5,2419.8 849.6,2420.8 849.6,2421.8 849.7,2422.8 849.7,2423.8 849.7,2424.8 849.7,2425.8 849.8,2426.8 849.8,2427.8 849.8,2428.8 849.8,2429.8 849.8,2430.8 849.8,2431.8 849.8,2432.8 849.8,2433.8 849.9,2434.8 849.9,2435.8 849.9,2436.8 849.9,2437.8 849.9,2438.8 849.9,2439.8 849.9,2440.8 849.9,2441.8 849.9,2442.8 849.9,2443.8 849.9,2444.8 849.9,2445.8 849.9,2446.8 849.9,2447.8 849.9,2448.8 850.0,2449.8 850.0,2450.8 850.0,2451.8 850.0,2452.8 850.0,2453.8 850.0,2454.8 850.0,2455.8 850.0,2456.8 850.0,2457.8 850.1,2458.8 850.1,2459.8 850.1,2460.8 850.1,2461.8 850.1,2462.8 850.1,2463.8 850.1,2464.8 850.2,2465.8 850.2,2466.8 850.2,2467.8 850.2,2468.8 850.2,2469.8 850.2,2470.8 850.2,2471.8 850.3,2472.8 850.3,2473.8 850.3,2474.8 850.3,2475.8 850.3,2476.8 850.3,2477.8 850.3,2478.8 850.4,2479.8 850.4,2480.8 850.4,2481.8 850.4,2482.8 850.4,2483.8 850.4,2484.8 850.5,2485.8 850.5,2486.8 850.5,2487.8 850.5,2488.8 850.5,2489.8 850.5,2490.8 850.6,2491.8 850.6,2492.8 850.6,2493.8 850.6,2494.8 850.6,2495.8 850.7,2496.8 850.7,2497.8 850.7,2498.8 850.7,2499.8 850.8,2500.8 850.8,2501.8 850.8,2502.8 850.9,2503.8 850.9,2504.8 850.9,2505.8 851.0,2506.8 851.0,2507.8 851.1,2508.8 851.1,2509.8 851.2,2510.8 851.2,2511.8 851.2,2512.8 851.3,2513.8 851.3,2514.8 851.4,2515.8 851.4,2516.8 851.5,2517.8 851.5,2518.8 851.5,2519.8 851.6,2520.8 851.6,2521.8 851.7,2522.8 851.7,2523.8 851.7,2524.8 851.7,2525.8 851.8,2526.8 851.8,2527.8 851.8,2528.8 851.8,2529.8 851.8,2530.8 851.8,2531.8 851.8,2532.8 851.8,2533.8 851.8,2534.8 851.8,2535.8 851.8,2536.8 851.8,2537.8 851.8,2538.8 851.8,2539.8 851.8,2540.8 851.8,2541.8 851.8,2542.8 851.9,2543.8 852.0,2544.8 852.2,2545.8 852.4,2546.8 852.6,2547.8 852.9,2548.8 853.2,2549.8 853.5,2550.8 853.8,2551.8 854.0,2552.8 854.0,2553.8 853.9,2554.8 853.6,2555.8 853.4,2556.8 853.0,2557.8 852.7,2558.8 852.4,2559.8 852.2,2560.8 851.9,2561.8 851.6,2562.8 851.4,2563.8 851.4,2564.8 851.8,2565.8 852.3,2566.8 852.9,2567.8 853.6,2568.8 854.3,2569.8 854.8,2570.8 855.2,2571.8 855.5,2572.8 855.8,2573.8 856.0,2574.8 856.2,2575.8 856.2,2576.8 856.1,2577.8 855.9,2578.8 855.7,2579.8 855.5,2580.8 855.1,2581.8 854.7,2582.8 854.1,2583.8 853.5,2584.8 852.9,2585.8 852.5,2586.8 852.1,2587.8 851.7,2588.8 851.4,2589.8 851.0,2590.8 850.8,2591.8 850.7,2592.8 850.7,2593.8 850.9,2594.8 851.1,2595.8 851.4,2596.8 851.6,2597.8 852.0,2598.8 852.5,2599.8 853.0,2600.8 853.4,2601.8 853.8,2602.8 854.2,2603.8 854.6,2604.8 854.9,2605.8 855.3,2606.8 855.6,2607.8 855.7,2608.8 855.8,2609.8 855.7,2610.8 855.5,2611.8 855.2,2612.8 854.8,2613.8 854.4,2614.8 854.0,2615.8 853.5,2616.8 852.9,2617.8 852.2,2618.8 851.5,2619.8 851.0,2620.8 850.7,2621.8 850.6,2622.8 850.5,2623.8 850.4,2624.8 850.3,2625.8 850.2,2626.8 850.1,2627.8 850.1,2628.8 850.0,2629.8 850.0,2630.8 850.0,2631.8 850.0,2632.8 850.0,2633.8 850.0,2634.8 850.0,2635.8 850.1,2636.8 850.1,2637.8 850.1,2638.8 850.2,2639.8 850.2,2640.8 850.2,2641.8 850.3,2642.8 850.4,2643.8 850.4,2644.8 850.5,2645.8 850.6,2646.8 850.7,2647.8 850.8,2648.8 851.3,2649.8 851.9,2650.8 852.8,2651.8 854.2,2652.8 856.9,2653.8 860.6,2654.8 865.2,2655.8 870.3,2656.8 874.9,2657.8 879.4,2658.8 883.9,2659.8 888.3,2660.8 892.8,2661.8 897.6,2662.8 902.1,2663.8 905.2,2664.8 907.1,2665.8 907.4,2666.0 787.4,2666.0 787.7,2665.8 789.6,2664.8 792.7,2663.8 797.2,2662.8 802.0,2661.8 806.5,2660.8 810.9,2659.8 815.4,2658.8 819.9,2657.8 824.5,2656.8 829.6,2655.8 834.2,2654.8 837.9,2653.8 840.6,2652.8 842.0,2651.8 842.9,2650.8 843.5,2649.8 844.0,2648.8 844.1,2647.8 844.2,2646.8 844.3,2645.8 844.4,2644.8 844.4,2643.8 844.5,2642.8 844.6,2641.8 844.6,2640.8 844.6,2639.8 844.7,2638.8 844.7,2637.8 844.7,2636.8 844.8,2635.8 844.8,2634.8 844.8,2633.8 844.8,2632.8 844.8,2631.8 844.8,2630.8 844.8,2629.8 844.7,2628.8 844.7,2627.8 844.6,2626.8 844.5,2625.8 844.4,2624.8 844.3,2623.8 844.2,2622.8 844.1,2621.8 843.8,2620.8 843.3,2619.8 842.6,2618.8 841.9,2617.8 841.3,2616.8 840.8,2615.8 840.4,2614.8 840.0,2613.8 839.6,2612.8 839.3,2611.8 839.1,2610.8 839.0,2609.8 839.1,2608.8 839.2,2607.8 839.5,2606.8 839.9,2605.8 840.2,2604.8 840.6,2603.8 841.0,2602.8 841.4,2601.8 841.8,2600.8 842.3,2599.8 842.8,2598.8 843.2,2597.8 843.4,2596.8 843.7,2595.8 843.9,2594.8 844.1,2593.8 844.1,2592.8 844.0,2591.8 843.8,2590.8 843.4,2589.8 843.1,2588.8 842.7,2587.8 842.3,2586.8 841.9,2585.8 841.3,2584.8 840.7,2583.8 840.1,2582.8 839.7,2581.8 839.3,2580.8 839.1,2579.8 838.9,2578.8 838.7,2577.8 838.6,2576.8 838.6,2575.8 838.8,2574.8 839.0,2573.8 839.3,2572.8 839.6,2571.8 840.0,2570.8 840.5,2569.8 841.2,2568.8 841.9,2567.8 842.5,2566.8 843.0,2565.8 843.4,2564.8 843.4,2563.8 843.2,2562.8 842.9,2561.8 842.6,2560.8 842.4,2559.8 842.1,2558.8 841.8,2557.8 841.4,2556.8 841.2,2555.8 840.9,2554.8 840.8,2553.8 840.8,2552.8 841.0,2551.8 841.3,2550.8 841.6,2549.8 841.9,2548.8 842.2,2547.8 842.4,2546.8 842.6,2545.8 842.8,2544.8 842.9,2543.8 843.0,2542.8 843.0,2541.8 843.0,2540.8 843.0,2539.8 843.0,2538.8 843.0,2537.8 843.0,2536.8 843.0,2535.8 843.0,2534.8 843.0,2533.8 843.0,2532.8 843.0,2531.8 843.0,2530.8 843.0,2529.8 843.0,2528.8 843.0,2527.8 843.0,2526.8 843.1,2525.8 843.1,2524.8 843.1,2523.8 843.1,2522.8 843.2,2521.8 843.2,2520.8 843.3,2519.8 843.3,2518.8 843.3,2517.8 843.4,2516.8 843.4,2515.8 843.5,2514.8 843.5,2513.8 843.6,2512.8 843.6,2511.8 843.6,2510.8 843.7,2509.8 843.7,2508.8 843.8,2507.8 843.8,2506.8 843.9,2505.8 843.9,2504.8 843.9,2503.8 844.0,2502.8 844.0,2501.8 844.0,2500.8 844.1,2499.8 844.1,2498.8 844.1,2497.8 844.1,2496.8 844.2,2495.8 844.2,2494.8 844.2,2493.8 844.2,2492.8 844.2,2491.8 844.3,2490.8 844.3,2489.8 844.3,2488.8 844.3,2487.8 844.3,2486.8 844.3,2485.8 844.4,2484.8 844.4,2483.8 844.4,2482.8 844.4,2481.8 844.4,2480.8 844.4,2479.8 844.5,2478.8 844.5,2477.8 844.5,2476.8 844.5,2475.8 844.5,2474.8 844.5,2473.8 844.5,2472.8 844.6,2471.8 844.6,2470.8 844.6,2469.8 844.6,2468.8 844.6,2467.8 844.6,2466.8 844.6,2465.8 844.7,2464.8 844.7,2463.8 844.7,2462.8 844.7,2461.8 844.7,2460.8 844.7,2459.8 844.7,2458.8 844.8,2457.8 844.8,2456.8 844.8,2455.8 844.8,2454.8 844.8,2453.8 844.8,2452.8 844.8,2451.8 844.8,2450.8 844.8,2449.8 844.9,2448.8 844.9,2447.8 844.9,2446.8 844.9,2445.8 844.9,2444.8 844.9,2443.8 844.9,2442.8 844.9,2441.8 844.9,2440.8 844.9,2439.8 844.9,2438.8 844.9,2437.8 844.9,2436.8 844.9,2435.8 844.9,2434.8 845.0,2433.8 845.0,2432.8 845.0,2431.8 845.0,2430.8 845.0,2429.8 845.0,2428.8 845.0,2427.8 845.0,2426.8 845.1,2425.8 845.1,2424.8 845.1,2423.8 845.1,2422.8 845.2,2421.8 845.2,2420.8 845.3,2419.8 845.6,2418.8Z" fill="#A4C46C" stroke="#A4C46C" stroke-width="0.9" stroke-linejoin="round"/>
<text x="663.8" y="2710.3" font-size="20" text-anchor="middle">Control</text>
<text x="847.8" y="2709.0" font-size="20" text-anchor="middle">41BB</text>
<text x="1203.2" y="2395.8" font-size="20.5" text-anchor="middle">IL10</text>
<text x="1207.0" y="2425.3" font-size="28" text-anchor="middle" font-weight="bold">*</text>
<rect x="1142.7" y="2427.0" width="120.2" height="13" fill="url(#shd)"/>
<line x1="1142.70" y1="2425.90" x2="1262.90" y2="2425.90" stroke="#000" stroke-width="2.2"/>
<rect x="1051.60" y="2440.50" width="12.10" height="5.00" fill="#333"/>
<text x="1044.0" y="2449.5" font-size="19.5" text-anchor="end">1.6</text>
<rect x="1051.60" y="2493.80" width="12.10" height="5.00" fill="#333"/>
<text x="1044.0" y="2502.8" font-size="19.5" text-anchor="end">1.2</text>
<rect x="1051.60" y="2546.60" width="12.10" height="5.00" fill="#333"/>
<text x="1044.0" y="2555.6" font-size="19.5" text-anchor="end">0.8</text>
<rect x="1051.60" y="2598.10" width="12.10" height="5.00" fill="#333"/>
<text x="1044.0" y="2607.1" font-size="19.5" text-anchor="end">0.4</text>
<rect x="1051.60" y="2651.80" width="12.10" height="5.00" fill="#333"/>
<text x="1044.0" y="2660.8" font-size="19.5" text-anchor="end">0.0</text>
<path d="M1140.8,2443.0 1140.9,2444.0 1141.0,2445.0 1141.0,2446.0 1141.0,2447.0 1141.0,2448.0 1141.0,2449.0 1141.0,2450.0 1141.0,2451.0 1141.0,2452.0 1141.0,2453.0 1141.0,2454.0 1141.0,2455.0 1141.0,2456.0 1141.0,2457.0 1141.0,2458.0 1141.0,2459.0 1141.0,2460.0 1141.0,2461.0 1141.0,2462.0 1141.0,2463.0 1141.0,2464.0 1141.0,2465.0 1141.0,2466.0 1141.0,2467.0 1141.0,2468.0 1141.0,2469.0 1141.0,2470.0 1141.0,2471.0 1141.0,2472.0 1141.0,2473.0 1141.0,2474.0 1141.0,2475.0 1141.0,2476.0 1141.0,2477.0 1141.0,2478.0 1141.0,2479.0 1141.0,2480.0 1141.0,2481.0 1141.0,2482.0 1141.0,2483.0 1141.0,2484.0 1141.0,2485.0 1141.0,2486.0 1141.0,2487.0 1141.0,2488.0 1141.0,2489.0 1141.0,2490.0 1141.0,2491.0 1141.0,2492.0 1141.0,2493.0 1141.0,2494.0 1141.0,2495.0 1141.0,2496.0 1141.0,2497.0 1141.0,2498.0 1141.0,2499.0 1141.0,2500.0 1141.0,2501.0 1141.0,2502.0 1141.0,2503.0 1141.0,2504.0 1141.0,2505.0 1141.0,2506.0 1141.0,2507.0 1141.0,2508.0 1141.0,2509.0 1141.0,2510.0 1141.0,2511.0 1141.0,2512.0 1141.0,2513.0 1141.0,2514.0 1141.0,2515.0 1141.0,2516.0 1141.0,2517.0 1141.0,2518.0 1141.0,2519.0 1141.0,2520.0 1141.0,2521.0 1141.0,2522.0 1141.0,2523.0 1141.0,2524.0 1141.0,2525.0 1141.0,2526.0 1141.0,2527.0 1141.0,2528.0 1141.0,2529.0 1141.0,2530.0 1141.0,2531.0 1141.0,2532.0 1141.0,2533.0 1141.0,2534.0 1141.0,2535.0 1141.0,2536.0 1141.0,2537.0 1141.0,2538.0 1141.0,2539.0 1141.0,2540.0 1141.0,2541.0 1141.0,2542.0 1141.0,2543.0 1141.0,2544.0 1141.0,2545.0 1141.0,2546.0 1141.0,2547.0 1141.0,2548.0 1141.0,2549.0 1141.0,2550.0 1141.0,2551.0 1141.0,2552.0 1141.0,2553.0 1141.0,2554.0 1141.0,2555.0 1141.0,2556.0 1141.0,2557.0 1141.0,2558.0 1141.0,2559.0 1141.0,2560.0 1141.0,2561.0 1141.0,2562.0 1141.0,2563.0 1141.0,2564.0 1141.0,2565.0 1141.0,2566.0 1141.0,2567.0 1141.0,2568.0 1141.0,2569.0 1141.0,2570.0 1141.0,2571.0 1141.0,2572.0 1141.0,2573.0 1141.0,2574.0 1141.0,2575.0 1141.0,2576.0 1141.0,2577.0 1141.0,2578.0 1141.0,2579.0 1141.0,2580.0 1141.0,2581.0 1141.0,2582.0 1141.0,2583.0 1141.0,2584.0 1141.0,2585.0 1141.0,2586.0 1141.0,2587.0 1141.0,2588.0 1141.0,2589.0 1141.0,2590.0 1141.0,2591.0 1141.0,2592.0 1141.0,2593.0 1141.0,2594.0 1141.0,2595.0 1141.0,2596.0 1141.0,2597.0 1141.0,2598.0 1141.0,2599.0 1141.0,2600.0 1141.0,2601.0 1141.0,2602.0 1141.0,2603.0 1141.0,2604.0 1141.0,2605.0 1141.0,2606.0 1141.0,2607.0 1141.0,2608.0 1141.0,2609.0 1141.0,2610.0 1141.0,2611.0 1141.0,2612.0 1141.0,2613.0 1141.0,2614.0 1141.0,2615.0 1141.0,2616.0 1141.0,2617.0 1141.0,2618.0 1141.0,2619.0 1141.0,2620.0 1141.0,2621.0 1141.0,2622.0 1141.0,2623.0 1141.0,2624.0 1141.0,2625.0 1141.0,2626.0 1141.0,2627.0 1141.0,2628.0 1141.0,2629.0 1141.0,2630.0 1141.0,2631.0 1141.0,2632.0 1141.0,2633.0 1141.0,2634.0 1141.0,2635.0 1141.0,2636.0 1141.0,2637.0 1141.0,2638.0 1141.0,2639.0 1141.0,2640.0 1141.0,2641.0 1141.0,2642.0 1141.0,2643.0 1141.0,2644.0 1141.0,2645.0 1141.0,2646.0 1141.1,2647.0 1141.4,2648.0 1142.0,2649.0 1144.4,2650.0 1149.5,2651.0 1158.1,2652.0 1190.4,2653.0 1192.2,2654.0 1192.4,2655.0 1192.4,2655.3 1085.4,2655.3 1085.4,2655.0 1085.6,2654.0 1087.4,2653.0 1119.7,2652.0 1128.3,2651.0 1133.4,2650.0 1135.8,2649.0 1136.4,2648.0 1136.7,2647.0 1136.8,2646.0 1136.8,2645.0 1136.8,2644.0 1136.8,2643.0 1136.8,2642.0 1136.8,2641.0 1136.8,2640.0 1136.8,2639.0 1136.8,2638.0 1136.8,2637.0 1136.8,2636.0 1136.8,2635.0 1136.8,2634.0 1136.8,2633.0 1136.8,2632.0 1136.8,2631.0 1136.8,2630.0 1136.8,2629.0 1136.8,2628.0 1136.8,2627.0 1136.8,2626.0 1136.8,2625.0 1136.8,2624.0 1136.8,2623.0 1136.8,2622.0 1136.8,2621.0 1136.8,2620.0 1136.8,2619.0 1136.8,2618.0 1136.8,2617.0 1136.8,2616.0 1136.8,2615.0 1136.8,2614.0 1136.8,2613.0 1136.8,2612.0 1136.8,2611.0 1136.8,2610.0 1136.8,2609.0 1136.8,2608.0 1136.8,2607.0 1136.8,2606.0 1136.8,2605.0 1136.8,2604.0 1136.8,2603.0 1136.8,2602.0 1136.8,2601.0 1136.8,2600.0 1136.8,2599.0 1136.8,2598.0 1136.8,2597.0 1136.8,2596.0 1136.8,2595.0 1136.8,2594.0 1136.8,2593.0 1136.8,2592.0 1136.8,2591.0 1136.8,2590.0 1136.8,2589.0 1136.8,2588.0 1136.8,2587.0 1136.8,2586.0 1136.8,2585.0 1136.8,2584.0 1136.8,2583.0 1136.8,2582.0 1136.8,2581.0 1136.8,2580.0 1136.8,2579.0 1136.8,2578.0 1136.8,2577.0 1136.8,2576.0 1136.8,2575.0 1136.8,2574.0 1136.8,2573.0 1136.8,2572.0 1136.8,2571.0 1136.8,2570.0 1136.8,2569.0 1136.8,2568.0 1136.8,2567.0 1136.8,2566.0 1136.8,2565.0 1136.8,2564.0 1136.8,2563.0 1136.8,2562.0 1136.8,2561.0 1136.8,2560.0 1136.8,2559.0 1136.8,2558.0 1136.8,2557.0 1136.8,2556.0 1136.8,2555.0 1136.8,2554.0 1136.8,2553.0 1136.8,2552.0 1136.8,2551.0 1136.8,2550.0 1136.8,2549.0 1136.8,2548.0 1136.8,2547.0 1136.8,2546.0 1136.8,2545.0 1136.8,2544.0 1136.8,2543.0 1136.8,2542.0 1136.8,2541.0 1136.8,2540.0 1136.8,2539.0 1136.8,2538.0 1136.8,2537.0 1136.8,2536.0 1136.8,2535.0 1136.8,2534.0 1136.8,2533.0 1136.8,2532.0 1136.8,2531.0 1136.8,2530.0 1136.8,2529.0 1136.8,2528.0 1136.8,2527.0 1136.8,2526.0 1136.8,2525.0 1136.8,2524.0 1136.8,2523.0 1136.8,2522.0 1136.8,2521.0 1136.8,2520.0 1136.8,2519.0 1136.8,2518.0 1136.8,2517.0 1136.8,2516.0 1136.8,2515.0 1136.8,2514.0 1136.8,2513.0 1136.8,2512.0 1136.8,2511.0 1136.8,2510.0 1136.8,2509.0 1136.8,2508.0 1136.8,2507.0 1136.8,2506.0 1136.8,2505.0 1136.8,2504.0 1136.8,2503.0 1136.8,2502.0 1136.8,2501.0 1136.8,2500.0 1136.8,2499.0 1136.8,2498.0 1136.8,2497.0 1136.8,2496.0 1136.8,2495.0 1136.8,2494.0 1136.8,2493.0 1136.8,2492.0 1136.8,2491.0 1136.8,2490.0 1136.8,2489.0 1136.8,2488.0 1136.8,2487.0 1136.8,2486.0 1136.8,2485.0 1136.8,2484.0 1136.8,2483.0 1136.8,2482.0 1136.8,2481.0 1136.8,2480.0 1136.8,2479.0 1136.8,2478.0 1136.8,2477.0 1136.8,2476.0 1136.8,2475.0 1136.8,2474.0 1136.8,2473.0 1136.8,2472.0 1136.8,2471.0 1136.8,2470.0 1136.8,2469.0 1136.8,2468.0 1136.8,2467.0 1136.8,2466.0 1136.8,2465.0 1136.8,2464.0 1136.8,2463.0 1136.8,2462.0 1136.8,2461.0 1136.8,2460.0 1136.8,2459.0 1136.8,2458.0 1136.8,2457.0 1136.8,2456.0 1136.8,2455.0 1136.8,2454.0 1136.8,2453.0 1136.8,2452.0 1136.8,2451.0 1136.8,2450.0 1136.8,2449.0 1136.8,2448.0 1136.8,2447.0 1136.8,2446.0 1136.8,2445.0 1136.9,2444.0 1137.0,2443.0Z" fill="#5A0333" stroke="#5A0333" stroke-width="0.9" stroke-linejoin="round"/>
<path d="M1266.4,2471.0 1266.5,2472.0 1266.6,2473.0 1266.6,2474.0 1266.6,2475.0 1266.6,2476.0 1266.6,2477.0 1266.6,2478.0 1266.6,2479.0 1266.6,2480.0 1266.6,2481.0 1266.6,2482.0 1266.6,2483.0 1266.6,2484.0 1266.6,2485.0 1266.6,2486.0 1266.6,2487.0 1266.6,2488.0 1266.6,2489.0 1266.6,2490.0 1266.6,2491.0 1266.6,2492.0 1266.6,2493.0 1266.6,2494.0 1266.6,2495.0 1266.6,2496.0 1266.6,2497.0 1266.6,2498.0 1266.6,2499.0 1266.6,2500.0 1266.6,2501.0 1266.6,2502.0 1266.6,2503.0 1266.6,2504.0 1266.6,2505.0 1266.6,2506.0 1266.6,2507.0 1266.6,2508.0 1266.6,2509.0 1266.6,2510.0 1266.6,2511.0 1266.6,2512.0 1266.6,2513.0 1266.6,2514.0 1266.6,2515.0 1266.6,2516.0 1266.6,2517.0 1266.6,2518.0 1266.6,2519.0 1266.6,2520.0 1266.6,2521.0 1266.6,2522.0 1266.6,2523.0 1266.6,2524.0 1266.6,2525.0 1266.6,2526.0 1266.6,2527.0 1266.6,2528.0 1266.6,2529.0 1266.6,2530.0 1266.6,2531.0 1266.6,2532.0 1266.6,2533.0 1266.6,2534.0 1266.6,2535.0 1266.6,2536.0 1266.6,2537.0 1266.6,2538.0 1266.6,2539.0 1266.6,2540.0 1266.6,2541.0 1266.6,2542.0 1266.6,2543.0 1266.6,2544.0 1266.6,2545.0 1266.6,2546.0 1266.6,2547.0 1266.6,2548.0 1266.6,2549.0 1266.6,2550.0 1266.6,2551.0 1266.6,2552.0 1266.6,2553.0 1266.6,2554.0 1266.6,2555.0 1266.6,2556.0 1266.6,2557.0 1266.6,2558.0 1266.6,2559.0 1266.6,2560.0 1266.6,2561.0 1266.6,2562.0 1266.6,2563.0 1266.6,2564.0 1266.6,2565.0 1266.6,2566.0 1266.6,2567.0 1266.6,2568.0 1266.6,2569.0 1266.6,2570.0 1266.6,2571.0 1266.6,2572.0 1266.6,2573.0 1266.6,2574.0 1266.6,2575.0 1266.6,2576.0 1266.6,2577.0 1266.6,2578.0 1266.6,2579.0 1266.6,2580.0 1266.6,2581.0 1266.6,2582.0 1266.6,2583.0 1266.6,2584.0 1266.6,2585.0 1266.6,2586.0 1266.6,2587.0 1266.6,2588.0 1266.6,2589.0 1266.6,2590.0 1266.6,2591.0 1266.6,2592.0 1266.6,2593.0 1266.6,2594.0 1266.6,2595.0 1266.6,2596.0 1266.6,2597.0 1266.6,2598.0 1266.6,2599.0 1266.6,2600.0 1266.6,2601.0 1266.6,2602.0 1266.6,2603.0 1266.6,2604.0 1266.6,2605.0 1266.6,2606.0 1266.6,2607.0 1266.6,2608.0 1266.6,2609.0 1266.6,2610.0 1266.6,2611.0 1266.6,2612.0 1266.6,2613.0 1266.6,2614.0 1266.6,2615.0 1266.6,2616.0 1266.6,2617.0 1266.6,2618.0 1266.6,2619.0 1266.6,2620.0 1266.6,2621.0 1266.6,2622.0 1266.6,2623.0 1266.6,2624.0 1266.6,2625.0 1266.6,2626.0 1266.6,2627.0 1266.6,2628.0 1266.6,2629.0 1266.6,2630.0 1266.6,2631.0 1266.6,2632.0 1266.6,2633.0 1266.6,2634.0 1266.6,2635.0 1266.6,2636.0 1266.6,2637.0 1266.6,2638.0 1266.6,2639.0 1266.6,2640.0 1266.6,2641.0 1266.6,2642.0 1266.6,2643.0 1266.6,2644.0 1266.6,2645.0 1266.6,2646.0 1266.6,2647.0 1266.7,2648.0 1267.0,2649.0 1267.6,2650.0 1270.8,2651.0 1297.1,2652.0 1294.0,2653.0 1321.8,2654.0 1322.0,2655.0 1322.0,2655.3 1207.0,2655.3 1207.0,2655.0 1207.2,2654.0 1235.0,2653.0 1231.9,2652.0 1258.2,2651.0 1261.4,2650.0 1262.0,2649.0 1262.3,2648.0 1262.4,2647.0 1262.4,2646.0 1262.4,2645.0 1262.4,2644.0 1262.4,2643.0 1262.4,2642.0 1262.4,2641.0 1262.4,2640.0 1262.4,2639.0 1262.4,2638.0 1262.4,2637.0 1262.4,2636.0 1262.4,2635.0 1262.4,2634.0 1262.4,2633.0 1262.4,2632.0 1262.4,2631.0 1262.4,2630.0 1262.4,2629.0 1262.4,2628.0 1262.4,2627.0 1262.4,2626.0 1262.4,2625.0 1262.4,2624.0 1262.4,2623.0 1262.4,2622.0 1262.4,2621.0 1262.4,2620.0 1262.4,2619.0 1262.4,2618.0 1262.4,2617.0 1262.4,2616.0 1262.4,2615.0 1262.4,2614.0 1262.4,2613.0 1262.4,2612.0 1262.4,2611.0 1262.4,2610.0 1262.4,2609.0 1262.4,2608.0 1262.4,2607.0 1262.4,2606.0 1262.4,2605.0 1262.4,2604.0 1262.4,2603.0 1262.4,2602.0 1262.4,2601.0 1262.4,2600.0 1262.4,2599.0 1262.4,2598.0 1262.4,2597.0 1262.4,2596.0 1262.4,2595.0 1262.4,2594.0 1262.4,2593.0 1262.4,2592.0 1262.4,2591.0 1262.4,2590.0 1262.4,2589.0 1262.4,2588.0 1262.4,2587.0 1262.4,2586.0 1262.4,2585.0 1262.4,2584.0 1262.4,2583.0 1262.4,2582.0 1262.4,2581.0 1262.4,2580.0 1262.4,2579.0 1262.4,2578.0 1262.4,2577.0 1262.4,2576.0 1262.4,2575.0 1262.4,2574.0 1262.4,2573.0 1262.4,2572.0 1262.4,2571.0 1262.4,2570.0 1262.4,2569.0 1262.4,2568.0 1262.4,2567.0 1262.4,2566.0 1262.4,2565.0 1262.4,2564.0 1262.4,2563.0 1262.4,2562.0 1262.4,2561.0 1262.4,2560.0 1262.4,2559.0 1262.4,2558.0 1262.4,2557.0 1262.4,2556.0 1262.4,2555.0 1262.4,2554.0 1262.4,2553.0 1262.4,2552.0 1262.4,2551.0 1262.4,2550.0 1262.4,2549.0 1262.4,2548.0 1262.4,2547.0 1262.4,2546.0 1262.4,2545.0 1262.4,2544.0 1262.4,2543.0 1262.4,2542.0 1262.4,2541.0 1262.4,2540.0 1262.4,2539.0 1262.4,2538.0 1262.4,2537.0 1262.4,2536.0 1262.4,2535.0 1262.4,2534.0 1262.4,2533.0 1262.4,2532.0 1262.4,2531.0 1262.4,2530.0 1262.4,2529.0 1262.4,2528.0 1262.4,2527.0 1262.4,2526.0 1262.4,2525.0 1262.4,2524.0 1262.4,2523.0 1262.4,2522.0 1262.4,2521.0 1262.4,2520.0 1262.4,2519.0 1262.4,2518.0 1262.4,2517.0 1262.4,2516.0 1262.4,2515.0 1262.4,2514.0 1262.4,2513.0 1262.4,2512.0 1262.4,2511.0 1262.4,2510.0 1262.4,2509.0 1262.4,2508.0 1262.4,2507.0 1262.4,2506.0 1262.4,2505.0 1262.4,2504.0 1262.4,2503.0 1262.4,2502.0 1262.4,2501.0 1262.4,2500.0 1262.4,2499.0 1262.4,2498.0 1262.4,2497.0 1262.4,2496.0 1262.4,2495.0 1262.4,2494.0 1262.4,2493.0 1262.4,2492.0 1262.4,2491.0 1262.4,2490.0 1262.4,2489.0 1262.4,2488.0 1262.4,2487.0 1262.4,2486.0 1262.4,2485.0 1262.4,2484.0 1262.4,2483.0 1262.4,2482.0 1262.4,2481.0 1262.4,2480.0 1262.4,2479.0 1262.4,2478.0 1262.4,2477.0 1262.4,2476.0 1262.4,2475.0 1262.4,2474.0 1262.4,2473.0 1262.5,2472.0 1262.6,2471.0Z" fill="#A4C46C" stroke="#A4C46C" stroke-width="0.9" stroke-linejoin="round"/>
<text x="1134.0" y="2687.8" font-size="20" text-anchor="middle">Control</text>
<text x="1262.9" y="2687.8" font-size="20" text-anchor="middle">41BB</text>
<text x="1550.6" y="2400.0" font-size="20.5" text-anchor="middle">Mrc1</text>
<text x="1549.7" y="2430.9" font-size="28" text-anchor="middle" font-weight="bold">*</text>
<rect x="1491.7" y="2431.3" width="119.0" height="13" fill="url(#shd)"/>
<line x1="1491.70" y1="2430.20" x2="1610.70" y2="2430.20" stroke="#000" stroke-width="2.2"/>
<rect x="1405.90" y="2466.30" width="12.00" height="5.00" fill="#333"/>
<text x="1397.3" y="2475.3" font-size="19.5" text-anchor="end">0.6</text>
<rect x="1405.90" y="2526.40" width="12.00" height="5.00" fill="#333"/>
<text x="1397.3" y="2535.4" font-size="19.5" text-anchor="end">0.4</text>
<rect x="1405.90" y="2587.80" width="12.00" height="5.00" fill="#333"/>
<text x="1397.3" y="2596.8" font-size="19.5" text-anchor="end">0.2</text>
<rect x="1405.90" y="2648.80" width="12.00" height="5.00" fill="#333"/>
<text x="1397.3" y="2657.8" font-size="19.5" text-anchor="end">0.0</text>
<path d="M1494.9,2441.0 1495.0,2442.0 1495.1,2443.0 1495.1,2444.0 1495.1,2445.0 1495.1,2446.0 1495.1,2447.0 1495.1,2448.0 1495.1,2449.0 1495.1,2450.0 1495.1,2451.0 1495.1,2452.0 1495.1,2453.0 1495.1,2454.0 1495.1,2455.0 1495.1,2456.0 1495.1,2457.0 1495.1,2458.0 1495.1,2459.0 1495.1,2460.0 1495.1,2461.0 1495.1,2462.0 1495.1,2463.0 1495.1,2464.0 1495.1,2465.0 1495.1,2466.0 1495.1,2467.0 1495.1,2468.0 1495.1,2469.0 1495.1,2470.0 1495.1,2471.0 1495.1,2472.0 1495.1,2473.0 1495.1,2474.0 1495.1,2475.0 1495.1,2476.0 1495.1,2477.0 1495.1,2478.0 1495.1,2479.0 1495.1,2480.0 1495.1,2481.0 1495.1,2482.0 1495.1,2483.0 1495.1,2484.0 1495.1,2485.0 1495.1,2486.0 1495.1,2487.0 1495.1,2488.0 1495.1,2489.0 1495.1,2490.0 1495.1,2491.0 1495.1,2492.0 1495.1,2493.0 1495.1,2494.0 1495.1,2495.0 1495.1,2496.0 1495.1,2497.0 1495.1,2498.0 1495.1,2499.0 1495.1,2500.0 1495.1,2501.0 1495.1,2502.0 1495.1,2503.0 1495.1,2504.0 1495.1,2505.0 1495.1,2506.0 1495.1,2507.0 1495.1,2508.0 1495.1,2509.0 1495.1,2510.0 1495.1,2511.0 1495.1,2512.0 1495.1,2513.0 1495.1,2514.0 1495.1,2515.0 1495.1,2516.0 1495.1,2517.0 1495.1,2518.0 1495.1,2519.0 1495.1,2520.0 1495.1,2521.0 1495.1,2522.0 1495.1,2523.0 1495.1,2524.0 1495.1,2525.0 1495.1,2526.0 1495.1,2527.0 1495.1,2528.0 1495.1,2529.0 1495.1,2530.0 1495.1,2531.0 1495.1,2532.0 1495.1,2533.0 1495.1,2534.0 1495.1,2535.0 1495.1,2536.0 1495.1,2537.0 1495.1,2538.0 1495.1,2539.0 1495.1,2540.0 1495.1,2541.0 1495.1,2542.0 1495.1,2543.0 1495.1,2544.0 1495.1,2545.0 1495.1,2546.0 1495.1,2547.0 1495.1,2548.0 1495.1,2549.0 1495.1,2550.0 1495.1,2551.0 1495.1,2552.0 1495.1,2553.0 1495.1,2554.0 1495.1,2555.0 1495.1,2556.0 1495.1,2557.0 1495.1,2558.0 1495.1,2559.0 1495.1,2560.0 1495.1,2561.0 1495.1,2562.0 1495.1,2563.0 1495.1,2564.0 1495.1,2565.0 1495.1,2566.0 1495.1,2567.0 1495.1,2568.0 1495.1,2569.0 1495.1,2570.0 1495.1,2571.0 1495.1,2572.0 1495.1,2573.0 1495.1,2574.0 1495.1,2575.0 1495.1,2576.0 1495.1,2577.0 1495.1,2578.0 1495.1,2579.0 1495.1,2580.0 1495.1,2581.0 1495.1,2582.0 1495.1,2583.0 1495.1,2584.0 1495.1,2585.0 1495.1,2586.0 1495.1,2587.0 1495.1,2588.0 1495.1,2589.0 1495.1,2590.0 1495.1,2591.0 1495.1,2592.0 1495.1,2593.0 1495.1,2594.0 1495.1,2595.0 1495.1,2596.0 1495.1,2597.0 1495.1,2598.0 1495.1,2599.0 1495.1,2600.0 1495.1,2601.0 1495.1,2602.0 1495.1,2603.0 1495.1,2604.0 1495.1,2605.0 1495.1,2606.0 1495.1,2607.0 1495.1,2608.0 1495.1,2609.0 1495.1,2610.0 1495.1,2611.0 1495.1,2612.0 1495.1,2613.0 1495.1,2614.0 1495.1,2615.0 1495.1,2616.0 1495.1,2617.0 1495.1,2618.0 1495.1,2619.0 1495.1,2620.0 1495.1,2621.0 1495.1,2622.0 1495.1,2623.0 1495.1,2624.0 1495.1,2625.0 1495.1,2626.0 1495.1,2627.0 1495.1,2628.0 1495.1,2629.0 1495.1,2630.0 1495.1,2631.0 1495.1,2632.0 1495.1,2633.0 1495.1,2634.0 1495.1,2635.0 1495.1,2636.0 1495.1,2637.0 1495.1,2638.0 1495.1,2639.0 1495.1,2640.0 1495.1,2641.0 1495.1,2642.0 1495.1,2643.0 1495.2,2644.0 1495.5,2645.0 1496.1,2646.0 1498.8,2647.0 1504.4,2648.0 1513.7,2649.0 1548.4,2650.0 1550.3,2651.0 1550.5,2652.0 1550.5,2652.3 1435.5,2652.3 1435.5,2652.0 1435.7,2651.0 1437.6,2650.0 1472.3,2649.0 1481.6,2648.0 1487.2,2647.0 1489.9,2646.0 1490.5,2645.0 1490.8,2644.0 1490.9,2643.0 1490.9,2642.0 1490.9,2641.0 1490.9,2640.0 1490.9,2639.0 1490.9,2638.0 1490.9,2637.0 1490.9,2636.0 1490.9,2635.0 1490.9,2634.0 1490.9,2633.0 1490.9,2632.0 1490.9,2631.0 1490.9,2630.0 1490.9,2629.0 1490.9,2628.0 1490.9,2627.0 1490.9,2626.0 1490.9,2625.0 1490.9,2624.0 1490.9,2623.0 1490.9,2622.0 1490.9,2621.0 1490.9,2620.0 1490.9,2619.0 1490.9,2618.0 1490.9,2617.0 1490.9,2616.0 1490.9,2615.0 1490.9,2614.0 1490.9,2613.0 1490.9,2612.0 1490.9,2611.0 1490.9,2610.0 1490.9,2609.0 1490.9,2608.0 1490.9,2607.0 1490.9,2606.0 1490.9,2605.0 1490.9,2604.0 1490.9,2603.0 1490.9,2602.0 1490.9,2601.0 1490.9,2600.0 1490.9,2599.0 1490.9,2598.0 1490.9,2597.0 1490.9,2596.0 1490.9,2595.0 1490.9,2594.0 1490.9,2593.0 1490.9,2592.0 1490.9,2591.0 1490.9,2590.0 1490.9,2589.0 1490.9,2588.0 1490.9,2587.0 1490.9,2586.0 1490.9,2585.0 1490.9,2584.0 1490.9,2583.0 1490.9,2582.0 1490.9,2581.0 1490.9,2580.0 1490.9,2579.0 1490.9,2578.0 1490.9,2577.0 1490.9,2576.0 1490.9,2575.0 1490.9,2574.0 1490.9,2573.0 1490.9,2572.0 1490.9,2571.0 1490.9,2570.0 1490.9,2569.0 1490.9,2568.0 1490.9,2567.0 1490.9,2566.0 1490.9,2565.0 1490.9,2564.0 1490.9,2563.0 1490.9,2562.0 1490.9,2561.0 1490.9,2560.0 1490.9,2559.0 1490.9,2558.0 1490.9,2557.0 1490.9,2556.0 1490.9,2555.0 1490.9,2554.0 1490.9,2553.0 1490.9,2552.0 1490.9,2551.0 1490.9,2550.0 1490.9,2549.0 1490.9,2548.0 1490.9,2547.0 1490.9,2546.0 1490.9,2545.0 1490.9,2544.0 1490.9,2543.0 1490.9,2542.0 1490.9,2541.0 1490.9,2540.0 1490.9,2539.0 1490.9,2538.0 1490.9,2537.0 1490.9,2536.0 1490.9,2535.0 1490.9,2534.0 1490.9,2533.0 1490.9,2532.0 1490.9,2531.0 1490.9,2530.0 1490.9,2529.0 1490.9,2528.0 1490.9,2527.0 1490.9,2526.0 1490.9,2525.0 1490.9,2524.0 1490.9,2523.0 1490.9,2522.0 1490.9,2521.0 1490.9,2520.0 1490.9,2519.0 1490.9,2518.0 1490.9,2517.0 1490.9,2516.0 1490.9,2515.0 1490.9,2514.0 1490.9,2513.0 1490.9,2512.0 1490.9,2511.0 1490.9,2510.0 1490.9,2509.0 1490.9,2508.0 1490.9,2507.0 1490.9,2506.0 1490.9,2505.0 1490.9,2504.0 1490.9,2503.0 1490.9,2502.0 1490.9,2501.0 1490.9,2500.0 1490.9,2499.0 1490.9,2498.0 1490.9,2497.0 1490.9,2496.0 1490.9,2495.0 1490.9,2494.0 1490.9,2493.0 1490.9,2492.0 1490.9,2491.0 1490.9,2490.0 1490.9,2489.0 1490.9,2488.0 1490.9,2487.0 1490.9,2486.0 1490.9,2485.0 1490.9,2484.0 1490.9,2483.0 1490.9,2482.0 1490.9,2481.0 1490.9,2480.0 1490.9,2479.0 1490.9,2478.0 1490.9,2477.0 1490.9,2476.0 1490.9,2475.0 1490.9,2474.0 1490.9,2473.0 1490.9,2472.0 1490.9,2471.0 1490.9,2470.0 1490.9,2469.0 1490.9,2468.0 1490.9,2467.0 1490.9,2466.0 1490.9,2465.0 1490.9,2464.0 1490.9,2463.0 1490.9,2462.0 1490.9,2461.0 1490.9,2460.0 1490.9,2459.0 1490.9,2458.0 1490.9,2457.0 1490.9,2456.0 1490.9,2455.0 1490.9,2454.0 1490.9,2453.0 1490.9,2452.0 1490.9,2451.0 1490.9,2450.0 1490.9,2449.0 1490.9,2448.0 1490.9,2447.0 1490.9,2446.0 1490.9,2445.0 1490.9,2444.0 1490.9,2443.0 1491.0,2442.0 1491.1,2441.0Z" fill="#5A0333" stroke="#5A0333" stroke-width="0.9" stroke-linejoin="round"/>
<rect x="1614" y="2649.5" width="7.8" height="3.2" rx="1" fill="#A4C46C"/>
<text x="1494.7" y="2690.0" font-size="20" text-anchor="middle">Control</text>
<text x="1622.7" y="2690.0" font-size="20" text-anchor="middle">41BB</text>
<text x="1883.8" y="2398.6" font-size="20.5" text-anchor="middle">Socs3</text>
<text x="1884.3" y="2429.8" font-size="28" text-anchor="middle" font-weight="bold">*</text>
<rect x="1798.3" y="2430.9" width="174.5" height="13" fill="url(#shd)"/>
<line x1="1798.30" y1="2429.80" x2="1972.80" y2="2429.80" stroke="#000" stroke-width="2.2"/>
<rect x="1698.60" y="2451.00" width="10.40" height="5.00" fill="#333"/>
<text x="1688.6" y="2460.0" font-size="19.5" text-anchor="end">4</text>
<rect x="1698.60" y="2499.50" width="10.40" height="5.00" fill="#333"/>
<text x="1688.6" y="2508.5" font-size="19.5" text-anchor="end">3</text>
<rect x="1698.60" y="2548.90" width="10.40" height="5.00" fill="#333"/>
<text x="1688.6" y="2557.9" font-size="19.5" text-anchor="end">2</text>
<rect x="1698.60" y="2598.00" width="10.40" height="5.00" fill="#333"/>
<text x="1688.6" y="2607.0" font-size="19.5" text-anchor="end">1</text>
<rect x="1698.60" y="2647.10" width="10.40" height="5.00" fill="#333"/>
<text x="1688.6" y="2656.1" font-size="19.5" text-anchor="end">0</text>
<path d="M1803.9,2445.3 1804.0,2446.3 1804.1,2447.3 1804.2,2448.3 1804.3,2449.3 1804.4,2450.3 1804.4,2451.3 1804.5,2452.3 1804.6,2453.3 1804.6,2454.3 1804.7,2455.3 1804.8,2456.3 1804.9,2457.3 1805.0,2458.3 1805.1,2459.3 1805.2,2460.3 1805.3,2461.3 1805.5,2462.3 1805.7,2463.3 1805.9,2464.3 1806.0,2465.3 1806.2,2466.3 1806.4,2467.3 1806.7,2468.3 1806.9,2469.3 1807.1,2470.3 1807.3,2471.3 1807.6,2472.3 1807.8,2473.3 1808.0,2474.3 1808.3,2475.3 1808.5,2476.3 1808.7,2477.3 1808.9,2478.3 1809.2,2479.3 1809.4,2480.3 1809.6,2481.3 1809.9,2482.3 1810.1,2483.3 1810.3,2484.3 1810.6,2485.3 1810.8,2486.3 1811.1,2487.3 1811.3,2488.3 1811.6,2489.3 1811.9,2490.3 1812.1,2491.3 1812.4,2492.3 1812.7,2493.3 1812.9,2494.3 1813.2,2495.3 1813.5,2496.3 1813.7,2497.3 1814.0,2498.3 1814.3,2499.3 1814.6,2500.3 1814.9,2501.3 1815.2,2502.3 1815.6,2503.3 1815.9,2504.3 1816.2,2505.3 1816.5,2506.3 1816.8,2507.3 1817.1,2508.3 1817.5,2509.3 1817.8,2510.3 1818.1,2511.3 1818.4,2512.3 1818.6,2513.3 1818.9,2514.3 1819.2,2515.3 1819.4,2516.3 1819.6,2517.3 1819.9,2518.3 1820.1,2519.3 1820.3,2520.3 1820.6,2521.3 1820.8,2522.3 1821.0,2523.3 1821.3,2524.3 1821.5,2525.3 1821.7,2526.3 1821.9,2527.3 1822.1,2528.3 1822.3,2529.3 1822.4,2530.3 1822.6,2531.3 1822.7,2532.3 1822.9,2533.3 1823.0,2534.3 1823.1,2535.3 1823.2,2536.3 1823.4,2537.3 1823.5,2538.3 1823.6,2539.3 1823.7,2540.3 1823.8,2541.3 1823.8,2542.3 1823.9,2543.3 1824.0,2544.3 1824.1,2545.3 1824.2,2546.3 1824.3,2547.3 1824.3,2548.3 1824.4,2549.3 1824.4,2550.3 1824.5,2551.3 1824.5,2552.3 1824.6,2553.3 1824.6,2554.3 1824.6,2555.3 1824.7,2556.3 1824.7,2557.3 1824.7,2558.3 1824.7,2559.3 1824.8,2560.3 1824.8,2561.3 1824.8,2562.3 1824.8,2563.3 1824.8,2564.3 1824.8,2565.3 1824.9,2566.3 1824.9,2567.3 1824.9,2568.3 1824.9,2569.3 1824.9,2570.3 1825.0,2571.3 1825.0,2572.3 1825.0,2573.3 1825.0,2574.3 1825.0,2575.3 1825.1,2576.3 1825.1,2577.3 1825.1,2578.3 1825.1,2579.3 1825.2,2580.3 1825.2,2581.3 1825.2,2582.3 1825.2,2583.3 1825.3,2584.3 1825.3,2585.3 1825.4,2586.3 1825.5,2587.3 1825.8,2588.3 1826.2,2589.3 1826.7,2590.3 1827.2,2591.3 1827.6,2592.3 1827.8,2593.3 1827.9,2594.3 1827.5,2595.3 1826.7,2596.3 1825.8,2597.3 1824.9,2598.3 1824.2,2599.3 1823.9,2600.3 1823.6,2601.3 1823.4,2602.3 1823.3,2603.3 1823.2,2604.3 1823.1,2605.3 1823.4,2606.3 1824.6,2607.3 1826.5,2608.3 1828.6,2609.3 1830.8,2610.3 1832.6,2611.3 1834.3,2612.3 1836.2,2613.3 1837.8,2614.3 1839.0,2615.3 1839.3,2616.3 1838.6,2617.3 1837.3,2618.3 1835.5,2619.3 1833.5,2620.3 1831.6,2621.3 1829.2,2622.3 1826.5,2623.3 1823.6,2624.3 1820.7,2625.3 1818.1,2626.3 1815.7,2627.3 1813.0,2628.3 1810.4,2629.3 1808.5,2630.3 1807.8,2631.3 1808.4,2632.3 1810.1,2633.3 1812.5,2634.3 1815.2,2635.3 1817.9,2636.3 1821.1,2637.3 1824.8,2638.3 1829.0,2639.3 1833.5,2640.3 1838.0,2641.3 1842.6,2642.3 1847.6,2643.3 1852.8,2644.3 1857.9,2645.3 1863.2,2646.3 1868.5,2647.3 1871.8,2648.3 1873.6,2649.3 1873.7,2649.5 1730.5,2649.5 1730.6,2649.3 1732.4,2648.3 1735.7,2647.3 1741.0,2646.3 1746.3,2645.3 1751.4,2644.3 1756.6,2643.3 1761.6,2642.3 1766.2,2641.3 1770.7,2640.3 1775.2,2639.3 1779.4,2638.3 1783.1,2637.3 1786.3,2636.3 1789.0,2635.3 1791.7,2634.3 1794.1,2633.3 1795.8,2632.3 1796.4,2631.3 1795.7,2630.3 1793.8,2629.3 1791.2,2628.3 1788.5,2627.3 1786.1,2626.3 1783.5,2625.3 1780.6,2624.3 1777.7,2623.3 1775.0,2622.3 1772.6,2621.3 1770.7,2620.3 1768.7,2619.3 1766.9,2618.3 1765.6,2617.3 1764.9,2616.3 1765.2,2615.3 1766.4,2614.3 1768.0,2613.3 1769.9,2612.3 1771.6,2611.3 1773.4,2610.3 1775.6,2609.3 1777.7,2608.3 1779.6,2607.3 1780.8,2606.3 1781.1,2605.3 1781.0,2604.3 1780.9,2603.3 1780.8,2602.3 1780.6,2601.3 1780.3,2600.3 1780.0,2599.3 1779.3,2598.3 1778.4,2597.3 1777.5,2596.3 1776.7,2595.3 1776.3,2594.3 1776.4,2593.3 1776.6,2592.3 1777.0,2591.3 1777.5,2590.3 1778.0,2589.3 1778.4,2588.3 1778.7,2587.3 1778.8,2586.3 1778.9,2585.3 1778.9,2584.3 1779.0,2583.3 1779.0,2582.3 1779.0,2581.3 1779.0,2580.3 1779.1,2579.3 1779.1,2578.3 1779.1,2577.3 1779.1,2576.3 1779.2,2575.3 1779.2,2574.3 1779.2,2573.3 1779.2,2572.3 1779.2,2571.3 1779.3,2570.3 1779.3,2569.3 1779.3,2568.3 1779.3,2567.3 1779.3,2566.3 1779.4,2565.3 1779.4,2564.3 1779.4,2563.3 1779.4,2562.3 1779.4,2561.3 1779.4,2560.3 1779.5,2559.3 1779.5,2558.3 1779.5,2557.3 1779.5,2556.3 1779.6,2555.3 1779.6,2554.3 1779.6,2553.3 1779.7,2552.3 1779.7,2551.3 1779.8,2550.3 1779.8,2549.3 1779.9,2548.3 1779.9,2547.3 1780.0,2546.3 1780.1,2545.3 1780.2,2544.3 1780.3,2543.3 1780.4,2542.3 1780.4,2541.3 1780.5,2540.3 1780.6,2539.3 1780.7,2538.3 1780.8,2537.3 1781.0,2536.3 1781.1,2535.3 1781.2,2534.3 1781.3,2533.3 1781.5,2532.3 1781.6,2531.3 1781.8,2530.3 1781.9,2529.3 1782.1,2528.3 1782.3,2527.3 1782.5,2526.3 1782.7,2525.3 1782.9,2524.3 1783.2,2523.3 1783.4,2522.3 1783.6,2521.3 1783.9,2520.3 1784.1,2519.3 1784.3,2518.3 1784.6,2517.3 1784.8,2516.3 1785.0,2515.3 1785.3,2514.3 1785.6,2513.3 1785.8,2512.3 1786.1,2511.3 1786.4,2510.3 1786.7,2509.3 1787.1,2508.3 1787.4,2507.3 1787.7,2506.3 1788.0,2505.3 1788.3,2504.3 1788.6,2503.3 1789.0,2502.3 1789.3,2501.3 1789.6,2500.3 1789.9,2499.3 1790.2,2498.3 1790.5,2497.3 1790.7,2496.3 1791.0,2495.3 1791.3,2494.3 1791.5,2493.3 1791.8,2492.3 1792.1,2491.3 1792.3,2490.3 1792.6,2489.3 1792.9,2488.3 1793.1,2487.3 1793.4,2486.3 1793.6,2485.3 1793.9,2484.3 1794.1,2483.3 1794.3,2482.3 1794.6,2481.3 1794.8,2480.3 1795.0,2479.3 1795.3,2478.3 1795.5,2477.3 1795.7,2476.3 1795.9,2475.3 1796.2,2474.3 1796.4,2473.3 1796.6,2472.3 1796.9,2471.3 1797.1,2470.3 1797.3,2469.3 1797.5,2468.3 1797.8,2467.3 1798.0,2466.3 1798.2,2465.3 1798.3,2464.3 1798.5,2463.3 1798.7,2462.3 1798.9,2461.3 1799.0,2460.3 1799.1,2459.3 1799.2,2458.3 1799.3,2457.3 1799.4,2456.3 1799.5,2455.3 1799.6,2454.3 1799.6,2453.3 1799.7,2452.3 1799.8,2451.3 1799.8,2450.3 1799.9,2449.3 1800.0,2448.3 1800.1,2447.3 1800.2,2446.3 1800.3,2445.3Z" fill="#5A0333" stroke="#5A0333" stroke-width="0.9" stroke-linejoin="round"/>
<path d="M1959.7,2474.8 1960.0,2475.8 1960.2,2476.8 1960.4,2477.8 1960.5,2478.8 1960.7,2479.8 1960.9,2480.8 1961.0,2481.8 1961.2,2482.8 1961.4,2483.8 1961.5,2484.8 1961.7,2485.8 1961.9,2486.8 1962.1,2487.8 1962.3,2488.8 1962.5,2489.8 1962.8,2490.8 1963.0,2491.8 1963.2,2492.8 1963.5,2493.8 1963.7,2494.8 1964.0,2495.8 1964.2,2496.8 1964.5,2497.8 1964.8,2498.8 1965.0,2499.8 1965.3,2500.8 1965.6,2501.8 1965.8,2502.8 1966.1,2503.8 1966.4,2504.8 1966.7,2505.8 1966.9,2506.8 1967.2,2507.8 1967.5,2508.8 1967.8,2509.8 1968.1,2510.8 1968.4,2511.8 1968.7,2512.8 1969.0,2513.8 1969.3,2514.8 1969.6,2515.8 1969.9,2516.8 1970.3,2517.8 1970.6,2518.8 1970.9,2519.8 1971.2,2520.8 1971.5,2521.8 1971.8,2522.8 1972.1,2523.8 1972.3,2524.8 1972.6,2525.8 1972.9,2526.8 1973.1,2527.8 1973.4,2528.8 1973.6,2529.8 1973.9,2530.8 1974.1,2531.8 1974.3,2532.8 1974.6,2533.8 1974.8,2534.8 1975.0,2535.8 1975.2,2536.8 1975.5,2537.8 1975.7,2538.8 1976.0,2539.8 1976.2,2540.8 1976.5,2541.8 1976.8,2542.8 1977.1,2543.8 1977.4,2544.8 1977.7,2545.8 1978.1,2546.8 1978.5,2547.8 1978.9,2548.8 1979.4,2549.8 1979.8,2550.8 1980.3,2551.8 1980.8,2552.8 1981.3,2553.8 1981.7,2554.8 1982.2,2555.8 1982.7,2556.8 1983.1,2557.8 1983.5,2558.8 1983.9,2559.8 1984.2,2560.8 1984.5,2561.8 1984.7,2562.8 1984.9,2563.8 1985.1,2564.8 1985.3,2565.8 1985.5,2566.8 1985.7,2567.8 1985.8,2568.8 1986.0,2569.8 1986.1,2570.8 1986.3,2571.8 1986.4,2572.8 1986.5,2573.8 1986.6,2574.8 1986.7,2575.8 1986.7,2576.8 1986.8,2577.8 1986.8,2578.8 1986.7,2579.8 1986.5,2580.8 1986.2,2581.8 1985.8,2582.8 1985.3,2583.8 1984.9,2584.8 1984.5,2585.8 1984.2,2586.8 1984.0,2587.8 1984.1,2588.8 1984.7,2589.8 1985.8,2590.8 1987.0,2591.8 1988.1,2592.8 1988.7,2593.8 1988.5,2594.8 1987.8,2595.8 1986.6,2596.8 1985.1,2597.8 1983.7,2598.8 1982.4,2599.8 1981.5,2600.8 1981.1,2601.8 1981.2,2602.8 1981.3,2603.8 1981.6,2604.8 1982.0,2605.8 1982.5,2606.8 1983.5,2607.8 1988.4,2608.8 1995.0,2609.8 2001.1,2610.8 2007.5,2611.8 2012.5,2612.8 2015.6,2613.8 2018.2,2614.8 2019.6,2615.8 2019.1,2616.8 2016.8,2617.8 2013.8,2618.8 2010.3,2619.8 2005.8,2620.8 2000.8,2621.8 1995.9,2622.8 1991.0,2623.8 1985.7,2624.8 1980.5,2625.8 1975.7,2626.8 1971.8,2627.8 1969.0,2628.8 1966.5,2629.8 1964.4,2630.8 1963.2,2631.8 1963.2,2632.8 1965.0,2633.8 1968.1,2634.8 1972.0,2635.8 1976.3,2636.8 1980.4,2637.8 1984.2,2638.8 1988.3,2639.8 1992.7,2640.8 1997.2,2641.8 2001.8,2642.8 2006.4,2643.8 2011.4,2644.8 2016.8,2645.8 2021.8,2646.8 2025.6,2647.8 2028.1,2648.8 2029.2,2649.5 1887.2,2649.5 1888.3,2648.8 1890.8,2647.8 1894.6,2646.8 1899.6,2645.8 1905.0,2644.8 1910.0,2643.8 1914.6,2642.8 1919.2,2641.8 1923.7,2640.8 1928.1,2639.8 1932.2,2638.8 1936.0,2637.8 1940.1,2636.8 1944.4,2635.8 1948.3,2634.8 1951.4,2633.8 1953.2,2632.8 1953.2,2631.8 1952.0,2630.8 1949.9,2629.8 1947.4,2628.8 1944.6,2627.8 1940.7,2626.8 1935.9,2625.8 1930.7,2624.8 1925.4,2623.8 1920.5,2622.8 1915.6,2621.8 1910.6,2620.8 1906.1,2619.8 1902.6,2618.8 1899.6,2617.8 1897.3,2616.8 1896.8,2615.8 1898.2,2614.8 1900.8,2613.8 1903.9,2612.8 1908.9,2611.8 1915.3,2610.8 1921.4,2609.8 1928.0,2608.8 1932.9,2607.8 1933.9,2606.8 1934.4,2605.8 1934.8,2604.8 1935.1,2603.8 1935.2,2602.8 1935.3,2601.8 1934.9,2600.8 1934.0,2599.8 1932.7,2598.8 1931.3,2597.8 1929.8,2596.8 1928.6,2595.8 1927.9,2594.8 1927.7,2593.8 1928.3,2592.8 1929.4,2591.8 1930.6,2590.8 1931.7,2589.8 1932.3,2588.8 1932.4,2587.8 1932.2,2586.8 1931.9,2585.8 1931.5,2584.8 1931.1,2583.8 1930.6,2582.8 1930.2,2581.8 1929.9,2580.8 1929.7,2579.8 1929.6,2578.8 1929.6,2577.8 1929.7,2576.8 1929.7,2575.8 1929.8,2574.8 1929.9,2573.8 1930.0,2572.8 1930.1,2571.8 1930.3,2570.8 1930.4,2569.8 1930.6,2568.8 1930.7,2567.8 1930.9,2566.8 1931.1,2565.8 1931.3,2564.8 1931.5,2563.8 1931.7,2562.8 1931.9,2561.8 1932.2,2560.8 1932.5,2559.8 1932.9,2558.8 1933.3,2557.8 1933.7,2556.8 1934.2,2555.8 1934.7,2554.8 1935.1,2553.8 1935.6,2552.8 1936.1,2551.8 1936.6,2550.8 1937.0,2549.8 1937.5,2548.8 1937.9,2547.8 1938.3,2546.8 1938.7,2545.8 1939.0,2544.8 1939.3,2543.8 1939.6,2542.8 1939.9,2541.8 1940.2,2540.8 1940.4,2539.8 1940.7,2538.8 1940.9,2537.8 1941.2,2536.8 1941.4,2535.8 1941.6,2534.8 1941.8,2533.8 1942.1,2532.8 1942.3,2531.8 1942.5,2530.8 1942.8,2529.8 1943.0,2528.8 1943.3,2527.8 1943.5,2526.8 1943.8,2525.8 1944.1,2524.8 1944.3,2523.8 1944.6,2522.8 1944.9,2521.8 1945.2,2520.8 1945.5,2519.8 1945.8,2518.8 1946.1,2517.8 1946.5,2516.8 1946.8,2515.8 1947.1,2514.8 1947.4,2513.8 1947.7,2512.8 1948.0,2511.8 1948.3,2510.8 1948.6,2509.8 1948.9,2508.8 1949.2,2507.8 1949.5,2506.8 1949.7,2505.8 1950.0,2504.8 1950.3,2503.8 1950.6,2502.8 1950.8,2501.8 1951.1,2500.8 1951.4,2499.8 1951.6,2498.8 1951.9,2497.8 1952.2,2496.8 1952.4,2495.8 1952.7,2494.8 1952.9,2493.8 1953.2,2492.8 1953.4,2491.8 1953.6,2490.8 1953.9,2489.8 1954.1,2488.8 1954.3,2487.8 1954.5,2486.8 1954.7,2485.8 1954.9,2484.8 1955.0,2483.8 1955.2,2482.8 1955.4,2481.8 1955.5,2480.8 1955.7,2479.8 1955.9,2478.8 1956.0,2477.8 1956.2,2476.8 1956.4,2475.8 1956.7,2474.8Z" fill="#A4C46C" stroke="#A4C46C" stroke-width="0.9" stroke-linejoin="round"/>
<text x="1799.5" y="2690.3" font-size="20" text-anchor="middle">Control</text>
<text x="1953.6" y="2690.3" font-size="20" text-anchor="middle">41BB</text>
</svg></body></html>
